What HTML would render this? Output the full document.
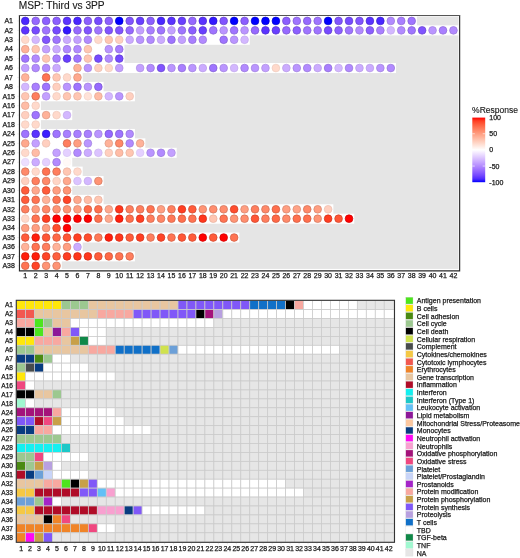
<!DOCTYPE html>
<html><head><meta charset="utf-8"><style>
html,body{margin:0;padding:0;background:#fff;width:520px;height:558px;overflow:hidden;}
svg{display:block;will-change:transform;}
text{stroke:#1a1a1a;stroke-width:0.25px;}
</style></head><body>
<svg width="520" height="558" viewBox="0 0 520 558" font-family='"Liberation Sans", sans-serif'>
<rect x="0" y="0" width="520" height="558" fill="#ffffff"/>
<text x="18.8" y="8.8" font-size="10.2" fill="#1a1a1a" style="stroke-width:0.12px">MSP: Third vs 3PP</text>
<rect x="20.1" y="16.45" width="438.40" height="252.45" fill="#e5e5e5"/>
<rect x="20.02" y="15.94" width="396.87" height="10.02" fill="#ffffff"/>
<rect x="20.02" y="25.36" width="438.65" height="10.02" fill="#ffffff"/>
<rect x="20.02" y="34.78" width="229.77" height="10.02" fill="#ffffff"/>
<rect x="20.02" y="44.19" width="104.44" height="10.02" fill="#ffffff"/>
<rect x="20.02" y="53.61" width="104.44" height="10.02" fill="#ffffff"/>
<rect x="20.02" y="63.03" width="375.98" height="10.02" fill="#ffffff"/>
<rect x="20.02" y="72.44" width="62.66" height="10.02" fill="#ffffff"/>
<rect x="20.02" y="81.86" width="83.55" height="10.02" fill="#ffffff"/>
<rect x="20.02" y="91.28" width="114.88" height="10.02" fill="#ffffff"/>
<rect x="20.02" y="100.69" width="20.89" height="10.02" fill="#ffffff"/>
<rect x="20.02" y="110.11" width="52.22" height="10.02" fill="#ffffff"/>
<rect x="20.02" y="119.53" width="20.89" height="10.02" fill="#ffffff"/>
<rect x="20.02" y="128.95" width="114.88" height="10.02" fill="#ffffff"/>
<rect x="20.02" y="138.36" width="125.33" height="10.02" fill="#ffffff"/>
<rect x="20.02" y="147.78" width="156.66" height="10.02" fill="#ffffff"/>
<rect x="20.02" y="157.20" width="52.22" height="10.02" fill="#ffffff"/>
<rect x="20.02" y="166.61" width="62.66" height="10.02" fill="#ffffff"/>
<rect x="20.02" y="176.03" width="83.55" height="10.02" fill="#ffffff"/>
<rect x="20.02" y="185.45" width="52.22" height="10.02" fill="#ffffff"/>
<rect x="20.02" y="194.86" width="83.55" height="10.02" fill="#ffffff"/>
<rect x="20.02" y="204.28" width="313.32" height="10.02" fill="#ffffff"/>
<rect x="20.02" y="213.70" width="334.21" height="10.02" fill="#ffffff"/>
<rect x="20.02" y="223.12" width="52.22" height="10.02" fill="#ffffff"/>
<rect x="20.02" y="232.53" width="219.32" height="10.02" fill="#ffffff"/>
<rect x="20.02" y="241.95" width="62.66" height="10.02" fill="#ffffff"/>
<rect x="20.02" y="251.37" width="114.88" height="10.02" fill="#ffffff"/>
<rect x="20.02" y="260.78" width="41.78" height="10.02" fill="#ffffff"/>
<circle cx="25.25" cy="20.95" r="3.85" fill="#4a27ff" stroke="#3b1fcc" stroke-width="0.7"/>
<circle cx="35.69" cy="20.95" r="3.85" fill="#9669ff" stroke="#7854cc" stroke-width="0.7"/>
<circle cx="46.13" cy="20.95" r="3.85" fill="#8c5fff" stroke="#704ccc" stroke-width="0.7"/>
<circle cx="56.58" cy="20.95" r="3.85" fill="#8c5fff" stroke="#704ccc" stroke-width="0.7"/>
<circle cx="67.02" cy="20.95" r="3.85" fill="#5b33ff" stroke="#4828cc" stroke-width="0.7"/>
<circle cx="77.47" cy="20.95" r="3.85" fill="#4a27ff" stroke="#3b1fcc" stroke-width="0.7"/>
<circle cx="87.91" cy="20.95" r="3.85" fill="#8c5fff" stroke="#704ccc" stroke-width="0.7"/>
<circle cx="98.35" cy="20.95" r="3.85" fill="#764aff" stroke="#5e3bcc" stroke-width="0.7"/>
<circle cx="108.80" cy="20.95" r="3.85" fill="#8c5fff" stroke="#704ccc" stroke-width="0.7"/>
<circle cx="119.24" cy="20.95" r="3.85" fill="#0000ff" stroke="#0000cc" stroke-width="0.7"/>
<circle cx="129.69" cy="20.95" r="3.85" fill="#8154ff" stroke="#6743cc" stroke-width="0.7"/>
<circle cx="140.13" cy="20.95" r="3.85" fill="#693fff" stroke="#5432cc" stroke-width="0.7"/>
<circle cx="150.57" cy="20.95" r="3.85" fill="#8c5fff" stroke="#704ccc" stroke-width="0.7"/>
<circle cx="161.02" cy="20.95" r="3.85" fill="#4a27ff" stroke="#3b1fcc" stroke-width="0.7"/>
<circle cx="171.46" cy="20.95" r="3.85" fill="#5b33ff" stroke="#4828cc" stroke-width="0.7"/>
<circle cx="181.91" cy="20.95" r="3.85" fill="#693fff" stroke="#5432cc" stroke-width="0.7"/>
<circle cx="192.35" cy="20.95" r="3.85" fill="#9669ff" stroke="#7854cc" stroke-width="0.7"/>
<circle cx="202.79" cy="20.95" r="3.85" fill="#5b33ff" stroke="#4828cc" stroke-width="0.7"/>
<circle cx="213.24" cy="20.95" r="3.85" fill="#3318ff" stroke="#2813cc" stroke-width="0.7"/>
<circle cx="223.68" cy="20.95" r="3.85" fill="#8154ff" stroke="#6743cc" stroke-width="0.7"/>
<circle cx="234.13" cy="20.95" r="3.85" fill="#0000ff" stroke="#0000cc" stroke-width="0.7"/>
<circle cx="244.57" cy="20.95" r="3.85" fill="#8c5fff" stroke="#704ccc" stroke-width="0.7"/>
<circle cx="255.01" cy="20.95" r="3.85" fill="#0000ff" stroke="#0000cc" stroke-width="0.7"/>
<circle cx="265.46" cy="20.95" r="3.85" fill="#0000ff" stroke="#0000cc" stroke-width="0.7"/>
<circle cx="275.90" cy="20.95" r="3.85" fill="#0000ff" stroke="#0000cc" stroke-width="0.7"/>
<circle cx="286.35" cy="20.95" r="3.85" fill="#8c5fff" stroke="#704ccc" stroke-width="0.7"/>
<circle cx="296.79" cy="20.95" r="3.85" fill="#9f74ff" stroke="#815ed0" stroke-width="0.7"/>
<circle cx="307.23" cy="20.95" r="3.85" fill="#9669ff" stroke="#7854cc" stroke-width="0.7"/>
<circle cx="317.68" cy="20.95" r="3.85" fill="#9f74ff" stroke="#815ed0" stroke-width="0.7"/>
<circle cx="328.12" cy="20.95" r="3.85" fill="#0000ff" stroke="#0000cc" stroke-width="0.7"/>
<circle cx="338.57" cy="20.95" r="3.85" fill="#8154ff" stroke="#6743cc" stroke-width="0.7"/>
<circle cx="349.01" cy="20.95" r="3.85" fill="#764aff" stroke="#5e3bcc" stroke-width="0.7"/>
<circle cx="359.45" cy="20.95" r="3.85" fill="#8154ff" stroke="#6743cc" stroke-width="0.7"/>
<circle cx="369.90" cy="20.95" r="3.85" fill="#5b33ff" stroke="#4828cc" stroke-width="0.7"/>
<circle cx="380.34" cy="20.95" r="3.85" fill="#4a27ff" stroke="#3b1fcc" stroke-width="0.7"/>
<circle cx="390.79" cy="20.95" r="3.85" fill="#b28aff" stroke="#9775d8" stroke-width="0.7"/>
<circle cx="401.23" cy="20.95" r="3.85" fill="#a97fff" stroke="#8c69d4" stroke-width="0.7"/>
<circle cx="411.67" cy="20.95" r="3.85" fill="#9f74ff" stroke="#815ed0" stroke-width="0.7"/>
<circle cx="25.25" cy="30.37" r="3.85" fill="#5b33ff" stroke="#4828cc" stroke-width="0.7"/>
<circle cx="35.69" cy="30.37" r="3.85" fill="#764aff" stroke="#5e3bcc" stroke-width="0.7"/>
<circle cx="46.13" cy="30.37" r="3.85" fill="#9f74ff" stroke="#815ed0" stroke-width="0.7"/>
<circle cx="56.58" cy="30.37" r="3.85" fill="#764aff" stroke="#5e3bcc" stroke-width="0.7"/>
<circle cx="67.02" cy="30.37" r="3.85" fill="#3318ff" stroke="#2813cc" stroke-width="0.7"/>
<circle cx="77.47" cy="30.37" r="3.85" fill="#9669ff" stroke="#7854cc" stroke-width="0.7"/>
<circle cx="87.91" cy="30.37" r="3.85" fill="#8154ff" stroke="#6743cc" stroke-width="0.7"/>
<circle cx="98.35" cy="30.37" r="3.85" fill="#9f74ff" stroke="#815ed0" stroke-width="0.7"/>
<circle cx="108.80" cy="30.37" r="3.85" fill="#8154ff" stroke="#6743cc" stroke-width="0.7"/>
<circle cx="119.24" cy="30.37" r="3.85" fill="#8154ff" stroke="#6743cc" stroke-width="0.7"/>
<circle cx="129.69" cy="30.37" r="3.85" fill="#9669ff" stroke="#7854cc" stroke-width="0.7"/>
<circle cx="140.13" cy="30.37" r="3.85" fill="#c3a0ff" stroke="#ac8de1" stroke-width="0.7"/>
<circle cx="150.57" cy="30.37" r="3.85" fill="#a97fff" stroke="#8c69d4" stroke-width="0.7"/>
<circle cx="161.02" cy="30.37" r="3.85" fill="#9f74ff" stroke="#815ed0" stroke-width="0.7"/>
<circle cx="171.46" cy="30.37" r="3.85" fill="#c3a0ff" stroke="#ac8de1" stroke-width="0.7"/>
<circle cx="181.91" cy="30.37" r="3.85" fill="#9f74ff" stroke="#815ed0" stroke-width="0.7"/>
<circle cx="192.35" cy="30.37" r="3.85" fill="#8c5fff" stroke="#704ccc" stroke-width="0.7"/>
<circle cx="202.79" cy="30.37" r="3.85" fill="#693fff" stroke="#5432cc" stroke-width="0.7"/>
<circle cx="213.24" cy="30.37" r="3.85" fill="#9f74ff" stroke="#815ed0" stroke-width="0.7"/>
<circle cx="223.68" cy="30.37" r="3.85" fill="#ba95ff" stroke="#a181dd" stroke-width="0.7"/>
<circle cx="234.13" cy="30.37" r="3.85" fill="#9f74ff" stroke="#815ed0" stroke-width="0.7"/>
<circle cx="244.57" cy="30.37" r="3.85" fill="#ba95ff" stroke="#a181dd" stroke-width="0.7"/>
<circle cx="255.01" cy="30.37" r="3.85" fill="#9669ff" stroke="#7854cc" stroke-width="0.7"/>
<circle cx="265.46" cy="30.37" r="3.85" fill="#5b33ff" stroke="#4828cc" stroke-width="0.7"/>
<circle cx="275.90" cy="30.37" r="3.85" fill="#693fff" stroke="#5432cc" stroke-width="0.7"/>
<circle cx="286.35" cy="30.37" r="3.85" fill="#9669ff" stroke="#7854cc" stroke-width="0.7"/>
<circle cx="296.79" cy="30.37" r="3.85" fill="#8c5fff" stroke="#704ccc" stroke-width="0.7"/>
<circle cx="307.23" cy="30.37" r="3.85" fill="#9f74ff" stroke="#815ed0" stroke-width="0.7"/>
<circle cx="317.68" cy="30.37" r="3.85" fill="#9f74ff" stroke="#815ed0" stroke-width="0.7"/>
<circle cx="328.12" cy="30.37" r="3.85" fill="#764aff" stroke="#5e3bcc" stroke-width="0.7"/>
<circle cx="338.57" cy="30.37" r="3.85" fill="#8c5fff" stroke="#704ccc" stroke-width="0.7"/>
<circle cx="349.01" cy="30.37" r="3.85" fill="#9f74ff" stroke="#815ed0" stroke-width="0.7"/>
<circle cx="359.45" cy="30.37" r="3.85" fill="#b28aff" stroke="#9775d8" stroke-width="0.7"/>
<circle cx="369.90" cy="30.37" r="3.85" fill="#8c5fff" stroke="#704ccc" stroke-width="0.7"/>
<circle cx="380.34" cy="30.37" r="3.85" fill="#a97fff" stroke="#8c69d4" stroke-width="0.7"/>
<circle cx="390.79" cy="30.37" r="3.85" fill="#d3b7ff" stroke="#c1a7e9" stroke-width="0.7"/>
<circle cx="401.23" cy="30.37" r="3.85" fill="#b28aff" stroke="#9775d8" stroke-width="0.7"/>
<circle cx="411.67" cy="30.37" r="3.85" fill="#9f74ff" stroke="#815ed0" stroke-width="0.7"/>
<circle cx="422.12" cy="30.37" r="3.85" fill="#8154ff" stroke="#6743cc" stroke-width="0.7"/>
<circle cx="432.56" cy="30.37" r="3.85" fill="#ba95ff" stroke="#a181dd" stroke-width="0.7"/>
<circle cx="443.01" cy="30.37" r="3.85" fill="#a97fff" stroke="#8c69d4" stroke-width="0.7"/>
<circle cx="453.45" cy="30.37" r="3.85" fill="#b28aff" stroke="#9775d8" stroke-width="0.7"/>
<circle cx="25.25" cy="39.78" r="3.85" fill="#ffd9cb" stroke="#eecabd" stroke-width="0.7"/>
<circle cx="35.69" cy="39.78" r="3.85" fill="#d3b7ff" stroke="#c1a7e9" stroke-width="0.7"/>
<circle cx="46.13" cy="39.78" r="3.85" fill="#8154ff" stroke="#6743cc" stroke-width="0.7"/>
<circle cx="56.58" cy="39.78" r="3.85" fill="#9f74ff" stroke="#815ed0" stroke-width="0.7"/>
<circle cx="67.02" cy="39.78" r="3.85" fill="#cbabff" stroke="#b699e5" stroke-width="0.7"/>
<circle cx="77.47" cy="39.78" r="3.85" fill="#c3a0ff" stroke="#ac8de1" stroke-width="0.7"/>
<circle cx="87.91" cy="39.78" r="3.85" fill="#b28aff" stroke="#9775d8" stroke-width="0.7"/>
<circle cx="98.35" cy="39.78" r="3.85" fill="#ffd9cb" stroke="#eecabd" stroke-width="0.7"/>
<circle cx="108.80" cy="39.78" r="3.85" fill="#ffc6b2" stroke="#e5b2a0" stroke-width="0.7"/>
<circle cx="119.24" cy="39.78" r="3.85" fill="#ffcfbf" stroke="#e9bdaf" stroke-width="0.7"/>
<circle cx="129.69" cy="39.78" r="3.85" fill="#cbabff" stroke="#b699e5" stroke-width="0.7"/>
<circle cx="140.13" cy="39.78" r="3.85" fill="#ba95ff" stroke="#a181dd" stroke-width="0.7"/>
<circle cx="150.57" cy="39.78" r="3.85" fill="#b28aff" stroke="#9775d8" stroke-width="0.7"/>
<circle cx="161.02" cy="39.78" r="3.85" fill="#cbabff" stroke="#b699e5" stroke-width="0.7"/>
<circle cx="171.46" cy="39.78" r="3.85" fill="#9f74ff" stroke="#815ed0" stroke-width="0.7"/>
<circle cx="181.91" cy="39.78" r="3.85" fill="#c3a0ff" stroke="#ac8de1" stroke-width="0.7"/>
<circle cx="192.35" cy="39.78" r="3.85" fill="#a97fff" stroke="#8c69d4" stroke-width="0.7"/>
<circle cx="202.79" cy="39.78" r="3.85" fill="#b28aff" stroke="#9775d8" stroke-width="0.7"/>
<circle cx="223.68" cy="39.78" r="3.85" fill="#9f74ff" stroke="#815ed0" stroke-width="0.7"/>
<circle cx="234.13" cy="39.78" r="3.85" fill="#ba95ff" stroke="#a181dd" stroke-width="0.7"/>
<circle cx="244.57" cy="39.78" r="3.85" fill="#d3b7ff" stroke="#c1a7e9" stroke-width="0.7"/>
<circle cx="25.25" cy="49.20" r="3.85" fill="#ffb299" stroke="#dd9a84" stroke-width="0.7"/>
<circle cx="35.69" cy="49.20" r="3.85" fill="#ffc6b2" stroke="#e5b2a0" stroke-width="0.7"/>
<circle cx="46.13" cy="49.20" r="3.85" fill="#c3a0ff" stroke="#ac8de1" stroke-width="0.7"/>
<circle cx="56.58" cy="49.20" r="3.85" fill="#cbabff" stroke="#b699e5" stroke-width="0.7"/>
<circle cx="67.02" cy="49.20" r="3.85" fill="#b28aff" stroke="#9775d8" stroke-width="0.7"/>
<circle cx="77.47" cy="49.20" r="3.85" fill="#b28aff" stroke="#9775d8" stroke-width="0.7"/>
<circle cx="87.91" cy="49.20" r="3.85" fill="#ffc6b2" stroke="#e5b2a0" stroke-width="0.7"/>
<circle cx="108.80" cy="49.20" r="3.85" fill="#ba95ff" stroke="#a181dd" stroke-width="0.7"/>
<circle cx="119.24" cy="49.20" r="3.85" fill="#a97fff" stroke="#8c69d4" stroke-width="0.7"/>
<circle cx="25.25" cy="58.62" r="3.85" fill="#9f74ff" stroke="#815ed0" stroke-width="0.7"/>
<circle cx="35.69" cy="58.62" r="3.85" fill="#b28aff" stroke="#9775d8" stroke-width="0.7"/>
<circle cx="46.13" cy="58.62" r="3.85" fill="#ffc6b2" stroke="#e5b2a0" stroke-width="0.7"/>
<circle cx="56.58" cy="58.62" r="3.85" fill="#a97fff" stroke="#8c69d4" stroke-width="0.7"/>
<circle cx="67.02" cy="58.62" r="3.85" fill="#693fff" stroke="#5432cc" stroke-width="0.7"/>
<circle cx="77.47" cy="58.62" r="3.85" fill="#9f74ff" stroke="#815ed0" stroke-width="0.7"/>
<circle cx="87.91" cy="58.62" r="3.85" fill="#ffc6b2" stroke="#e5b2a0" stroke-width="0.7"/>
<circle cx="98.35" cy="58.62" r="3.85" fill="#764aff" stroke="#5e3bcc" stroke-width="0.7"/>
<circle cx="108.80" cy="58.62" r="3.85" fill="#b28aff" stroke="#9775d8" stroke-width="0.7"/>
<circle cx="119.24" cy="58.62" r="3.85" fill="#764aff" stroke="#5e3bcc" stroke-width="0.7"/>
<circle cx="25.25" cy="68.04" r="3.85" fill="#c3a0ff" stroke="#ac8de1" stroke-width="0.7"/>
<circle cx="35.69" cy="68.04" r="3.85" fill="#b28aff" stroke="#9775d8" stroke-width="0.7"/>
<circle cx="46.13" cy="68.04" r="3.85" fill="#b28aff" stroke="#9775d8" stroke-width="0.7"/>
<circle cx="56.58" cy="68.04" r="3.85" fill="#cbabff" stroke="#b699e5" stroke-width="0.7"/>
<circle cx="77.47" cy="68.04" r="3.85" fill="#ffb299" stroke="#dd9a84" stroke-width="0.7"/>
<circle cx="87.91" cy="68.04" r="3.85" fill="#ba95ff" stroke="#a181dd" stroke-width="0.7"/>
<circle cx="98.35" cy="68.04" r="3.85" fill="#ffcfbf" stroke="#e9bdaf" stroke-width="0.7"/>
<circle cx="108.80" cy="68.04" r="3.85" fill="#ffd9cb" stroke="#eecabd" stroke-width="0.7"/>
<circle cx="119.24" cy="68.04" r="3.85" fill="#c3a0ff" stroke="#ac8de1" stroke-width="0.7"/>
<circle cx="140.13" cy="68.04" r="3.85" fill="#c3a0ff" stroke="#ac8de1" stroke-width="0.7"/>
<circle cx="150.57" cy="68.04" r="3.85" fill="#b28aff" stroke="#9775d8" stroke-width="0.7"/>
<circle cx="161.02" cy="68.04" r="3.85" fill="#8154ff" stroke="#6743cc" stroke-width="0.7"/>
<circle cx="171.46" cy="68.04" r="3.85" fill="#ba95ff" stroke="#a181dd" stroke-width="0.7"/>
<circle cx="181.91" cy="68.04" r="3.85" fill="#a97fff" stroke="#8c69d4" stroke-width="0.7"/>
<circle cx="192.35" cy="68.04" r="3.85" fill="#ba95ff" stroke="#a181dd" stroke-width="0.7"/>
<circle cx="202.79" cy="68.04" r="3.85" fill="#cbabff" stroke="#b699e5" stroke-width="0.7"/>
<circle cx="213.24" cy="68.04" r="3.85" fill="#9f74ff" stroke="#815ed0" stroke-width="0.7"/>
<circle cx="223.68" cy="68.04" r="3.85" fill="#ba95ff" stroke="#a181dd" stroke-width="0.7"/>
<circle cx="234.13" cy="68.04" r="3.85" fill="#d3b7ff" stroke="#c1a7e9" stroke-width="0.7"/>
<circle cx="244.57" cy="68.04" r="3.85" fill="#b28aff" stroke="#9775d8" stroke-width="0.7"/>
<circle cx="255.01" cy="68.04" r="3.85" fill="#ba95ff" stroke="#a181dd" stroke-width="0.7"/>
<circle cx="265.46" cy="68.04" r="3.85" fill="#c3a0ff" stroke="#ac8de1" stroke-width="0.7"/>
<circle cx="275.90" cy="68.04" r="3.85" fill="#ffd9cb" stroke="#eecabd" stroke-width="0.7"/>
<circle cx="286.35" cy="68.04" r="3.85" fill="#cbabff" stroke="#b699e5" stroke-width="0.7"/>
<circle cx="296.79" cy="68.04" r="3.85" fill="#ba95ff" stroke="#a181dd" stroke-width="0.7"/>
<circle cx="307.23" cy="68.04" r="3.85" fill="#b28aff" stroke="#9775d8" stroke-width="0.7"/>
<circle cx="317.68" cy="68.04" r="3.85" fill="#cbabff" stroke="#b699e5" stroke-width="0.7"/>
<circle cx="328.12" cy="68.04" r="3.85" fill="#a97fff" stroke="#8c69d4" stroke-width="0.7"/>
<circle cx="338.57" cy="68.04" r="3.85" fill="#d3b7ff" stroke="#c1a7e9" stroke-width="0.7"/>
<circle cx="349.01" cy="68.04" r="3.85" fill="#b28aff" stroke="#9775d8" stroke-width="0.7"/>
<circle cx="359.45" cy="68.04" r="3.85" fill="#cbabff" stroke="#b699e5" stroke-width="0.7"/>
<circle cx="369.90" cy="68.04" r="3.85" fill="#cbabff" stroke="#b699e5" stroke-width="0.7"/>
<circle cx="380.34" cy="68.04" r="3.85" fill="#ba95ff" stroke="#a181dd" stroke-width="0.7"/>
<circle cx="390.79" cy="68.04" r="3.85" fill="#b28aff" stroke="#9775d8" stroke-width="0.7"/>
<circle cx="25.25" cy="77.45" r="3.85" fill="#ffb299" stroke="#dd9a84" stroke-width="0.7"/>
<circle cx="46.13" cy="77.45" r="3.85" fill="#ff7352" stroke="#cc5c41" stroke-width="0.7"/>
<circle cx="56.58" cy="77.45" r="3.85" fill="#ffc6b2" stroke="#e5b2a0" stroke-width="0.7"/>
<circle cx="67.02" cy="77.45" r="3.85" fill="#ffd9cb" stroke="#eecabd" stroke-width="0.7"/>
<circle cx="77.47" cy="77.45" r="3.85" fill="#ffa88d" stroke="#d88e77" stroke-width="0.7"/>
<circle cx="25.25" cy="86.87" r="3.85" fill="#d3b7ff" stroke="#c1a7e9" stroke-width="0.7"/>
<circle cx="35.69" cy="86.87" r="3.85" fill="#a97fff" stroke="#8c69d4" stroke-width="0.7"/>
<circle cx="46.13" cy="86.87" r="3.85" fill="#9f74ff" stroke="#815ed0" stroke-width="0.7"/>
<circle cx="56.58" cy="86.87" r="3.85" fill="#ffcfbf" stroke="#e9bdaf" stroke-width="0.7"/>
<circle cx="67.02" cy="86.87" r="3.85" fill="#ba95ff" stroke="#a181dd" stroke-width="0.7"/>
<circle cx="77.47" cy="86.87" r="3.85" fill="#9f74ff" stroke="#815ed0" stroke-width="0.7"/>
<circle cx="87.91" cy="86.87" r="3.85" fill="#ba95ff" stroke="#a181dd" stroke-width="0.7"/>
<circle cx="98.35" cy="86.87" r="3.85" fill="#9669ff" stroke="#7854cc" stroke-width="0.7"/>
<circle cx="25.25" cy="96.29" r="3.85" fill="#ffc6b2" stroke="#e5b2a0" stroke-width="0.7"/>
<circle cx="35.69" cy="96.29" r="3.85" fill="#ff7e5e" stroke="#cc644b" stroke-width="0.7"/>
<circle cx="46.13" cy="96.29" r="3.85" fill="#c3a0ff" stroke="#ac8de1" stroke-width="0.7"/>
<circle cx="56.58" cy="96.29" r="3.85" fill="#ffd9cb" stroke="#eecabd" stroke-width="0.7"/>
<circle cx="67.02" cy="96.29" r="3.85" fill="#ffc6b2" stroke="#e5b2a0" stroke-width="0.7"/>
<circle cx="77.47" cy="96.29" r="3.85" fill="#ffc6b2" stroke="#e5b2a0" stroke-width="0.7"/>
<circle cx="87.91" cy="96.29" r="3.85" fill="#ffe2d8" stroke="#f2d6cd" stroke-width="0.7"/>
<circle cx="98.35" cy="96.29" r="3.85" fill="#ffbca6" stroke="#e1a692" stroke-width="0.7"/>
<circle cx="108.80" cy="96.29" r="3.85" fill="#d3b7ff" stroke="#c1a7e9" stroke-width="0.7"/>
<circle cx="119.24" cy="96.29" r="3.85" fill="#ba95ff" stroke="#a181dd" stroke-width="0.7"/>
<circle cx="129.69" cy="96.29" r="3.85" fill="#ffcfbf" stroke="#e9bdaf" stroke-width="0.7"/>
<circle cx="25.25" cy="105.70" r="3.85" fill="#ffbca6" stroke="#e1a692" stroke-width="0.7"/>
<circle cx="35.69" cy="105.70" r="3.85" fill="#ffd9cb" stroke="#eecabd" stroke-width="0.7"/>
<circle cx="25.25" cy="115.12" r="3.85" fill="#ffcfbf" stroke="#e9bdaf" stroke-width="0.7"/>
<circle cx="35.69" cy="115.12" r="3.85" fill="#9f74ff" stroke="#815ed0" stroke-width="0.7"/>
<circle cx="46.13" cy="115.12" r="3.85" fill="#ffb299" stroke="#dd9a84" stroke-width="0.7"/>
<circle cx="56.58" cy="115.12" r="3.85" fill="#ffd9cb" stroke="#eecabd" stroke-width="0.7"/>
<circle cx="67.02" cy="115.12" r="3.85" fill="#d3b7ff" stroke="#c1a7e9" stroke-width="0.7"/>
<circle cx="25.25" cy="124.54" r="3.85" fill="#ffd9cb" stroke="#eecabd" stroke-width="0.7"/>
<circle cx="35.69" cy="124.54" r="3.85" fill="#ffd9cb" stroke="#eecabd" stroke-width="0.7"/>
<circle cx="25.25" cy="133.95" r="3.85" fill="#9f74ff" stroke="#815ed0" stroke-width="0.7"/>
<circle cx="35.69" cy="133.95" r="3.85" fill="#5b33ff" stroke="#4828cc" stroke-width="0.7"/>
<circle cx="46.13" cy="133.95" r="3.85" fill="#3d1eff" stroke="#3018cc" stroke-width="0.7"/>
<circle cx="56.58" cy="133.95" r="3.85" fill="#9f74ff" stroke="#815ed0" stroke-width="0.7"/>
<circle cx="67.02" cy="133.95" r="3.85" fill="#a97fff" stroke="#8c69d4" stroke-width="0.7"/>
<circle cx="77.47" cy="133.95" r="3.85" fill="#a97fff" stroke="#8c69d4" stroke-width="0.7"/>
<circle cx="87.91" cy="133.95" r="3.85" fill="#a97fff" stroke="#8c69d4" stroke-width="0.7"/>
<circle cx="98.35" cy="133.95" r="3.85" fill="#ba95ff" stroke="#a181dd" stroke-width="0.7"/>
<circle cx="108.80" cy="133.95" r="3.85" fill="#9669ff" stroke="#7854cc" stroke-width="0.7"/>
<circle cx="119.24" cy="133.95" r="3.85" fill="#9f74ff" stroke="#815ed0" stroke-width="0.7"/>
<circle cx="129.69" cy="133.95" r="3.85" fill="#b28aff" stroke="#9775d8" stroke-width="0.7"/>
<circle cx="25.25" cy="143.37" r="3.85" fill="#ffa88d" stroke="#d88e77" stroke-width="0.7"/>
<circle cx="35.69" cy="143.37" r="3.85" fill="#c3a0ff" stroke="#ac8de1" stroke-width="0.7"/>
<circle cx="46.13" cy="143.37" r="3.85" fill="#ffcfbf" stroke="#e9bdaf" stroke-width="0.7"/>
<circle cx="67.02" cy="143.37" r="3.85" fill="#ff7e5e" stroke="#cc644b" stroke-width="0.7"/>
<circle cx="77.47" cy="143.37" r="3.85" fill="#ff9e81" stroke="#d4836b" stroke-width="0.7"/>
<circle cx="87.91" cy="143.37" r="3.85" fill="#ba95ff" stroke="#a181dd" stroke-width="0.7"/>
<circle cx="108.80" cy="143.37" r="3.85" fill="#ffb299" stroke="#dd9a84" stroke-width="0.7"/>
<circle cx="119.24" cy="143.37" r="3.85" fill="#ff8969" stroke="#cc6d54" stroke-width="0.7"/>
<circle cx="129.69" cy="143.37" r="3.85" fill="#b28aff" stroke="#9775d8" stroke-width="0.7"/>
<circle cx="140.13" cy="143.37" r="3.85" fill="#ffb299" stroke="#dd9a84" stroke-width="0.7"/>
<circle cx="25.25" cy="152.79" r="3.85" fill="#ffd9cb" stroke="#eecabd" stroke-width="0.7"/>
<circle cx="35.69" cy="152.79" r="3.85" fill="#ffbca6" stroke="#e1a692" stroke-width="0.7"/>
<circle cx="56.58" cy="152.79" r="3.85" fill="#c3a0ff" stroke="#ac8de1" stroke-width="0.7"/>
<circle cx="67.02" cy="152.79" r="3.85" fill="#e4d0ff" stroke="#d8c5f2" stroke-width="0.7"/>
<circle cx="77.47" cy="152.79" r="3.85" fill="#b28aff" stroke="#9775d8" stroke-width="0.7"/>
<circle cx="87.91" cy="152.79" r="3.85" fill="#cbabff" stroke="#b699e5" stroke-width="0.7"/>
<circle cx="98.35" cy="152.79" r="3.85" fill="#dbc3ff" stroke="#ccb6ee" stroke-width="0.7"/>
<circle cx="108.80" cy="152.79" r="3.85" fill="#ffcfbf" stroke="#e9bdaf" stroke-width="0.7"/>
<circle cx="119.24" cy="152.79" r="3.85" fill="#ffbca6" stroke="#e1a692" stroke-width="0.7"/>
<circle cx="129.69" cy="152.79" r="3.85" fill="#ffc6b2" stroke="#e5b2a0" stroke-width="0.7"/>
<circle cx="140.13" cy="152.79" r="3.85" fill="#e4d0ff" stroke="#d8c5f2" stroke-width="0.7"/>
<circle cx="150.57" cy="152.79" r="3.85" fill="#ba95ff" stroke="#a181dd" stroke-width="0.7"/>
<circle cx="161.02" cy="152.79" r="3.85" fill="#b28aff" stroke="#9775d8" stroke-width="0.7"/>
<circle cx="171.46" cy="152.79" r="3.85" fill="#c3a0ff" stroke="#ac8de1" stroke-width="0.7"/>
<circle cx="25.25" cy="162.21" r="3.85" fill="#ecdeff" stroke="#e4d6f6" stroke-width="0.7"/>
<circle cx="35.69" cy="162.21" r="3.85" fill="#cbabff" stroke="#b699e5" stroke-width="0.7"/>
<circle cx="46.13" cy="162.21" r="3.85" fill="#e4d0ff" stroke="#d8c5f2" stroke-width="0.7"/>
<circle cx="56.58" cy="162.21" r="3.85" fill="#b28aff" stroke="#9775d8" stroke-width="0.7"/>
<circle cx="67.02" cy="162.21" r="3.85" fill="#fff9f7" stroke="#fcf6f4" stroke-width="0.7"/>
<circle cx="25.25" cy="171.62" r="3.85" fill="#ff8969" stroke="#cc6d54" stroke-width="0.7"/>
<circle cx="35.69" cy="171.62" r="3.85" fill="#ffd9cb" stroke="#eecabd" stroke-width="0.7"/>
<circle cx="46.13" cy="171.62" r="3.85" fill="#ff7352" stroke="#cc5c41" stroke-width="0.7"/>
<circle cx="56.58" cy="171.62" r="3.85" fill="#ff7e5e" stroke="#cc644b" stroke-width="0.7"/>
<circle cx="67.02" cy="171.62" r="3.85" fill="#ffc6b2" stroke="#e5b2a0" stroke-width="0.7"/>
<circle cx="77.47" cy="171.62" r="3.85" fill="#ffd9cb" stroke="#eecabd" stroke-width="0.7"/>
<circle cx="25.25" cy="181.04" r="3.85" fill="#ffcfbf" stroke="#e9bdaf" stroke-width="0.7"/>
<circle cx="35.69" cy="181.04" r="3.85" fill="#ff7e5e" stroke="#cc644b" stroke-width="0.7"/>
<circle cx="46.13" cy="181.04" r="3.85" fill="#ff8969" stroke="#cc6d54" stroke-width="0.7"/>
<circle cx="56.58" cy="181.04" r="3.85" fill="#ffd5c6" stroke="#ecc5b7" stroke-width="0.7"/>
<circle cx="67.02" cy="181.04" r="3.85" fill="#ffa88d" stroke="#d88e77" stroke-width="0.7"/>
<circle cx="77.47" cy="181.04" r="3.85" fill="#dbc3ff" stroke="#ccb6ee" stroke-width="0.7"/>
<circle cx="87.91" cy="181.04" r="3.85" fill="#d3b7ff" stroke="#c1a7e9" stroke-width="0.7"/>
<circle cx="98.35" cy="181.04" r="3.85" fill="#ff9475" stroke="#d0785f" stroke-width="0.7"/>
<circle cx="25.25" cy="190.46" r="3.85" fill="#ff5b3a" stroke="#cc482e" stroke-width="0.7"/>
<circle cx="35.69" cy="190.46" r="3.85" fill="#ffa88d" stroke="#d88e77" stroke-width="0.7"/>
<circle cx="46.13" cy="190.46" r="3.85" fill="#ff5b3a" stroke="#cc482e" stroke-width="0.7"/>
<circle cx="56.58" cy="190.46" r="3.85" fill="#ff9e81" stroke="#d4836b" stroke-width="0.7"/>
<circle cx="67.02" cy="190.46" r="3.85" fill="#ff9475" stroke="#d0785f" stroke-width="0.7"/>
<circle cx="25.25" cy="199.87" r="3.85" fill="#ff5b3a" stroke="#cc482e" stroke-width="0.7"/>
<circle cx="35.69" cy="199.87" r="3.85" fill="#ff7352" stroke="#cc5c41" stroke-width="0.7"/>
<circle cx="46.13" cy="199.87" r="3.85" fill="#ffb299" stroke="#dd9a84" stroke-width="0.7"/>
<circle cx="56.58" cy="199.87" r="3.85" fill="#ff7352" stroke="#cc5c41" stroke-width="0.7"/>
<circle cx="67.02" cy="199.87" r="3.85" fill="#ff4427" stroke="#cc361f" stroke-width="0.7"/>
<circle cx="77.47" cy="199.87" r="3.85" fill="#ffa88d" stroke="#d88e77" stroke-width="0.7"/>
<circle cx="87.91" cy="199.87" r="3.85" fill="#ffbca6" stroke="#e1a692" stroke-width="0.7"/>
<circle cx="98.35" cy="199.87" r="3.85" fill="#ffc6b2" stroke="#e5b2a0" stroke-width="0.7"/>
<circle cx="25.25" cy="209.29" r="3.85" fill="#ff7e5e" stroke="#cc644b" stroke-width="0.7"/>
<circle cx="35.69" cy="209.29" r="3.85" fill="#ff9e81" stroke="#d4836b" stroke-width="0.7"/>
<circle cx="46.13" cy="209.29" r="3.85" fill="#ff8969" stroke="#cc6d54" stroke-width="0.7"/>
<circle cx="56.58" cy="209.29" r="3.85" fill="#ff9475" stroke="#d0785f" stroke-width="0.7"/>
<circle cx="67.02" cy="209.29" r="3.85" fill="#ff9475" stroke="#d0785f" stroke-width="0.7"/>
<circle cx="77.47" cy="209.29" r="3.85" fill="#ff9e81" stroke="#d4836b" stroke-width="0.7"/>
<circle cx="87.91" cy="209.29" r="3.85" fill="#ff6846" stroke="#cc5338" stroke-width="0.7"/>
<circle cx="98.35" cy="209.29" r="3.85" fill="#ff6f4d" stroke="#cc583d" stroke-width="0.7"/>
<circle cx="108.80" cy="209.29" r="3.85" fill="#ffa88d" stroke="#d88e77" stroke-width="0.7"/>
<circle cx="119.24" cy="209.29" r="3.85" fill="#ff361c" stroke="#cc2b16" stroke-width="0.7"/>
<circle cx="129.69" cy="209.29" r="3.85" fill="#ff7e5e" stroke="#cc644b" stroke-width="0.7"/>
<circle cx="140.13" cy="209.29" r="3.85" fill="#ff7e5e" stroke="#cc644b" stroke-width="0.7"/>
<circle cx="150.57" cy="209.29" r="3.85" fill="#ff7352" stroke="#cc5c41" stroke-width="0.7"/>
<circle cx="161.02" cy="209.29" r="3.85" fill="#ff9e81" stroke="#d4836b" stroke-width="0.7"/>
<circle cx="171.46" cy="209.29" r="3.85" fill="#ff7e5e" stroke="#cc644b" stroke-width="0.7"/>
<circle cx="181.91" cy="209.29" r="3.85" fill="#ff3e22" stroke="#cc311b" stroke-width="0.7"/>
<circle cx="192.35" cy="209.29" r="3.85" fill="#ff5b3a" stroke="#cc482e" stroke-width="0.7"/>
<circle cx="202.79" cy="209.29" r="3.85" fill="#ff9475" stroke="#d0785f" stroke-width="0.7"/>
<circle cx="213.24" cy="209.29" r="3.85" fill="#ff8d6e" stroke="#cd7158" stroke-width="0.7"/>
<circle cx="223.68" cy="209.29" r="3.85" fill="#ff8d6e" stroke="#cd7158" stroke-width="0.7"/>
<circle cx="234.13" cy="209.29" r="3.85" fill="#ff4d2e" stroke="#cc3d24" stroke-width="0.7"/>
<circle cx="244.57" cy="209.29" r="3.85" fill="#ff9e81" stroke="#d4836b" stroke-width="0.7"/>
<circle cx="255.01" cy="209.29" r="3.85" fill="#ff7e5e" stroke="#cc644b" stroke-width="0.7"/>
<circle cx="265.46" cy="209.29" r="3.85" fill="#ff8969" stroke="#cc6d54" stroke-width="0.7"/>
<circle cx="275.90" cy="209.29" r="3.85" fill="#ff6f4d" stroke="#cc583d" stroke-width="0.7"/>
<circle cx="286.35" cy="209.29" r="3.85" fill="#ff9e81" stroke="#d4836b" stroke-width="0.7"/>
<circle cx="296.79" cy="209.29" r="3.85" fill="#ffa286" stroke="#d68870" stroke-width="0.7"/>
<circle cx="307.23" cy="209.29" r="3.85" fill="#ff8969" stroke="#cc6d54" stroke-width="0.7"/>
<circle cx="317.68" cy="209.29" r="3.85" fill="#ff9e81" stroke="#d4836b" stroke-width="0.7"/>
<circle cx="328.12" cy="209.29" r="3.85" fill="#ffcfbf" stroke="#e9bdaf" stroke-width="0.7"/>
<circle cx="25.25" cy="218.71" r="3.85" fill="#ffd9cb" stroke="#eecabd" stroke-width="0.7"/>
<circle cx="35.69" cy="218.71" r="3.85" fill="#ff7352" stroke="#cc5c41" stroke-width="0.7"/>
<circle cx="46.13" cy="218.71" r="3.85" fill="#ff3e22" stroke="#cc311b" stroke-width="0.7"/>
<circle cx="56.58" cy="218.71" r="3.85" fill="#ff0000" stroke="#cc0000" stroke-width="0.7"/>
<circle cx="67.02" cy="218.71" r="3.85" fill="#ff0000" stroke="#cc0000" stroke-width="0.7"/>
<circle cx="77.47" cy="218.71" r="3.85" fill="#ff0000" stroke="#cc0000" stroke-width="0.7"/>
<circle cx="87.91" cy="218.71" r="3.85" fill="#ff0000" stroke="#cc0000" stroke-width="0.7"/>
<circle cx="98.35" cy="218.71" r="3.85" fill="#ff6f4d" stroke="#cc583d" stroke-width="0.7"/>
<circle cx="108.80" cy="218.71" r="3.85" fill="#ffa88d" stroke="#d88e77" stroke-width="0.7"/>
<circle cx="119.24" cy="218.71" r="3.85" fill="#ff1e0c" stroke="#cc1809" stroke-width="0.7"/>
<circle cx="129.69" cy="218.71" r="3.85" fill="#ff6f4d" stroke="#cc583d" stroke-width="0.7"/>
<circle cx="140.13" cy="218.71" r="3.85" fill="#ff3e22" stroke="#cc311b" stroke-width="0.7"/>
<circle cx="150.57" cy="218.71" r="3.85" fill="#ff7e5e" stroke="#cc644b" stroke-width="0.7"/>
<circle cx="161.02" cy="218.71" r="3.85" fill="#ff8565" stroke="#cc6a50" stroke-width="0.7"/>
<circle cx="171.46" cy="218.71" r="3.85" fill="#ff7857" stroke="#cc6045" stroke-width="0.7"/>
<circle cx="181.91" cy="218.71" r="3.85" fill="#ff6f4d" stroke="#cc583d" stroke-width="0.7"/>
<circle cx="192.35" cy="218.71" r="3.85" fill="#ff7352" stroke="#cc5c41" stroke-width="0.7"/>
<circle cx="202.79" cy="218.71" r="3.85" fill="#ff361c" stroke="#cc2b16" stroke-width="0.7"/>
<circle cx="213.24" cy="218.71" r="3.85" fill="#ffc6b2" stroke="#e5b2a0" stroke-width="0.7"/>
<circle cx="223.68" cy="218.71" r="3.85" fill="#ff7352" stroke="#cc5c41" stroke-width="0.7"/>
<circle cx="234.13" cy="218.71" r="3.85" fill="#ff9475" stroke="#d0785f" stroke-width="0.7"/>
<circle cx="244.57" cy="218.71" r="3.85" fill="#ff8d6e" stroke="#cd7158" stroke-width="0.7"/>
<circle cx="255.01" cy="218.71" r="3.85" fill="#ff5636" stroke="#cc442b" stroke-width="0.7"/>
<circle cx="265.46" cy="218.71" r="3.85" fill="#ff7e5e" stroke="#cc644b" stroke-width="0.7"/>
<circle cx="275.90" cy="218.71" r="3.85" fill="#ff6846" stroke="#cc5338" stroke-width="0.7"/>
<circle cx="286.35" cy="218.71" r="3.85" fill="#ff8969" stroke="#cc6d54" stroke-width="0.7"/>
<circle cx="296.79" cy="218.71" r="3.85" fill="#ff6f4d" stroke="#cc583d" stroke-width="0.7"/>
<circle cx="307.23" cy="218.71" r="3.85" fill="#ff6f4d" stroke="#cc583d" stroke-width="0.7"/>
<circle cx="317.68" cy="218.71" r="3.85" fill="#ff9475" stroke="#d0785f" stroke-width="0.7"/>
<circle cx="328.12" cy="218.71" r="3.85" fill="#ff3e22" stroke="#cc311b" stroke-width="0.7"/>
<circle cx="338.57" cy="218.71" r="3.85" fill="#ff5636" stroke="#cc442b" stroke-width="0.7"/>
<circle cx="349.01" cy="218.71" r="3.85" fill="#ff0000" stroke="#cc0000" stroke-width="0.7"/>
<circle cx="25.25" cy="228.12" r="3.85" fill="#ff9e81" stroke="#d4836b" stroke-width="0.7"/>
<circle cx="35.69" cy="228.12" r="3.85" fill="#ff9e81" stroke="#d4836b" stroke-width="0.7"/>
<circle cx="46.13" cy="228.12" r="3.85" fill="#ff9e81" stroke="#d4836b" stroke-width="0.7"/>
<circle cx="56.58" cy="228.12" r="3.85" fill="#ff4d2e" stroke="#cc3d24" stroke-width="0.7"/>
<circle cx="67.02" cy="228.12" r="3.85" fill="#ff0000" stroke="#cc0000" stroke-width="0.7"/>
<circle cx="25.25" cy="237.54" r="3.85" fill="#ff5b3a" stroke="#cc482e" stroke-width="0.7"/>
<circle cx="35.69" cy="237.54" r="3.85" fill="#ff1e0c" stroke="#cc1809" stroke-width="0.7"/>
<circle cx="46.13" cy="237.54" r="3.85" fill="#ff5636" stroke="#cc442b" stroke-width="0.7"/>
<circle cx="56.58" cy="237.54" r="3.85" fill="#ff6846" stroke="#cc5338" stroke-width="0.7"/>
<circle cx="67.02" cy="237.54" r="3.85" fill="#ff5636" stroke="#cc442b" stroke-width="0.7"/>
<circle cx="77.47" cy="237.54" r="3.85" fill="#ff3e22" stroke="#cc311b" stroke-width="0.7"/>
<circle cx="87.91" cy="237.54" r="3.85" fill="#ff4d2e" stroke="#cc3d24" stroke-width="0.7"/>
<circle cx="98.35" cy="237.54" r="3.85" fill="#ff7857" stroke="#cc6045" stroke-width="0.7"/>
<circle cx="108.80" cy="237.54" r="3.85" fill="#ff1e0c" stroke="#cc1809" stroke-width="0.7"/>
<circle cx="119.24" cy="237.54" r="3.85" fill="#ff361c" stroke="#cc2b16" stroke-width="0.7"/>
<circle cx="129.69" cy="237.54" r="3.85" fill="#ff5b3a" stroke="#cc482e" stroke-width="0.7"/>
<circle cx="140.13" cy="237.54" r="3.85" fill="#ff3e22" stroke="#cc311b" stroke-width="0.7"/>
<circle cx="150.57" cy="237.54" r="3.85" fill="#ff7e5e" stroke="#cc644b" stroke-width="0.7"/>
<circle cx="161.02" cy="237.54" r="3.85" fill="#ff4427" stroke="#cc361f" stroke-width="0.7"/>
<circle cx="171.46" cy="237.54" r="3.85" fill="#ff7352" stroke="#cc5c41" stroke-width="0.7"/>
<circle cx="181.91" cy="237.54" r="3.85" fill="#ff5636" stroke="#cc442b" stroke-width="0.7"/>
<circle cx="192.35" cy="237.54" r="3.85" fill="#ff5b3a" stroke="#cc482e" stroke-width="0.7"/>
<circle cx="202.79" cy="237.54" r="3.85" fill="#ff0000" stroke="#cc0000" stroke-width="0.7"/>
<circle cx="213.24" cy="237.54" r="3.85" fill="#ff5b3a" stroke="#cc482e" stroke-width="0.7"/>
<circle cx="223.68" cy="237.54" r="3.85" fill="#ff0000" stroke="#cc0000" stroke-width="0.7"/>
<circle cx="234.13" cy="237.54" r="3.85" fill="#ff7352" stroke="#cc5c41" stroke-width="0.7"/>
<circle cx="25.25" cy="246.96" r="3.85" fill="#ffb299" stroke="#dd9a84" stroke-width="0.7"/>
<circle cx="35.69" cy="246.96" r="3.85" fill="#ff7352" stroke="#cc5c41" stroke-width="0.7"/>
<circle cx="46.13" cy="246.96" r="3.85" fill="#ff7e5e" stroke="#cc644b" stroke-width="0.7"/>
<circle cx="56.58" cy="246.96" r="3.85" fill="#ffb299" stroke="#dd9a84" stroke-width="0.7"/>
<circle cx="67.02" cy="246.96" r="3.85" fill="#ff9e81" stroke="#d4836b" stroke-width="0.7"/>
<circle cx="77.47" cy="246.96" r="3.85" fill="#cbabff" stroke="#b699e5" stroke-width="0.7"/>
<circle cx="25.25" cy="256.38" r="3.85" fill="#ff1e0c" stroke="#cc1809" stroke-width="0.7"/>
<circle cx="35.69" cy="256.38" r="3.85" fill="#ff1e0c" stroke="#cc1809" stroke-width="0.7"/>
<circle cx="46.13" cy="256.38" r="3.85" fill="#ff4427" stroke="#cc361f" stroke-width="0.7"/>
<circle cx="56.58" cy="256.38" r="3.85" fill="#ff603f" stroke="#cc4c32" stroke-width="0.7"/>
<circle cx="67.02" cy="256.38" r="3.85" fill="#ff3e22" stroke="#cc311b" stroke-width="0.7"/>
<circle cx="77.47" cy="256.38" r="3.85" fill="#ff361c" stroke="#cc2b16" stroke-width="0.7"/>
<circle cx="87.91" cy="256.38" r="3.85" fill="#ff361c" stroke="#cc2b16" stroke-width="0.7"/>
<circle cx="98.35" cy="256.38" r="3.85" fill="#ff5b3a" stroke="#cc482e" stroke-width="0.7"/>
<circle cx="108.80" cy="256.38" r="3.85" fill="#ff6846" stroke="#cc5338" stroke-width="0.7"/>
<circle cx="119.24" cy="256.38" r="3.85" fill="#ff7352" stroke="#cc5c41" stroke-width="0.7"/>
<circle cx="129.69" cy="256.38" r="3.85" fill="#ff7e5e" stroke="#cc644b" stroke-width="0.7"/>
<circle cx="25.25" cy="265.79" r="3.85" fill="#ff7352" stroke="#cc5c41" stroke-width="0.7"/>
<circle cx="35.69" cy="265.79" r="3.85" fill="#ff4427" stroke="#cc361f" stroke-width="0.7"/>
<circle cx="46.13" cy="265.79" r="3.85" fill="#ff9475" stroke="#d0785f" stroke-width="0.7"/>
<circle cx="56.58" cy="265.79" r="3.85" fill="#ff9475" stroke="#d0785f" stroke-width="0.7"/>
<path d="M19.45 15.6 V270.85 H459.65 V15.6" fill="none" stroke="#2a2a2a" stroke-width="1.15"/>
<line x1="18.9" y1="15.45" x2="460.2" y2="15.45" stroke="#555" stroke-width="1.1"/>
<line x1="17.45" y1="20.95" x2="18.9" y2="20.95" stroke="#bbb" stroke-width="0.4"/>
<text x="8.7" y="23.20" font-size="7" text-anchor="middle" fill="#1a1a1a">A1</text>
<line x1="17.45" y1="30.37" x2="18.9" y2="30.37" stroke="#bbb" stroke-width="0.4"/>
<text x="8.7" y="32.62" font-size="7" text-anchor="middle" fill="#1a1a1a">A2</text>
<line x1="17.45" y1="39.78" x2="18.9" y2="39.78" stroke="#bbb" stroke-width="0.4"/>
<text x="8.7" y="42.03" font-size="7" text-anchor="middle" fill="#1a1a1a">A3</text>
<line x1="17.45" y1="49.20" x2="18.9" y2="49.20" stroke="#bbb" stroke-width="0.4"/>
<text x="8.7" y="51.45" font-size="7" text-anchor="middle" fill="#1a1a1a">A4</text>
<line x1="17.45" y1="58.62" x2="18.9" y2="58.62" stroke="#bbb" stroke-width="0.4"/>
<text x="8.7" y="60.87" font-size="7" text-anchor="middle" fill="#1a1a1a">A5</text>
<line x1="17.45" y1="68.04" x2="18.9" y2="68.04" stroke="#bbb" stroke-width="0.4"/>
<text x="8.7" y="70.29" font-size="7" text-anchor="middle" fill="#1a1a1a">A6</text>
<line x1="17.45" y1="77.45" x2="18.9" y2="77.45" stroke="#bbb" stroke-width="0.4"/>
<text x="8.7" y="79.70" font-size="7" text-anchor="middle" fill="#1a1a1a">A7</text>
<line x1="17.45" y1="86.87" x2="18.9" y2="86.87" stroke="#bbb" stroke-width="0.4"/>
<text x="8.7" y="89.12" font-size="7" text-anchor="middle" fill="#1a1a1a">A8</text>
<line x1="17.45" y1="96.29" x2="18.9" y2="96.29" stroke="#bbb" stroke-width="0.4"/>
<text x="8.7" y="98.54" font-size="7" text-anchor="middle" fill="#1a1a1a">A15</text>
<line x1="17.45" y1="105.70" x2="18.9" y2="105.70" stroke="#bbb" stroke-width="0.4"/>
<text x="8.7" y="107.95" font-size="7" text-anchor="middle" fill="#1a1a1a">A16</text>
<line x1="17.45" y1="115.12" x2="18.9" y2="115.12" stroke="#bbb" stroke-width="0.4"/>
<text x="8.7" y="117.37" font-size="7" text-anchor="middle" fill="#1a1a1a">A17</text>
<line x1="17.45" y1="124.54" x2="18.9" y2="124.54" stroke="#bbb" stroke-width="0.4"/>
<text x="8.7" y="126.79" font-size="7" text-anchor="middle" fill="#1a1a1a">A18</text>
<line x1="17.45" y1="133.95" x2="18.9" y2="133.95" stroke="#bbb" stroke-width="0.4"/>
<text x="8.7" y="136.20" font-size="7" text-anchor="middle" fill="#1a1a1a">A24</text>
<line x1="17.45" y1="143.37" x2="18.9" y2="143.37" stroke="#bbb" stroke-width="0.4"/>
<text x="8.7" y="145.62" font-size="7" text-anchor="middle" fill="#1a1a1a">A25</text>
<line x1="17.45" y1="152.79" x2="18.9" y2="152.79" stroke="#bbb" stroke-width="0.4"/>
<text x="8.7" y="155.04" font-size="7" text-anchor="middle" fill="#1a1a1a">A26</text>
<line x1="17.45" y1="162.21" x2="18.9" y2="162.21" stroke="#bbb" stroke-width="0.4"/>
<text x="8.7" y="164.46" font-size="7" text-anchor="middle" fill="#1a1a1a">A27</text>
<line x1="17.45" y1="171.62" x2="18.9" y2="171.62" stroke="#bbb" stroke-width="0.4"/>
<text x="8.7" y="173.87" font-size="7" text-anchor="middle" fill="#1a1a1a">A28</text>
<line x1="17.45" y1="181.04" x2="18.9" y2="181.04" stroke="#bbb" stroke-width="0.4"/>
<text x="8.7" y="183.29" font-size="7" text-anchor="middle" fill="#1a1a1a">A29</text>
<line x1="17.45" y1="190.46" x2="18.9" y2="190.46" stroke="#bbb" stroke-width="0.4"/>
<text x="8.7" y="192.71" font-size="7" text-anchor="middle" fill="#1a1a1a">A30</text>
<line x1="17.45" y1="199.87" x2="18.9" y2="199.87" stroke="#bbb" stroke-width="0.4"/>
<text x="8.7" y="202.12" font-size="7" text-anchor="middle" fill="#1a1a1a">A31</text>
<line x1="17.45" y1="209.29" x2="18.9" y2="209.29" stroke="#bbb" stroke-width="0.4"/>
<text x="8.7" y="211.54" font-size="7" text-anchor="middle" fill="#1a1a1a">A32</text>
<line x1="17.45" y1="218.71" x2="18.9" y2="218.71" stroke="#bbb" stroke-width="0.4"/>
<text x="8.7" y="220.96" font-size="7" text-anchor="middle" fill="#1a1a1a">A33</text>
<line x1="17.45" y1="228.12" x2="18.9" y2="228.12" stroke="#bbb" stroke-width="0.4"/>
<text x="8.7" y="230.37" font-size="7" text-anchor="middle" fill="#1a1a1a">A34</text>
<line x1="17.45" y1="237.54" x2="18.9" y2="237.54" stroke="#bbb" stroke-width="0.4"/>
<text x="8.7" y="239.79" font-size="7" text-anchor="middle" fill="#1a1a1a">A35</text>
<line x1="17.45" y1="246.96" x2="18.9" y2="246.96" stroke="#bbb" stroke-width="0.4"/>
<text x="8.7" y="249.21" font-size="7" text-anchor="middle" fill="#1a1a1a">A36</text>
<line x1="17.45" y1="256.38" x2="18.9" y2="256.38" stroke="#bbb" stroke-width="0.4"/>
<text x="8.7" y="258.63" font-size="7" text-anchor="middle" fill="#1a1a1a">A37</text>
<line x1="17.45" y1="265.79" x2="18.9" y2="265.79" stroke="#bbb" stroke-width="0.4"/>
<text x="8.7" y="268.04" font-size="7" text-anchor="middle" fill="#1a1a1a">A38</text>
<line x1="25.25" y1="271.3" x2="25.25" y2="272.6" stroke="#bbb" stroke-width="0.4"/>
<text x="25.25" y="277.8" font-size="7" text-anchor="middle" fill="#1a1a1a">1</text>
<line x1="35.69" y1="271.3" x2="35.69" y2="272.6" stroke="#bbb" stroke-width="0.4"/>
<text x="35.69" y="277.8" font-size="7" text-anchor="middle" fill="#1a1a1a">2</text>
<line x1="46.13" y1="271.3" x2="46.13" y2="272.6" stroke="#bbb" stroke-width="0.4"/>
<text x="46.13" y="277.8" font-size="7" text-anchor="middle" fill="#1a1a1a">3</text>
<line x1="56.58" y1="271.3" x2="56.58" y2="272.6" stroke="#bbb" stroke-width="0.4"/>
<text x="56.58" y="277.8" font-size="7" text-anchor="middle" fill="#1a1a1a">4</text>
<line x1="67.02" y1="271.3" x2="67.02" y2="272.6" stroke="#bbb" stroke-width="0.4"/>
<text x="67.02" y="277.8" font-size="7" text-anchor="middle" fill="#1a1a1a">5</text>
<line x1="77.47" y1="271.3" x2="77.47" y2="272.6" stroke="#bbb" stroke-width="0.4"/>
<text x="77.47" y="277.8" font-size="7" text-anchor="middle" fill="#1a1a1a">6</text>
<line x1="87.91" y1="271.3" x2="87.91" y2="272.6" stroke="#bbb" stroke-width="0.4"/>
<text x="87.91" y="277.8" font-size="7" text-anchor="middle" fill="#1a1a1a">7</text>
<line x1="98.35" y1="271.3" x2="98.35" y2="272.6" stroke="#bbb" stroke-width="0.4"/>
<text x="98.35" y="277.8" font-size="7" text-anchor="middle" fill="#1a1a1a">8</text>
<line x1="108.80" y1="271.3" x2="108.80" y2="272.6" stroke="#bbb" stroke-width="0.4"/>
<text x="108.80" y="277.8" font-size="7" text-anchor="middle" fill="#1a1a1a">9</text>
<line x1="119.24" y1="271.3" x2="119.24" y2="272.6" stroke="#bbb" stroke-width="0.4"/>
<text x="119.24" y="277.8" font-size="7" text-anchor="middle" fill="#1a1a1a">10</text>
<line x1="129.69" y1="271.3" x2="129.69" y2="272.6" stroke="#bbb" stroke-width="0.4"/>
<text x="129.69" y="277.8" font-size="7" text-anchor="middle" fill="#1a1a1a">11</text>
<line x1="140.13" y1="271.3" x2="140.13" y2="272.6" stroke="#bbb" stroke-width="0.4"/>
<text x="140.13" y="277.8" font-size="7" text-anchor="middle" fill="#1a1a1a">12</text>
<line x1="150.57" y1="271.3" x2="150.57" y2="272.6" stroke="#bbb" stroke-width="0.4"/>
<text x="150.57" y="277.8" font-size="7" text-anchor="middle" fill="#1a1a1a">13</text>
<line x1="161.02" y1="271.3" x2="161.02" y2="272.6" stroke="#bbb" stroke-width="0.4"/>
<text x="161.02" y="277.8" font-size="7" text-anchor="middle" fill="#1a1a1a">14</text>
<line x1="171.46" y1="271.3" x2="171.46" y2="272.6" stroke="#bbb" stroke-width="0.4"/>
<text x="171.46" y="277.8" font-size="7" text-anchor="middle" fill="#1a1a1a">15</text>
<line x1="181.91" y1="271.3" x2="181.91" y2="272.6" stroke="#bbb" stroke-width="0.4"/>
<text x="181.91" y="277.8" font-size="7" text-anchor="middle" fill="#1a1a1a">16</text>
<line x1="192.35" y1="271.3" x2="192.35" y2="272.6" stroke="#bbb" stroke-width="0.4"/>
<text x="192.35" y="277.8" font-size="7" text-anchor="middle" fill="#1a1a1a">17</text>
<line x1="202.79" y1="271.3" x2="202.79" y2="272.6" stroke="#bbb" stroke-width="0.4"/>
<text x="202.79" y="277.8" font-size="7" text-anchor="middle" fill="#1a1a1a">18</text>
<line x1="213.24" y1="271.3" x2="213.24" y2="272.6" stroke="#bbb" stroke-width="0.4"/>
<text x="213.24" y="277.8" font-size="7" text-anchor="middle" fill="#1a1a1a">19</text>
<line x1="223.68" y1="271.3" x2="223.68" y2="272.6" stroke="#bbb" stroke-width="0.4"/>
<text x="223.68" y="277.8" font-size="7" text-anchor="middle" fill="#1a1a1a">20</text>
<line x1="234.13" y1="271.3" x2="234.13" y2="272.6" stroke="#bbb" stroke-width="0.4"/>
<text x="234.13" y="277.8" font-size="7" text-anchor="middle" fill="#1a1a1a">21</text>
<line x1="244.57" y1="271.3" x2="244.57" y2="272.6" stroke="#bbb" stroke-width="0.4"/>
<text x="244.57" y="277.8" font-size="7" text-anchor="middle" fill="#1a1a1a">22</text>
<line x1="255.01" y1="271.3" x2="255.01" y2="272.6" stroke="#bbb" stroke-width="0.4"/>
<text x="255.01" y="277.8" font-size="7" text-anchor="middle" fill="#1a1a1a">23</text>
<line x1="265.46" y1="271.3" x2="265.46" y2="272.6" stroke="#bbb" stroke-width="0.4"/>
<text x="265.46" y="277.8" font-size="7" text-anchor="middle" fill="#1a1a1a">24</text>
<line x1="275.90" y1="271.3" x2="275.90" y2="272.6" stroke="#bbb" stroke-width="0.4"/>
<text x="275.90" y="277.8" font-size="7" text-anchor="middle" fill="#1a1a1a">25</text>
<line x1="286.35" y1="271.3" x2="286.35" y2="272.6" stroke="#bbb" stroke-width="0.4"/>
<text x="286.35" y="277.8" font-size="7" text-anchor="middle" fill="#1a1a1a">26</text>
<line x1="296.79" y1="271.3" x2="296.79" y2="272.6" stroke="#bbb" stroke-width="0.4"/>
<text x="296.79" y="277.8" font-size="7" text-anchor="middle" fill="#1a1a1a">27</text>
<line x1="307.23" y1="271.3" x2="307.23" y2="272.6" stroke="#bbb" stroke-width="0.4"/>
<text x="307.23" y="277.8" font-size="7" text-anchor="middle" fill="#1a1a1a">28</text>
<line x1="317.68" y1="271.3" x2="317.68" y2="272.6" stroke="#bbb" stroke-width="0.4"/>
<text x="317.68" y="277.8" font-size="7" text-anchor="middle" fill="#1a1a1a">29</text>
<line x1="328.12" y1="271.3" x2="328.12" y2="272.6" stroke="#bbb" stroke-width="0.4"/>
<text x="328.12" y="277.8" font-size="7" text-anchor="middle" fill="#1a1a1a">30</text>
<line x1="338.57" y1="271.3" x2="338.57" y2="272.6" stroke="#bbb" stroke-width="0.4"/>
<text x="338.57" y="277.8" font-size="7" text-anchor="middle" fill="#1a1a1a">31</text>
<line x1="349.01" y1="271.3" x2="349.01" y2="272.6" stroke="#bbb" stroke-width="0.4"/>
<text x="349.01" y="277.8" font-size="7" text-anchor="middle" fill="#1a1a1a">32</text>
<line x1="359.45" y1="271.3" x2="359.45" y2="272.6" stroke="#bbb" stroke-width="0.4"/>
<text x="359.45" y="277.8" font-size="7" text-anchor="middle" fill="#1a1a1a">33</text>
<line x1="369.90" y1="271.3" x2="369.90" y2="272.6" stroke="#bbb" stroke-width="0.4"/>
<text x="369.90" y="277.8" font-size="7" text-anchor="middle" fill="#1a1a1a">34</text>
<line x1="380.34" y1="271.3" x2="380.34" y2="272.6" stroke="#bbb" stroke-width="0.4"/>
<text x="380.34" y="277.8" font-size="7" text-anchor="middle" fill="#1a1a1a">35</text>
<line x1="390.79" y1="271.3" x2="390.79" y2="272.6" stroke="#bbb" stroke-width="0.4"/>
<text x="390.79" y="277.8" font-size="7" text-anchor="middle" fill="#1a1a1a">36</text>
<line x1="401.23" y1="271.3" x2="401.23" y2="272.6" stroke="#bbb" stroke-width="0.4"/>
<text x="401.23" y="277.8" font-size="7" text-anchor="middle" fill="#1a1a1a">37</text>
<line x1="411.67" y1="271.3" x2="411.67" y2="272.6" stroke="#bbb" stroke-width="0.4"/>
<text x="411.67" y="277.8" font-size="7" text-anchor="middle" fill="#1a1a1a">38</text>
<line x1="422.12" y1="271.3" x2="422.12" y2="272.6" stroke="#bbb" stroke-width="0.4"/>
<text x="422.12" y="277.8" font-size="7" text-anchor="middle" fill="#1a1a1a">39</text>
<line x1="432.56" y1="271.3" x2="432.56" y2="272.6" stroke="#bbb" stroke-width="0.4"/>
<text x="432.56" y="277.8" font-size="7" text-anchor="middle" fill="#1a1a1a">40</text>
<line x1="443.01" y1="271.3" x2="443.01" y2="272.6" stroke="#bbb" stroke-width="0.4"/>
<text x="443.01" y="277.8" font-size="7" text-anchor="middle" fill="#1a1a1a">41</text>
<line x1="453.45" y1="271.3" x2="453.45" y2="272.6" stroke="#bbb" stroke-width="0.4"/>
<text x="453.45" y="277.8" font-size="7" text-anchor="middle" fill="#1a1a1a">42</text>
<defs><linearGradient id="cb" x1="0" y1="1" x2="0" y2="0">
<stop offset="0.000" stop-color="#0000ff"/>
<stop offset="0.050" stop-color="#502bff"/>
<stop offset="0.100" stop-color="#7145ff"/>
<stop offset="0.150" stop-color="#8a5dff"/>
<stop offset="0.200" stop-color="#a074ff"/>
<stop offset="0.250" stop-color="#b38bff"/>
<stop offset="0.300" stop-color="#c4a2ff"/>
<stop offset="0.350" stop-color="#d4b9ff"/>
<stop offset="0.400" stop-color="#e3d0ff"/>
<stop offset="0.450" stop-color="#f2e7ff"/>
<stop offset="0.500" stop-color="#ffffff"/>
<stop offset="0.550" stop-color="#ffece5"/>
<stop offset="0.600" stop-color="#ffd9cb"/>
<stop offset="0.650" stop-color="#ffc6b2"/>
<stop offset="0.700" stop-color="#ffb299"/>
<stop offset="0.750" stop-color="#ff9e81"/>
<stop offset="0.800" stop-color="#ff8969"/>
<stop offset="0.850" stop-color="#ff7352"/>
<stop offset="0.900" stop-color="#ff5b3a"/>
<stop offset="0.950" stop-color="#ff3e22"/>
<stop offset="1.000" stop-color="#ff0000"/>
</linearGradient></defs>
<text x="472.1" y="112.6" font-size="8.5" fill="#1a1a1a" style="stroke-width:0.15px">%Response</text>
<rect x="472.3" y="117.6" width="12.9" height="64.60" fill="url(#cb)"/>
<text x="489.3" y="120.10" font-size="7" fill="#1a1a1a">100</text>
<line x1="472.3" y1="133.75" x2="474.8" y2="133.75" stroke="#fff" stroke-width="0.6"/>
<line x1="482.7" y1="133.75" x2="485.2" y2="133.75" stroke="#fff" stroke-width="0.6"/>
<text x="489.3" y="136.25" font-size="7" fill="#1a1a1a">50</text>
<line x1="472.3" y1="149.90" x2="474.8" y2="149.90" stroke="#fff" stroke-width="0.6"/>
<line x1="482.7" y1="149.90" x2="485.2" y2="149.90" stroke="#fff" stroke-width="0.6"/>
<text x="489.3" y="152.40" font-size="7" fill="#1a1a1a">0</text>
<line x1="472.3" y1="166.05" x2="474.8" y2="166.05" stroke="#fff" stroke-width="0.6"/>
<line x1="482.7" y1="166.05" x2="485.2" y2="166.05" stroke="#fff" stroke-width="0.6"/>
<text x="489.3" y="168.55" font-size="7" fill="#1a1a1a">-50</text>
<text x="489.3" y="184.70" font-size="7" fill="#1a1a1a">-100</text>
<rect x="16.21" y="300.37" width="9.367" height="9.228" fill="#ffe70a" stroke="#cacaca" stroke-width="0.75"/>
<rect x="25.58" y="300.37" width="8.966" height="9.228" fill="#ffe70a" stroke="#cacaca" stroke-width="0.75"/>
<rect x="34.54" y="300.37" width="8.966" height="9.228" fill="#ffe70a" stroke="#cacaca" stroke-width="0.75"/>
<rect x="43.51" y="300.37" width="8.966" height="9.228" fill="#ffe70a" stroke="#cacaca" stroke-width="0.75"/>
<rect x="52.48" y="300.37" width="8.966" height="9.228" fill="#ffe70a" stroke="#cacaca" stroke-width="0.75"/>
<rect x="61.44" y="300.37" width="8.966" height="9.228" fill="#9cc890" stroke="#cacaca" stroke-width="0.75"/>
<rect x="70.41" y="300.37" width="8.966" height="9.228" fill="#9cc890" stroke="#cacaca" stroke-width="0.75"/>
<rect x="79.38" y="300.37" width="8.966" height="9.228" fill="#9cc890" stroke="#cacaca" stroke-width="0.75"/>
<rect x="88.34" y="300.37" width="8.966" height="9.228" fill="#e8c6a0" stroke="#cacaca" stroke-width="0.75"/>
<rect x="97.31" y="300.37" width="8.966" height="9.228" fill="#e8c6a0" stroke="#cacaca" stroke-width="0.75"/>
<rect x="106.27" y="300.37" width="8.966" height="9.228" fill="#e8c6a0" stroke="#cacaca" stroke-width="0.75"/>
<rect x="115.24" y="300.37" width="8.966" height="9.228" fill="#e8c6a0" stroke="#cacaca" stroke-width="0.75"/>
<rect x="124.21" y="300.37" width="8.966" height="9.228" fill="#e8c6a0" stroke="#cacaca" stroke-width="0.75"/>
<rect x="133.17" y="300.37" width="8.966" height="9.228" fill="#e8c6a0" stroke="#cacaca" stroke-width="0.75"/>
<rect x="142.14" y="300.37" width="8.966" height="9.228" fill="#e8c6a0" stroke="#cacaca" stroke-width="0.75"/>
<rect x="151.11" y="300.37" width="8.966" height="9.228" fill="#e8c6a0" stroke="#cacaca" stroke-width="0.75"/>
<rect x="160.07" y="300.37" width="8.966" height="9.228" fill="#e8c6a0" stroke="#cacaca" stroke-width="0.75"/>
<rect x="169.04" y="300.37" width="8.966" height="9.228" fill="#e8c6a0" stroke="#cacaca" stroke-width="0.75"/>
<rect x="178.01" y="300.37" width="8.966" height="9.228" fill="#8058f8" stroke="#cacaca" stroke-width="0.75"/>
<rect x="186.97" y="300.37" width="8.966" height="9.228" fill="#8058f8" stroke="#cacaca" stroke-width="0.75"/>
<rect x="195.94" y="300.37" width="8.966" height="9.228" fill="#8058f8" stroke="#cacaca" stroke-width="0.75"/>
<rect x="204.91" y="300.37" width="8.966" height="9.228" fill="#8058f8" stroke="#cacaca" stroke-width="0.75"/>
<rect x="213.87" y="300.37" width="8.966" height="9.228" fill="#8058f8" stroke="#cacaca" stroke-width="0.75"/>
<rect x="222.84" y="300.37" width="8.966" height="9.228" fill="#8058f8" stroke="#cacaca" stroke-width="0.75"/>
<rect x="231.81" y="300.37" width="8.966" height="9.228" fill="#8058f8" stroke="#cacaca" stroke-width="0.75"/>
<rect x="240.77" y="300.37" width="8.966" height="9.228" fill="#8058f8" stroke="#cacaca" stroke-width="0.75"/>
<rect x="249.74" y="300.37" width="8.966" height="9.228" fill="#1070c8" stroke="#cacaca" stroke-width="0.75"/>
<rect x="258.71" y="300.37" width="8.966" height="9.228" fill="#1070c8" stroke="#cacaca" stroke-width="0.75"/>
<rect x="267.67" y="300.37" width="8.966" height="9.228" fill="#1070c8" stroke="#cacaca" stroke-width="0.75"/>
<rect x="276.64" y="300.37" width="8.966" height="9.228" fill="#1070c8" stroke="#cacaca" stroke-width="0.75"/>
<rect x="285.61" y="300.37" width="8.966" height="9.228" fill="#000000" stroke="#cacaca" stroke-width="0.75"/>
<rect x="294.57" y="300.37" width="8.966" height="9.228" fill="#f8a8a0" stroke="#cacaca" stroke-width="0.75"/>
<rect x="303.54" y="300.37" width="8.966" height="9.228" fill="#ffffff" stroke="#cacaca" stroke-width="0.75"/>
<rect x="312.50" y="300.37" width="8.966" height="9.228" fill="#ffffff" stroke="#cacaca" stroke-width="0.75"/>
<rect x="321.47" y="300.37" width="8.966" height="9.228" fill="#ffffff" stroke="#cacaca" stroke-width="0.75"/>
<rect x="330.44" y="300.37" width="8.966" height="9.228" fill="#ffffff" stroke="#cacaca" stroke-width="0.75"/>
<rect x="339.40" y="300.37" width="8.966" height="9.228" fill="#ffffff" stroke="#cacaca" stroke-width="0.75"/>
<rect x="348.37" y="300.37" width="8.966" height="9.228" fill="#ffffff" stroke="#cacaca" stroke-width="0.75"/>
<rect x="357.34" y="300.37" width="8.966" height="9.228" fill="#e6e6e6" stroke="#cacaca" stroke-width="0.75"/>
<rect x="366.30" y="300.37" width="8.966" height="9.228" fill="#e6e6e6" stroke="#cacaca" stroke-width="0.75"/>
<rect x="375.27" y="300.37" width="8.966" height="9.228" fill="#e6e6e6" stroke="#cacaca" stroke-width="0.75"/>
<rect x="384.24" y="300.37" width="9.966" height="9.228" fill="#e6e6e6" stroke="#cacaca" stroke-width="0.75"/>
<rect x="16.21" y="309.59" width="9.367" height="8.928" fill="#f25850" stroke="#cacaca" stroke-width="0.75"/>
<rect x="25.58" y="309.59" width="8.966" height="8.928" fill="#f25850" stroke="#cacaca" stroke-width="0.75"/>
<rect x="34.54" y="309.59" width="8.966" height="8.928" fill="#e8c6a0" stroke="#cacaca" stroke-width="0.75"/>
<rect x="43.51" y="309.59" width="8.966" height="8.928" fill="#e8c6a0" stroke="#cacaca" stroke-width="0.75"/>
<rect x="52.48" y="309.59" width="8.966" height="8.928" fill="#e8c6a0" stroke="#cacaca" stroke-width="0.75"/>
<rect x="61.44" y="309.59" width="8.966" height="8.928" fill="#e8c6a0" stroke="#cacaca" stroke-width="0.75"/>
<rect x="70.41" y="309.59" width="8.966" height="8.928" fill="#e8c6a0" stroke="#cacaca" stroke-width="0.75"/>
<rect x="79.38" y="309.59" width="8.966" height="8.928" fill="#e8c6a0" stroke="#cacaca" stroke-width="0.75"/>
<rect x="88.34" y="309.59" width="8.966" height="8.928" fill="#e8c6a0" stroke="#cacaca" stroke-width="0.75"/>
<rect x="97.31" y="309.59" width="8.966" height="8.928" fill="#f8a8a0" stroke="#cacaca" stroke-width="0.75"/>
<rect x="106.27" y="309.59" width="8.966" height="8.928" fill="#f8a8a0" stroke="#cacaca" stroke-width="0.75"/>
<rect x="115.24" y="309.59" width="8.966" height="8.928" fill="#f8a8a0" stroke="#cacaca" stroke-width="0.75"/>
<rect x="124.21" y="309.59" width="8.966" height="8.928" fill="#f8a8a0" stroke="#cacaca" stroke-width="0.75"/>
<rect x="133.17" y="309.59" width="8.966" height="8.928" fill="#8058f8" stroke="#cacaca" stroke-width="0.75"/>
<rect x="142.14" y="309.59" width="8.966" height="8.928" fill="#8058f8" stroke="#cacaca" stroke-width="0.75"/>
<rect x="151.11" y="309.59" width="8.966" height="8.928" fill="#8058f8" stroke="#cacaca" stroke-width="0.75"/>
<rect x="160.07" y="309.59" width="8.966" height="8.928" fill="#8058f8" stroke="#cacaca" stroke-width="0.75"/>
<rect x="169.04" y="309.59" width="8.966" height="8.928" fill="#8058f8" stroke="#cacaca" stroke-width="0.75"/>
<rect x="178.01" y="309.59" width="8.966" height="8.928" fill="#8058f8" stroke="#cacaca" stroke-width="0.75"/>
<rect x="186.97" y="309.59" width="8.966" height="8.928" fill="#8058f8" stroke="#cacaca" stroke-width="0.75"/>
<rect x="195.94" y="309.59" width="8.966" height="8.928" fill="#000000" stroke="#cacaca" stroke-width="0.75"/>
<rect x="204.91" y="309.59" width="8.966" height="8.928" fill="#a4127a" stroke="#cacaca" stroke-width="0.75"/>
<rect x="213.87" y="309.59" width="8.966" height="8.928" fill="#b8a0e0" stroke="#cacaca" stroke-width="0.75"/>
<rect x="222.84" y="309.59" width="8.966" height="8.928" fill="#ffffff" stroke="#cacaca" stroke-width="0.75"/>
<rect x="231.81" y="309.59" width="8.966" height="8.928" fill="#ffffff" stroke="#cacaca" stroke-width="0.75"/>
<rect x="240.77" y="309.59" width="8.966" height="8.928" fill="#ffffff" stroke="#cacaca" stroke-width="0.75"/>
<rect x="249.74" y="309.59" width="8.966" height="8.928" fill="#ffffff" stroke="#cacaca" stroke-width="0.75"/>
<rect x="258.71" y="309.59" width="8.966" height="8.928" fill="#ffffff" stroke="#cacaca" stroke-width="0.75"/>
<rect x="267.67" y="309.59" width="8.966" height="8.928" fill="#ffffff" stroke="#cacaca" stroke-width="0.75"/>
<rect x="276.64" y="309.59" width="8.966" height="8.928" fill="#ffffff" stroke="#cacaca" stroke-width="0.75"/>
<rect x="285.61" y="309.59" width="8.966" height="8.928" fill="#ffffff" stroke="#cacaca" stroke-width="0.75"/>
<rect x="294.57" y="309.59" width="8.966" height="8.928" fill="#ffffff" stroke="#cacaca" stroke-width="0.75"/>
<rect x="303.54" y="309.59" width="8.966" height="8.928" fill="#ffffff" stroke="#cacaca" stroke-width="0.75"/>
<rect x="312.50" y="309.59" width="8.966" height="8.928" fill="#ffffff" stroke="#cacaca" stroke-width="0.75"/>
<rect x="321.47" y="309.59" width="8.966" height="8.928" fill="#ffffff" stroke="#cacaca" stroke-width="0.75"/>
<rect x="330.44" y="309.59" width="8.966" height="8.928" fill="#ffffff" stroke="#cacaca" stroke-width="0.75"/>
<rect x="339.40" y="309.59" width="8.966" height="8.928" fill="#ffffff" stroke="#cacaca" stroke-width="0.75"/>
<rect x="348.37" y="309.59" width="8.966" height="8.928" fill="#ffffff" stroke="#cacaca" stroke-width="0.75"/>
<rect x="357.34" y="309.59" width="8.966" height="8.928" fill="#ffffff" stroke="#cacaca" stroke-width="0.75"/>
<rect x="366.30" y="309.59" width="8.966" height="8.928" fill="#ffffff" stroke="#cacaca" stroke-width="0.75"/>
<rect x="375.27" y="309.59" width="8.966" height="8.928" fill="#ffffff" stroke="#cacaca" stroke-width="0.75"/>
<rect x="384.24" y="309.59" width="9.966" height="8.928" fill="#ffffff" stroke="#cacaca" stroke-width="0.75"/>
<rect x="16.21" y="318.52" width="9.367" height="8.928" fill="#f8a8a0" stroke="#cacaca" stroke-width="0.75"/>
<rect x="25.58" y="318.52" width="8.966" height="8.928" fill="#f8a8a0" stroke="#cacaca" stroke-width="0.75"/>
<rect x="34.54" y="318.52" width="8.966" height="8.928" fill="#4de51e" stroke="#cacaca" stroke-width="0.75"/>
<rect x="43.51" y="318.52" width="8.966" height="8.928" fill="#9cc890" stroke="#cacaca" stroke-width="0.75"/>
<rect x="52.48" y="318.52" width="8.966" height="8.928" fill="#e8c6a0" stroke="#cacaca" stroke-width="0.75"/>
<rect x="61.44" y="318.52" width="8.966" height="8.928" fill="#e8c6a0" stroke="#cacaca" stroke-width="0.75"/>
<rect x="70.41" y="318.52" width="8.966" height="8.928" fill="#ffffff" stroke="#cacaca" stroke-width="0.75"/>
<rect x="79.38" y="318.52" width="8.966" height="8.928" fill="#ffffff" stroke="#cacaca" stroke-width="0.75"/>
<rect x="88.34" y="318.52" width="8.966" height="8.928" fill="#ffffff" stroke="#cacaca" stroke-width="0.75"/>
<rect x="97.31" y="318.52" width="8.966" height="8.928" fill="#ffffff" stroke="#cacaca" stroke-width="0.75"/>
<rect x="106.27" y="318.52" width="8.966" height="8.928" fill="#ffffff" stroke="#cacaca" stroke-width="0.75"/>
<rect x="115.24" y="318.52" width="8.966" height="8.928" fill="#ffffff" stroke="#cacaca" stroke-width="0.75"/>
<rect x="124.21" y="318.52" width="8.966" height="8.928" fill="#ffffff" stroke="#cacaca" stroke-width="0.75"/>
<rect x="133.17" y="318.52" width="8.966" height="8.928" fill="#ffffff" stroke="#cacaca" stroke-width="0.75"/>
<rect x="142.14" y="318.52" width="8.966" height="8.928" fill="#ffffff" stroke="#cacaca" stroke-width="0.75"/>
<rect x="151.11" y="318.52" width="8.966" height="8.928" fill="#ffffff" stroke="#cacaca" stroke-width="0.75"/>
<rect x="160.07" y="318.52" width="8.966" height="8.928" fill="#ffffff" stroke="#cacaca" stroke-width="0.75"/>
<rect x="169.04" y="318.52" width="8.966" height="8.928" fill="#ffffff" stroke="#cacaca" stroke-width="0.75"/>
<rect x="178.01" y="318.52" width="8.966" height="8.928" fill="#ffffff" stroke="#cacaca" stroke-width="0.75"/>
<rect x="186.97" y="318.52" width="8.966" height="8.928" fill="#ffffff" stroke="#cacaca" stroke-width="0.75"/>
<rect x="195.94" y="318.52" width="8.966" height="8.928" fill="#ffffff" stroke="#cacaca" stroke-width="0.75"/>
<rect x="204.91" y="318.52" width="8.966" height="8.928" fill="#ffffff" stroke="#cacaca" stroke-width="0.75"/>
<rect x="213.87" y="318.52" width="8.966" height="8.928" fill="#e6e6e6" stroke="#cacaca" stroke-width="0.75"/>
<rect x="222.84" y="318.52" width="8.966" height="8.928" fill="#e6e6e6" stroke="#cacaca" stroke-width="0.75"/>
<rect x="231.81" y="318.52" width="8.966" height="8.928" fill="#e6e6e6" stroke="#cacaca" stroke-width="0.75"/>
<rect x="240.77" y="318.52" width="8.966" height="8.928" fill="#e6e6e6" stroke="#cacaca" stroke-width="0.75"/>
<rect x="249.74" y="318.52" width="8.966" height="8.928" fill="#e6e6e6" stroke="#cacaca" stroke-width="0.75"/>
<rect x="258.71" y="318.52" width="8.966" height="8.928" fill="#e6e6e6" stroke="#cacaca" stroke-width="0.75"/>
<rect x="267.67" y="318.52" width="8.966" height="8.928" fill="#e6e6e6" stroke="#cacaca" stroke-width="0.75"/>
<rect x="276.64" y="318.52" width="8.966" height="8.928" fill="#e6e6e6" stroke="#cacaca" stroke-width="0.75"/>
<rect x="285.61" y="318.52" width="8.966" height="8.928" fill="#e6e6e6" stroke="#cacaca" stroke-width="0.75"/>
<rect x="294.57" y="318.52" width="8.966" height="8.928" fill="#e6e6e6" stroke="#cacaca" stroke-width="0.75"/>
<rect x="303.54" y="318.52" width="8.966" height="8.928" fill="#e6e6e6" stroke="#cacaca" stroke-width="0.75"/>
<rect x="312.50" y="318.52" width="8.966" height="8.928" fill="#e6e6e6" stroke="#cacaca" stroke-width="0.75"/>
<rect x="321.47" y="318.52" width="8.966" height="8.928" fill="#e6e6e6" stroke="#cacaca" stroke-width="0.75"/>
<rect x="330.44" y="318.52" width="8.966" height="8.928" fill="#e6e6e6" stroke="#cacaca" stroke-width="0.75"/>
<rect x="339.40" y="318.52" width="8.966" height="8.928" fill="#e6e6e6" stroke="#cacaca" stroke-width="0.75"/>
<rect x="348.37" y="318.52" width="8.966" height="8.928" fill="#e6e6e6" stroke="#cacaca" stroke-width="0.75"/>
<rect x="357.34" y="318.52" width="8.966" height="8.928" fill="#e6e6e6" stroke="#cacaca" stroke-width="0.75"/>
<rect x="366.30" y="318.52" width="8.966" height="8.928" fill="#e6e6e6" stroke="#cacaca" stroke-width="0.75"/>
<rect x="375.27" y="318.52" width="8.966" height="8.928" fill="#e6e6e6" stroke="#cacaca" stroke-width="0.75"/>
<rect x="384.24" y="318.52" width="9.966" height="8.928" fill="#e6e6e6" stroke="#cacaca" stroke-width="0.75"/>
<rect x="16.21" y="327.45" width="9.367" height="8.928" fill="#000000" stroke="#cacaca" stroke-width="0.75"/>
<rect x="25.58" y="327.45" width="8.966" height="8.928" fill="#000000" stroke="#cacaca" stroke-width="0.75"/>
<rect x="34.54" y="327.45" width="8.966" height="8.928" fill="#4de51e" stroke="#cacaca" stroke-width="0.75"/>
<rect x="43.51" y="327.45" width="8.966" height="8.928" fill="#e8c6a0" stroke="#cacaca" stroke-width="0.75"/>
<rect x="52.48" y="327.45" width="8.966" height="8.928" fill="#8c1898" stroke="#cacaca" stroke-width="0.75"/>
<rect x="61.44" y="327.45" width="8.966" height="8.928" fill="#f8a8a0" stroke="#cacaca" stroke-width="0.75"/>
<rect x="70.41" y="327.45" width="8.966" height="8.928" fill="#8058f8" stroke="#cacaca" stroke-width="0.75"/>
<rect x="79.38" y="327.45" width="8.966" height="8.928" fill="#ffffff" stroke="#cacaca" stroke-width="0.75"/>
<rect x="88.34" y="327.45" width="8.966" height="8.928" fill="#ffffff" stroke="#cacaca" stroke-width="0.75"/>
<rect x="97.31" y="327.45" width="8.966" height="8.928" fill="#ffffff" stroke="#cacaca" stroke-width="0.75"/>
<rect x="106.27" y="327.45" width="8.966" height="8.928" fill="#e6e6e6" stroke="#cacaca" stroke-width="0.75"/>
<rect x="115.24" y="327.45" width="8.966" height="8.928" fill="#e6e6e6" stroke="#cacaca" stroke-width="0.75"/>
<rect x="124.21" y="327.45" width="8.966" height="8.928" fill="#e6e6e6" stroke="#cacaca" stroke-width="0.75"/>
<rect x="133.17" y="327.45" width="8.966" height="8.928" fill="#e6e6e6" stroke="#cacaca" stroke-width="0.75"/>
<rect x="142.14" y="327.45" width="8.966" height="8.928" fill="#e6e6e6" stroke="#cacaca" stroke-width="0.75"/>
<rect x="151.11" y="327.45" width="8.966" height="8.928" fill="#e6e6e6" stroke="#cacaca" stroke-width="0.75"/>
<rect x="160.07" y="327.45" width="8.966" height="8.928" fill="#e6e6e6" stroke="#cacaca" stroke-width="0.75"/>
<rect x="169.04" y="327.45" width="8.966" height="8.928" fill="#e6e6e6" stroke="#cacaca" stroke-width="0.75"/>
<rect x="178.01" y="327.45" width="8.966" height="8.928" fill="#e6e6e6" stroke="#cacaca" stroke-width="0.75"/>
<rect x="186.97" y="327.45" width="8.966" height="8.928" fill="#e6e6e6" stroke="#cacaca" stroke-width="0.75"/>
<rect x="195.94" y="327.45" width="8.966" height="8.928" fill="#e6e6e6" stroke="#cacaca" stroke-width="0.75"/>
<rect x="204.91" y="327.45" width="8.966" height="8.928" fill="#e6e6e6" stroke="#cacaca" stroke-width="0.75"/>
<rect x="213.87" y="327.45" width="8.966" height="8.928" fill="#e6e6e6" stroke="#cacaca" stroke-width="0.75"/>
<rect x="222.84" y="327.45" width="8.966" height="8.928" fill="#e6e6e6" stroke="#cacaca" stroke-width="0.75"/>
<rect x="231.81" y="327.45" width="8.966" height="8.928" fill="#e6e6e6" stroke="#cacaca" stroke-width="0.75"/>
<rect x="240.77" y="327.45" width="8.966" height="8.928" fill="#e6e6e6" stroke="#cacaca" stroke-width="0.75"/>
<rect x="249.74" y="327.45" width="8.966" height="8.928" fill="#e6e6e6" stroke="#cacaca" stroke-width="0.75"/>
<rect x="258.71" y="327.45" width="8.966" height="8.928" fill="#e6e6e6" stroke="#cacaca" stroke-width="0.75"/>
<rect x="267.67" y="327.45" width="8.966" height="8.928" fill="#e6e6e6" stroke="#cacaca" stroke-width="0.75"/>
<rect x="276.64" y="327.45" width="8.966" height="8.928" fill="#e6e6e6" stroke="#cacaca" stroke-width="0.75"/>
<rect x="285.61" y="327.45" width="8.966" height="8.928" fill="#e6e6e6" stroke="#cacaca" stroke-width="0.75"/>
<rect x="294.57" y="327.45" width="8.966" height="8.928" fill="#e6e6e6" stroke="#cacaca" stroke-width="0.75"/>
<rect x="303.54" y="327.45" width="8.966" height="8.928" fill="#e6e6e6" stroke="#cacaca" stroke-width="0.75"/>
<rect x="312.50" y="327.45" width="8.966" height="8.928" fill="#e6e6e6" stroke="#cacaca" stroke-width="0.75"/>
<rect x="321.47" y="327.45" width="8.966" height="8.928" fill="#e6e6e6" stroke="#cacaca" stroke-width="0.75"/>
<rect x="330.44" y="327.45" width="8.966" height="8.928" fill="#e6e6e6" stroke="#cacaca" stroke-width="0.75"/>
<rect x="339.40" y="327.45" width="8.966" height="8.928" fill="#e6e6e6" stroke="#cacaca" stroke-width="0.75"/>
<rect x="348.37" y="327.45" width="8.966" height="8.928" fill="#e6e6e6" stroke="#cacaca" stroke-width="0.75"/>
<rect x="357.34" y="327.45" width="8.966" height="8.928" fill="#e6e6e6" stroke="#cacaca" stroke-width="0.75"/>
<rect x="366.30" y="327.45" width="8.966" height="8.928" fill="#e6e6e6" stroke="#cacaca" stroke-width="0.75"/>
<rect x="375.27" y="327.45" width="8.966" height="8.928" fill="#e6e6e6" stroke="#cacaca" stroke-width="0.75"/>
<rect x="384.24" y="327.45" width="9.966" height="8.928" fill="#e6e6e6" stroke="#cacaca" stroke-width="0.75"/>
<rect x="16.21" y="336.38" width="9.367" height="8.928" fill="#ffe70a" stroke="#cacaca" stroke-width="0.75"/>
<rect x="25.58" y="336.38" width="8.966" height="8.928" fill="#ffe70a" stroke="#cacaca" stroke-width="0.75"/>
<rect x="34.54" y="336.38" width="8.966" height="8.928" fill="#f8a8a0" stroke="#cacaca" stroke-width="0.75"/>
<rect x="43.51" y="336.38" width="8.966" height="8.928" fill="#f8a8a0" stroke="#cacaca" stroke-width="0.75"/>
<rect x="52.48" y="336.38" width="8.966" height="8.928" fill="#f8a8a0" stroke="#cacaca" stroke-width="0.75"/>
<rect x="61.44" y="336.38" width="8.966" height="8.928" fill="#e8c6a0" stroke="#cacaca" stroke-width="0.75"/>
<rect x="70.41" y="336.38" width="8.966" height="8.928" fill="#c8a048" stroke="#cacaca" stroke-width="0.75"/>
<rect x="79.38" y="336.38" width="8.966" height="8.928" fill="#108848" stroke="#cacaca" stroke-width="0.75"/>
<rect x="88.34" y="336.38" width="8.966" height="8.928" fill="#ffffff" stroke="#cacaca" stroke-width="0.75"/>
<rect x="97.31" y="336.38" width="8.966" height="8.928" fill="#ffffff" stroke="#cacaca" stroke-width="0.75"/>
<rect x="106.27" y="336.38" width="8.966" height="8.928" fill="#e6e6e6" stroke="#cacaca" stroke-width="0.75"/>
<rect x="115.24" y="336.38" width="8.966" height="8.928" fill="#e6e6e6" stroke="#cacaca" stroke-width="0.75"/>
<rect x="124.21" y="336.38" width="8.966" height="8.928" fill="#e6e6e6" stroke="#cacaca" stroke-width="0.75"/>
<rect x="133.17" y="336.38" width="8.966" height="8.928" fill="#e6e6e6" stroke="#cacaca" stroke-width="0.75"/>
<rect x="142.14" y="336.38" width="8.966" height="8.928" fill="#e6e6e6" stroke="#cacaca" stroke-width="0.75"/>
<rect x="151.11" y="336.38" width="8.966" height="8.928" fill="#e6e6e6" stroke="#cacaca" stroke-width="0.75"/>
<rect x="160.07" y="336.38" width="8.966" height="8.928" fill="#e6e6e6" stroke="#cacaca" stroke-width="0.75"/>
<rect x="169.04" y="336.38" width="8.966" height="8.928" fill="#e6e6e6" stroke="#cacaca" stroke-width="0.75"/>
<rect x="178.01" y="336.38" width="8.966" height="8.928" fill="#e6e6e6" stroke="#cacaca" stroke-width="0.75"/>
<rect x="186.97" y="336.38" width="8.966" height="8.928" fill="#e6e6e6" stroke="#cacaca" stroke-width="0.75"/>
<rect x="195.94" y="336.38" width="8.966" height="8.928" fill="#e6e6e6" stroke="#cacaca" stroke-width="0.75"/>
<rect x="204.91" y="336.38" width="8.966" height="8.928" fill="#e6e6e6" stroke="#cacaca" stroke-width="0.75"/>
<rect x="213.87" y="336.38" width="8.966" height="8.928" fill="#e6e6e6" stroke="#cacaca" stroke-width="0.75"/>
<rect x="222.84" y="336.38" width="8.966" height="8.928" fill="#e6e6e6" stroke="#cacaca" stroke-width="0.75"/>
<rect x="231.81" y="336.38" width="8.966" height="8.928" fill="#e6e6e6" stroke="#cacaca" stroke-width="0.75"/>
<rect x="240.77" y="336.38" width="8.966" height="8.928" fill="#e6e6e6" stroke="#cacaca" stroke-width="0.75"/>
<rect x="249.74" y="336.38" width="8.966" height="8.928" fill="#e6e6e6" stroke="#cacaca" stroke-width="0.75"/>
<rect x="258.71" y="336.38" width="8.966" height="8.928" fill="#e6e6e6" stroke="#cacaca" stroke-width="0.75"/>
<rect x="267.67" y="336.38" width="8.966" height="8.928" fill="#e6e6e6" stroke="#cacaca" stroke-width="0.75"/>
<rect x="276.64" y="336.38" width="8.966" height="8.928" fill="#e6e6e6" stroke="#cacaca" stroke-width="0.75"/>
<rect x="285.61" y="336.38" width="8.966" height="8.928" fill="#e6e6e6" stroke="#cacaca" stroke-width="0.75"/>
<rect x="294.57" y="336.38" width="8.966" height="8.928" fill="#e6e6e6" stroke="#cacaca" stroke-width="0.75"/>
<rect x="303.54" y="336.38" width="8.966" height="8.928" fill="#e6e6e6" stroke="#cacaca" stroke-width="0.75"/>
<rect x="312.50" y="336.38" width="8.966" height="8.928" fill="#e6e6e6" stroke="#cacaca" stroke-width="0.75"/>
<rect x="321.47" y="336.38" width="8.966" height="8.928" fill="#e6e6e6" stroke="#cacaca" stroke-width="0.75"/>
<rect x="330.44" y="336.38" width="8.966" height="8.928" fill="#e6e6e6" stroke="#cacaca" stroke-width="0.75"/>
<rect x="339.40" y="336.38" width="8.966" height="8.928" fill="#e6e6e6" stroke="#cacaca" stroke-width="0.75"/>
<rect x="348.37" y="336.38" width="8.966" height="8.928" fill="#e6e6e6" stroke="#cacaca" stroke-width="0.75"/>
<rect x="357.34" y="336.38" width="8.966" height="8.928" fill="#e6e6e6" stroke="#cacaca" stroke-width="0.75"/>
<rect x="366.30" y="336.38" width="8.966" height="8.928" fill="#e6e6e6" stroke="#cacaca" stroke-width="0.75"/>
<rect x="375.27" y="336.38" width="8.966" height="8.928" fill="#e6e6e6" stroke="#cacaca" stroke-width="0.75"/>
<rect x="384.24" y="336.38" width="9.966" height="8.928" fill="#e6e6e6" stroke="#cacaca" stroke-width="0.75"/>
<rect x="16.21" y="345.30" width="9.367" height="8.928" fill="#9cc890" stroke="#cacaca" stroke-width="0.75"/>
<rect x="25.58" y="345.30" width="8.966" height="8.928" fill="#9cc890" stroke="#cacaca" stroke-width="0.75"/>
<rect x="34.54" y="345.30" width="8.966" height="8.928" fill="#e8c6a0" stroke="#cacaca" stroke-width="0.75"/>
<rect x="43.51" y="345.30" width="8.966" height="8.928" fill="#e8c6a0" stroke="#cacaca" stroke-width="0.75"/>
<rect x="52.48" y="345.30" width="8.966" height="8.928" fill="#e8c6a0" stroke="#cacaca" stroke-width="0.75"/>
<rect x="61.44" y="345.30" width="8.966" height="8.928" fill="#e8c6a0" stroke="#cacaca" stroke-width="0.75"/>
<rect x="70.41" y="345.30" width="8.966" height="8.928" fill="#e8c6a0" stroke="#cacaca" stroke-width="0.75"/>
<rect x="79.38" y="345.30" width="8.966" height="8.928" fill="#e8c6a0" stroke="#cacaca" stroke-width="0.75"/>
<rect x="88.34" y="345.30" width="8.966" height="8.928" fill="#f8a8a0" stroke="#cacaca" stroke-width="0.75"/>
<rect x="97.31" y="345.30" width="8.966" height="8.928" fill="#f8a8a0" stroke="#cacaca" stroke-width="0.75"/>
<rect x="106.27" y="345.30" width="8.966" height="8.928" fill="#f8a8a0" stroke="#cacaca" stroke-width="0.75"/>
<rect x="115.24" y="345.30" width="8.966" height="8.928" fill="#1070c8" stroke="#cacaca" stroke-width="0.75"/>
<rect x="124.21" y="345.30" width="8.966" height="8.928" fill="#1070c8" stroke="#cacaca" stroke-width="0.75"/>
<rect x="133.17" y="345.30" width="8.966" height="8.928" fill="#1070c8" stroke="#cacaca" stroke-width="0.75"/>
<rect x="142.14" y="345.30" width="8.966" height="8.928" fill="#1070c8" stroke="#cacaca" stroke-width="0.75"/>
<rect x="151.11" y="345.30" width="8.966" height="8.928" fill="#1070c8" stroke="#cacaca" stroke-width="0.75"/>
<rect x="160.07" y="345.30" width="8.966" height="8.928" fill="#d0e24e" stroke="#cacaca" stroke-width="0.75"/>
<rect x="169.04" y="345.30" width="8.966" height="8.928" fill="#6ca0d8" stroke="#cacaca" stroke-width="0.75"/>
<rect x="178.01" y="345.30" width="8.966" height="8.928" fill="#ffffff" stroke="#cacaca" stroke-width="0.75"/>
<rect x="186.97" y="345.30" width="8.966" height="8.928" fill="#ffffff" stroke="#cacaca" stroke-width="0.75"/>
<rect x="195.94" y="345.30" width="8.966" height="8.928" fill="#ffffff" stroke="#cacaca" stroke-width="0.75"/>
<rect x="204.91" y="345.30" width="8.966" height="8.928" fill="#ffffff" stroke="#cacaca" stroke-width="0.75"/>
<rect x="213.87" y="345.30" width="8.966" height="8.928" fill="#ffffff" stroke="#cacaca" stroke-width="0.75"/>
<rect x="222.84" y="345.30" width="8.966" height="8.928" fill="#ffffff" stroke="#cacaca" stroke-width="0.75"/>
<rect x="231.81" y="345.30" width="8.966" height="8.928" fill="#ffffff" stroke="#cacaca" stroke-width="0.75"/>
<rect x="240.77" y="345.30" width="8.966" height="8.928" fill="#ffffff" stroke="#cacaca" stroke-width="0.75"/>
<rect x="249.74" y="345.30" width="8.966" height="8.928" fill="#ffffff" stroke="#cacaca" stroke-width="0.75"/>
<rect x="258.71" y="345.30" width="8.966" height="8.928" fill="#ffffff" stroke="#cacaca" stroke-width="0.75"/>
<rect x="267.67" y="345.30" width="8.966" height="8.928" fill="#ffffff" stroke="#cacaca" stroke-width="0.75"/>
<rect x="276.64" y="345.30" width="8.966" height="8.928" fill="#ffffff" stroke="#cacaca" stroke-width="0.75"/>
<rect x="285.61" y="345.30" width="8.966" height="8.928" fill="#ffffff" stroke="#cacaca" stroke-width="0.75"/>
<rect x="294.57" y="345.30" width="8.966" height="8.928" fill="#ffffff" stroke="#cacaca" stroke-width="0.75"/>
<rect x="303.54" y="345.30" width="8.966" height="8.928" fill="#ffffff" stroke="#cacaca" stroke-width="0.75"/>
<rect x="312.50" y="345.30" width="8.966" height="8.928" fill="#ffffff" stroke="#cacaca" stroke-width="0.75"/>
<rect x="321.47" y="345.30" width="8.966" height="8.928" fill="#ffffff" stroke="#cacaca" stroke-width="0.75"/>
<rect x="330.44" y="345.30" width="8.966" height="8.928" fill="#ffffff" stroke="#cacaca" stroke-width="0.75"/>
<rect x="339.40" y="345.30" width="8.966" height="8.928" fill="#e6e6e6" stroke="#cacaca" stroke-width="0.75"/>
<rect x="348.37" y="345.30" width="8.966" height="8.928" fill="#e6e6e6" stroke="#cacaca" stroke-width="0.75"/>
<rect x="357.34" y="345.30" width="8.966" height="8.928" fill="#e6e6e6" stroke="#cacaca" stroke-width="0.75"/>
<rect x="366.30" y="345.30" width="8.966" height="8.928" fill="#e6e6e6" stroke="#cacaca" stroke-width="0.75"/>
<rect x="375.27" y="345.30" width="8.966" height="8.928" fill="#e6e6e6" stroke="#cacaca" stroke-width="0.75"/>
<rect x="384.24" y="345.30" width="9.966" height="8.928" fill="#e6e6e6" stroke="#cacaca" stroke-width="0.75"/>
<rect x="16.21" y="354.23" width="9.367" height="8.928" fill="#083c80" stroke="#cacaca" stroke-width="0.75"/>
<rect x="25.58" y="354.23" width="8.966" height="8.928" fill="#083c80" stroke="#cacaca" stroke-width="0.75"/>
<rect x="34.54" y="354.23" width="8.966" height="8.928" fill="#4a8a12" stroke="#cacaca" stroke-width="0.75"/>
<rect x="43.51" y="354.23" width="8.966" height="8.928" fill="#9cc890" stroke="#cacaca" stroke-width="0.75"/>
<rect x="52.48" y="354.23" width="8.966" height="8.928" fill="#ffffff" stroke="#cacaca" stroke-width="0.75"/>
<rect x="61.44" y="354.23" width="8.966" height="8.928" fill="#ffffff" stroke="#cacaca" stroke-width="0.75"/>
<rect x="70.41" y="354.23" width="8.966" height="8.928" fill="#e6e6e6" stroke="#cacaca" stroke-width="0.75"/>
<rect x="79.38" y="354.23" width="8.966" height="8.928" fill="#e6e6e6" stroke="#cacaca" stroke-width="0.75"/>
<rect x="88.34" y="354.23" width="8.966" height="8.928" fill="#e6e6e6" stroke="#cacaca" stroke-width="0.75"/>
<rect x="97.31" y="354.23" width="8.966" height="8.928" fill="#e6e6e6" stroke="#cacaca" stroke-width="0.75"/>
<rect x="106.27" y="354.23" width="8.966" height="8.928" fill="#e6e6e6" stroke="#cacaca" stroke-width="0.75"/>
<rect x="115.24" y="354.23" width="8.966" height="8.928" fill="#e6e6e6" stroke="#cacaca" stroke-width="0.75"/>
<rect x="124.21" y="354.23" width="8.966" height="8.928" fill="#e6e6e6" stroke="#cacaca" stroke-width="0.75"/>
<rect x="133.17" y="354.23" width="8.966" height="8.928" fill="#e6e6e6" stroke="#cacaca" stroke-width="0.75"/>
<rect x="142.14" y="354.23" width="8.966" height="8.928" fill="#e6e6e6" stroke="#cacaca" stroke-width="0.75"/>
<rect x="151.11" y="354.23" width="8.966" height="8.928" fill="#e6e6e6" stroke="#cacaca" stroke-width="0.75"/>
<rect x="160.07" y="354.23" width="8.966" height="8.928" fill="#e6e6e6" stroke="#cacaca" stroke-width="0.75"/>
<rect x="169.04" y="354.23" width="8.966" height="8.928" fill="#e6e6e6" stroke="#cacaca" stroke-width="0.75"/>
<rect x="178.01" y="354.23" width="8.966" height="8.928" fill="#e6e6e6" stroke="#cacaca" stroke-width="0.75"/>
<rect x="186.97" y="354.23" width="8.966" height="8.928" fill="#e6e6e6" stroke="#cacaca" stroke-width="0.75"/>
<rect x="195.94" y="354.23" width="8.966" height="8.928" fill="#e6e6e6" stroke="#cacaca" stroke-width="0.75"/>
<rect x="204.91" y="354.23" width="8.966" height="8.928" fill="#e6e6e6" stroke="#cacaca" stroke-width="0.75"/>
<rect x="213.87" y="354.23" width="8.966" height="8.928" fill="#e6e6e6" stroke="#cacaca" stroke-width="0.75"/>
<rect x="222.84" y="354.23" width="8.966" height="8.928" fill="#e6e6e6" stroke="#cacaca" stroke-width="0.75"/>
<rect x="231.81" y="354.23" width="8.966" height="8.928" fill="#e6e6e6" stroke="#cacaca" stroke-width="0.75"/>
<rect x="240.77" y="354.23" width="8.966" height="8.928" fill="#e6e6e6" stroke="#cacaca" stroke-width="0.75"/>
<rect x="249.74" y="354.23" width="8.966" height="8.928" fill="#e6e6e6" stroke="#cacaca" stroke-width="0.75"/>
<rect x="258.71" y="354.23" width="8.966" height="8.928" fill="#e6e6e6" stroke="#cacaca" stroke-width="0.75"/>
<rect x="267.67" y="354.23" width="8.966" height="8.928" fill="#e6e6e6" stroke="#cacaca" stroke-width="0.75"/>
<rect x="276.64" y="354.23" width="8.966" height="8.928" fill="#e6e6e6" stroke="#cacaca" stroke-width="0.75"/>
<rect x="285.61" y="354.23" width="8.966" height="8.928" fill="#e6e6e6" stroke="#cacaca" stroke-width="0.75"/>
<rect x="294.57" y="354.23" width="8.966" height="8.928" fill="#e6e6e6" stroke="#cacaca" stroke-width="0.75"/>
<rect x="303.54" y="354.23" width="8.966" height="8.928" fill="#e6e6e6" stroke="#cacaca" stroke-width="0.75"/>
<rect x="312.50" y="354.23" width="8.966" height="8.928" fill="#e6e6e6" stroke="#cacaca" stroke-width="0.75"/>
<rect x="321.47" y="354.23" width="8.966" height="8.928" fill="#e6e6e6" stroke="#cacaca" stroke-width="0.75"/>
<rect x="330.44" y="354.23" width="8.966" height="8.928" fill="#e6e6e6" stroke="#cacaca" stroke-width="0.75"/>
<rect x="339.40" y="354.23" width="8.966" height="8.928" fill="#e6e6e6" stroke="#cacaca" stroke-width="0.75"/>
<rect x="348.37" y="354.23" width="8.966" height="8.928" fill="#e6e6e6" stroke="#cacaca" stroke-width="0.75"/>
<rect x="357.34" y="354.23" width="8.966" height="8.928" fill="#e6e6e6" stroke="#cacaca" stroke-width="0.75"/>
<rect x="366.30" y="354.23" width="8.966" height="8.928" fill="#e6e6e6" stroke="#cacaca" stroke-width="0.75"/>
<rect x="375.27" y="354.23" width="8.966" height="8.928" fill="#e6e6e6" stroke="#cacaca" stroke-width="0.75"/>
<rect x="384.24" y="354.23" width="9.966" height="8.928" fill="#e6e6e6" stroke="#cacaca" stroke-width="0.75"/>
<rect x="16.21" y="363.16" width="9.367" height="8.928" fill="#9cc890" stroke="#cacaca" stroke-width="0.75"/>
<rect x="25.58" y="363.16" width="8.966" height="8.928" fill="#484c4c" stroke="#cacaca" stroke-width="0.75"/>
<rect x="34.54" y="363.16" width="8.966" height="8.928" fill="#083c80" stroke="#cacaca" stroke-width="0.75"/>
<rect x="43.51" y="363.16" width="8.966" height="8.928" fill="#ffffff" stroke="#cacaca" stroke-width="0.75"/>
<rect x="52.48" y="363.16" width="8.966" height="8.928" fill="#ffffff" stroke="#cacaca" stroke-width="0.75"/>
<rect x="61.44" y="363.16" width="8.966" height="8.928" fill="#ffffff" stroke="#cacaca" stroke-width="0.75"/>
<rect x="70.41" y="363.16" width="8.966" height="8.928" fill="#ffffff" stroke="#cacaca" stroke-width="0.75"/>
<rect x="79.38" y="363.16" width="8.966" height="8.928" fill="#ffffff" stroke="#cacaca" stroke-width="0.75"/>
<rect x="88.34" y="363.16" width="8.966" height="8.928" fill="#e6e6e6" stroke="#cacaca" stroke-width="0.75"/>
<rect x="97.31" y="363.16" width="8.966" height="8.928" fill="#e6e6e6" stroke="#cacaca" stroke-width="0.75"/>
<rect x="106.27" y="363.16" width="8.966" height="8.928" fill="#e6e6e6" stroke="#cacaca" stroke-width="0.75"/>
<rect x="115.24" y="363.16" width="8.966" height="8.928" fill="#e6e6e6" stroke="#cacaca" stroke-width="0.75"/>
<rect x="124.21" y="363.16" width="8.966" height="8.928" fill="#e6e6e6" stroke="#cacaca" stroke-width="0.75"/>
<rect x="133.17" y="363.16" width="8.966" height="8.928" fill="#e6e6e6" stroke="#cacaca" stroke-width="0.75"/>
<rect x="142.14" y="363.16" width="8.966" height="8.928" fill="#e6e6e6" stroke="#cacaca" stroke-width="0.75"/>
<rect x="151.11" y="363.16" width="8.966" height="8.928" fill="#e6e6e6" stroke="#cacaca" stroke-width="0.75"/>
<rect x="160.07" y="363.16" width="8.966" height="8.928" fill="#e6e6e6" stroke="#cacaca" stroke-width="0.75"/>
<rect x="169.04" y="363.16" width="8.966" height="8.928" fill="#e6e6e6" stroke="#cacaca" stroke-width="0.75"/>
<rect x="178.01" y="363.16" width="8.966" height="8.928" fill="#e6e6e6" stroke="#cacaca" stroke-width="0.75"/>
<rect x="186.97" y="363.16" width="8.966" height="8.928" fill="#e6e6e6" stroke="#cacaca" stroke-width="0.75"/>
<rect x="195.94" y="363.16" width="8.966" height="8.928" fill="#e6e6e6" stroke="#cacaca" stroke-width="0.75"/>
<rect x="204.91" y="363.16" width="8.966" height="8.928" fill="#e6e6e6" stroke="#cacaca" stroke-width="0.75"/>
<rect x="213.87" y="363.16" width="8.966" height="8.928" fill="#e6e6e6" stroke="#cacaca" stroke-width="0.75"/>
<rect x="222.84" y="363.16" width="8.966" height="8.928" fill="#e6e6e6" stroke="#cacaca" stroke-width="0.75"/>
<rect x="231.81" y="363.16" width="8.966" height="8.928" fill="#e6e6e6" stroke="#cacaca" stroke-width="0.75"/>
<rect x="240.77" y="363.16" width="8.966" height="8.928" fill="#e6e6e6" stroke="#cacaca" stroke-width="0.75"/>
<rect x="249.74" y="363.16" width="8.966" height="8.928" fill="#e6e6e6" stroke="#cacaca" stroke-width="0.75"/>
<rect x="258.71" y="363.16" width="8.966" height="8.928" fill="#e6e6e6" stroke="#cacaca" stroke-width="0.75"/>
<rect x="267.67" y="363.16" width="8.966" height="8.928" fill="#e6e6e6" stroke="#cacaca" stroke-width="0.75"/>
<rect x="276.64" y="363.16" width="8.966" height="8.928" fill="#e6e6e6" stroke="#cacaca" stroke-width="0.75"/>
<rect x="285.61" y="363.16" width="8.966" height="8.928" fill="#e6e6e6" stroke="#cacaca" stroke-width="0.75"/>
<rect x="294.57" y="363.16" width="8.966" height="8.928" fill="#e6e6e6" stroke="#cacaca" stroke-width="0.75"/>
<rect x="303.54" y="363.16" width="8.966" height="8.928" fill="#e6e6e6" stroke="#cacaca" stroke-width="0.75"/>
<rect x="312.50" y="363.16" width="8.966" height="8.928" fill="#e6e6e6" stroke="#cacaca" stroke-width="0.75"/>
<rect x="321.47" y="363.16" width="8.966" height="8.928" fill="#e6e6e6" stroke="#cacaca" stroke-width="0.75"/>
<rect x="330.44" y="363.16" width="8.966" height="8.928" fill="#e6e6e6" stroke="#cacaca" stroke-width="0.75"/>
<rect x="339.40" y="363.16" width="8.966" height="8.928" fill="#e6e6e6" stroke="#cacaca" stroke-width="0.75"/>
<rect x="348.37" y="363.16" width="8.966" height="8.928" fill="#e6e6e6" stroke="#cacaca" stroke-width="0.75"/>
<rect x="357.34" y="363.16" width="8.966" height="8.928" fill="#e6e6e6" stroke="#cacaca" stroke-width="0.75"/>
<rect x="366.30" y="363.16" width="8.966" height="8.928" fill="#e6e6e6" stroke="#cacaca" stroke-width="0.75"/>
<rect x="375.27" y="363.16" width="8.966" height="8.928" fill="#e6e6e6" stroke="#cacaca" stroke-width="0.75"/>
<rect x="384.24" y="363.16" width="9.966" height="8.928" fill="#e6e6e6" stroke="#cacaca" stroke-width="0.75"/>
<rect x="16.21" y="372.09" width="9.367" height="8.928" fill="#ffe70a" stroke="#cacaca" stroke-width="0.75"/>
<rect x="25.58" y="372.09" width="8.966" height="8.928" fill="#ffffff" stroke="#cacaca" stroke-width="0.75"/>
<rect x="34.54" y="372.09" width="8.966" height="8.928" fill="#ffffff" stroke="#cacaca" stroke-width="0.75"/>
<rect x="43.51" y="372.09" width="8.966" height="8.928" fill="#ffffff" stroke="#cacaca" stroke-width="0.75"/>
<rect x="52.48" y="372.09" width="8.966" height="8.928" fill="#ffffff" stroke="#cacaca" stroke-width="0.75"/>
<rect x="61.44" y="372.09" width="8.966" height="8.928" fill="#ffffff" stroke="#cacaca" stroke-width="0.75"/>
<rect x="70.41" y="372.09" width="8.966" height="8.928" fill="#ffffff" stroke="#cacaca" stroke-width="0.75"/>
<rect x="79.38" y="372.09" width="8.966" height="8.928" fill="#ffffff" stroke="#cacaca" stroke-width="0.75"/>
<rect x="88.34" y="372.09" width="8.966" height="8.928" fill="#ffffff" stroke="#cacaca" stroke-width="0.75"/>
<rect x="97.31" y="372.09" width="8.966" height="8.928" fill="#ffffff" stroke="#cacaca" stroke-width="0.75"/>
<rect x="106.27" y="372.09" width="8.966" height="8.928" fill="#ffffff" stroke="#cacaca" stroke-width="0.75"/>
<rect x="115.24" y="372.09" width="8.966" height="8.928" fill="#e6e6e6" stroke="#cacaca" stroke-width="0.75"/>
<rect x="124.21" y="372.09" width="8.966" height="8.928" fill="#e6e6e6" stroke="#cacaca" stroke-width="0.75"/>
<rect x="133.17" y="372.09" width="8.966" height="8.928" fill="#e6e6e6" stroke="#cacaca" stroke-width="0.75"/>
<rect x="142.14" y="372.09" width="8.966" height="8.928" fill="#e6e6e6" stroke="#cacaca" stroke-width="0.75"/>
<rect x="151.11" y="372.09" width="8.966" height="8.928" fill="#e6e6e6" stroke="#cacaca" stroke-width="0.75"/>
<rect x="160.07" y="372.09" width="8.966" height="8.928" fill="#e6e6e6" stroke="#cacaca" stroke-width="0.75"/>
<rect x="169.04" y="372.09" width="8.966" height="8.928" fill="#e6e6e6" stroke="#cacaca" stroke-width="0.75"/>
<rect x="178.01" y="372.09" width="8.966" height="8.928" fill="#e6e6e6" stroke="#cacaca" stroke-width="0.75"/>
<rect x="186.97" y="372.09" width="8.966" height="8.928" fill="#e6e6e6" stroke="#cacaca" stroke-width="0.75"/>
<rect x="195.94" y="372.09" width="8.966" height="8.928" fill="#e6e6e6" stroke="#cacaca" stroke-width="0.75"/>
<rect x="204.91" y="372.09" width="8.966" height="8.928" fill="#e6e6e6" stroke="#cacaca" stroke-width="0.75"/>
<rect x="213.87" y="372.09" width="8.966" height="8.928" fill="#e6e6e6" stroke="#cacaca" stroke-width="0.75"/>
<rect x="222.84" y="372.09" width="8.966" height="8.928" fill="#e6e6e6" stroke="#cacaca" stroke-width="0.75"/>
<rect x="231.81" y="372.09" width="8.966" height="8.928" fill="#e6e6e6" stroke="#cacaca" stroke-width="0.75"/>
<rect x="240.77" y="372.09" width="8.966" height="8.928" fill="#e6e6e6" stroke="#cacaca" stroke-width="0.75"/>
<rect x="249.74" y="372.09" width="8.966" height="8.928" fill="#e6e6e6" stroke="#cacaca" stroke-width="0.75"/>
<rect x="258.71" y="372.09" width="8.966" height="8.928" fill="#e6e6e6" stroke="#cacaca" stroke-width="0.75"/>
<rect x="267.67" y="372.09" width="8.966" height="8.928" fill="#e6e6e6" stroke="#cacaca" stroke-width="0.75"/>
<rect x="276.64" y="372.09" width="8.966" height="8.928" fill="#e6e6e6" stroke="#cacaca" stroke-width="0.75"/>
<rect x="285.61" y="372.09" width="8.966" height="8.928" fill="#e6e6e6" stroke="#cacaca" stroke-width="0.75"/>
<rect x="294.57" y="372.09" width="8.966" height="8.928" fill="#e6e6e6" stroke="#cacaca" stroke-width="0.75"/>
<rect x="303.54" y="372.09" width="8.966" height="8.928" fill="#e6e6e6" stroke="#cacaca" stroke-width="0.75"/>
<rect x="312.50" y="372.09" width="8.966" height="8.928" fill="#e6e6e6" stroke="#cacaca" stroke-width="0.75"/>
<rect x="321.47" y="372.09" width="8.966" height="8.928" fill="#e6e6e6" stroke="#cacaca" stroke-width="0.75"/>
<rect x="330.44" y="372.09" width="8.966" height="8.928" fill="#e6e6e6" stroke="#cacaca" stroke-width="0.75"/>
<rect x="339.40" y="372.09" width="8.966" height="8.928" fill="#e6e6e6" stroke="#cacaca" stroke-width="0.75"/>
<rect x="348.37" y="372.09" width="8.966" height="8.928" fill="#e6e6e6" stroke="#cacaca" stroke-width="0.75"/>
<rect x="357.34" y="372.09" width="8.966" height="8.928" fill="#e6e6e6" stroke="#cacaca" stroke-width="0.75"/>
<rect x="366.30" y="372.09" width="8.966" height="8.928" fill="#e6e6e6" stroke="#cacaca" stroke-width="0.75"/>
<rect x="375.27" y="372.09" width="8.966" height="8.928" fill="#e6e6e6" stroke="#cacaca" stroke-width="0.75"/>
<rect x="384.24" y="372.09" width="9.966" height="8.928" fill="#e6e6e6" stroke="#cacaca" stroke-width="0.75"/>
<rect x="16.21" y="381.01" width="9.367" height="8.928" fill="#f04880" stroke="#cacaca" stroke-width="0.75"/>
<rect x="25.58" y="381.01" width="8.966" height="8.928" fill="#ffffff" stroke="#cacaca" stroke-width="0.75"/>
<rect x="34.54" y="381.01" width="8.966" height="8.928" fill="#e6e6e6" stroke="#cacaca" stroke-width="0.75"/>
<rect x="43.51" y="381.01" width="8.966" height="8.928" fill="#e6e6e6" stroke="#cacaca" stroke-width="0.75"/>
<rect x="52.48" y="381.01" width="8.966" height="8.928" fill="#e6e6e6" stroke="#cacaca" stroke-width="0.75"/>
<rect x="61.44" y="381.01" width="8.966" height="8.928" fill="#e6e6e6" stroke="#cacaca" stroke-width="0.75"/>
<rect x="70.41" y="381.01" width="8.966" height="8.928" fill="#e6e6e6" stroke="#cacaca" stroke-width="0.75"/>
<rect x="79.38" y="381.01" width="8.966" height="8.928" fill="#e6e6e6" stroke="#cacaca" stroke-width="0.75"/>
<rect x="88.34" y="381.01" width="8.966" height="8.928" fill="#e6e6e6" stroke="#cacaca" stroke-width="0.75"/>
<rect x="97.31" y="381.01" width="8.966" height="8.928" fill="#e6e6e6" stroke="#cacaca" stroke-width="0.75"/>
<rect x="106.27" y="381.01" width="8.966" height="8.928" fill="#e6e6e6" stroke="#cacaca" stroke-width="0.75"/>
<rect x="115.24" y="381.01" width="8.966" height="8.928" fill="#e6e6e6" stroke="#cacaca" stroke-width="0.75"/>
<rect x="124.21" y="381.01" width="8.966" height="8.928" fill="#e6e6e6" stroke="#cacaca" stroke-width="0.75"/>
<rect x="133.17" y="381.01" width="8.966" height="8.928" fill="#e6e6e6" stroke="#cacaca" stroke-width="0.75"/>
<rect x="142.14" y="381.01" width="8.966" height="8.928" fill="#e6e6e6" stroke="#cacaca" stroke-width="0.75"/>
<rect x="151.11" y="381.01" width="8.966" height="8.928" fill="#e6e6e6" stroke="#cacaca" stroke-width="0.75"/>
<rect x="160.07" y="381.01" width="8.966" height="8.928" fill="#e6e6e6" stroke="#cacaca" stroke-width="0.75"/>
<rect x="169.04" y="381.01" width="8.966" height="8.928" fill="#e6e6e6" stroke="#cacaca" stroke-width="0.75"/>
<rect x="178.01" y="381.01" width="8.966" height="8.928" fill="#e6e6e6" stroke="#cacaca" stroke-width="0.75"/>
<rect x="186.97" y="381.01" width="8.966" height="8.928" fill="#e6e6e6" stroke="#cacaca" stroke-width="0.75"/>
<rect x="195.94" y="381.01" width="8.966" height="8.928" fill="#e6e6e6" stroke="#cacaca" stroke-width="0.75"/>
<rect x="204.91" y="381.01" width="8.966" height="8.928" fill="#e6e6e6" stroke="#cacaca" stroke-width="0.75"/>
<rect x="213.87" y="381.01" width="8.966" height="8.928" fill="#e6e6e6" stroke="#cacaca" stroke-width="0.75"/>
<rect x="222.84" y="381.01" width="8.966" height="8.928" fill="#e6e6e6" stroke="#cacaca" stroke-width="0.75"/>
<rect x="231.81" y="381.01" width="8.966" height="8.928" fill="#e6e6e6" stroke="#cacaca" stroke-width="0.75"/>
<rect x="240.77" y="381.01" width="8.966" height="8.928" fill="#e6e6e6" stroke="#cacaca" stroke-width="0.75"/>
<rect x="249.74" y="381.01" width="8.966" height="8.928" fill="#e6e6e6" stroke="#cacaca" stroke-width="0.75"/>
<rect x="258.71" y="381.01" width="8.966" height="8.928" fill="#e6e6e6" stroke="#cacaca" stroke-width="0.75"/>
<rect x="267.67" y="381.01" width="8.966" height="8.928" fill="#e6e6e6" stroke="#cacaca" stroke-width="0.75"/>
<rect x="276.64" y="381.01" width="8.966" height="8.928" fill="#e6e6e6" stroke="#cacaca" stroke-width="0.75"/>
<rect x="285.61" y="381.01" width="8.966" height="8.928" fill="#e6e6e6" stroke="#cacaca" stroke-width="0.75"/>
<rect x="294.57" y="381.01" width="8.966" height="8.928" fill="#e6e6e6" stroke="#cacaca" stroke-width="0.75"/>
<rect x="303.54" y="381.01" width="8.966" height="8.928" fill="#e6e6e6" stroke="#cacaca" stroke-width="0.75"/>
<rect x="312.50" y="381.01" width="8.966" height="8.928" fill="#e6e6e6" stroke="#cacaca" stroke-width="0.75"/>
<rect x="321.47" y="381.01" width="8.966" height="8.928" fill="#e6e6e6" stroke="#cacaca" stroke-width="0.75"/>
<rect x="330.44" y="381.01" width="8.966" height="8.928" fill="#e6e6e6" stroke="#cacaca" stroke-width="0.75"/>
<rect x="339.40" y="381.01" width="8.966" height="8.928" fill="#e6e6e6" stroke="#cacaca" stroke-width="0.75"/>
<rect x="348.37" y="381.01" width="8.966" height="8.928" fill="#e6e6e6" stroke="#cacaca" stroke-width="0.75"/>
<rect x="357.34" y="381.01" width="8.966" height="8.928" fill="#e6e6e6" stroke="#cacaca" stroke-width="0.75"/>
<rect x="366.30" y="381.01" width="8.966" height="8.928" fill="#e6e6e6" stroke="#cacaca" stroke-width="0.75"/>
<rect x="375.27" y="381.01" width="8.966" height="8.928" fill="#e6e6e6" stroke="#cacaca" stroke-width="0.75"/>
<rect x="384.24" y="381.01" width="9.966" height="8.928" fill="#e6e6e6" stroke="#cacaca" stroke-width="0.75"/>
<rect x="16.21" y="389.94" width="9.367" height="8.928" fill="#000000" stroke="#cacaca" stroke-width="0.75"/>
<rect x="25.58" y="389.94" width="8.966" height="8.928" fill="#000000" stroke="#cacaca" stroke-width="0.75"/>
<rect x="34.54" y="389.94" width="8.966" height="8.928" fill="#e8c6a0" stroke="#cacaca" stroke-width="0.75"/>
<rect x="43.51" y="389.94" width="8.966" height="8.928" fill="#e8c6a0" stroke="#cacaca" stroke-width="0.75"/>
<rect x="52.48" y="389.94" width="8.966" height="8.928" fill="#9cc890" stroke="#cacaca" stroke-width="0.75"/>
<rect x="61.44" y="389.94" width="8.966" height="8.928" fill="#e6e6e6" stroke="#cacaca" stroke-width="0.75"/>
<rect x="70.41" y="389.94" width="8.966" height="8.928" fill="#e6e6e6" stroke="#cacaca" stroke-width="0.75"/>
<rect x="79.38" y="389.94" width="8.966" height="8.928" fill="#e6e6e6" stroke="#cacaca" stroke-width="0.75"/>
<rect x="88.34" y="389.94" width="8.966" height="8.928" fill="#e6e6e6" stroke="#cacaca" stroke-width="0.75"/>
<rect x="97.31" y="389.94" width="8.966" height="8.928" fill="#e6e6e6" stroke="#cacaca" stroke-width="0.75"/>
<rect x="106.27" y="389.94" width="8.966" height="8.928" fill="#e6e6e6" stroke="#cacaca" stroke-width="0.75"/>
<rect x="115.24" y="389.94" width="8.966" height="8.928" fill="#e6e6e6" stroke="#cacaca" stroke-width="0.75"/>
<rect x="124.21" y="389.94" width="8.966" height="8.928" fill="#e6e6e6" stroke="#cacaca" stroke-width="0.75"/>
<rect x="133.17" y="389.94" width="8.966" height="8.928" fill="#e6e6e6" stroke="#cacaca" stroke-width="0.75"/>
<rect x="142.14" y="389.94" width="8.966" height="8.928" fill="#e6e6e6" stroke="#cacaca" stroke-width="0.75"/>
<rect x="151.11" y="389.94" width="8.966" height="8.928" fill="#e6e6e6" stroke="#cacaca" stroke-width="0.75"/>
<rect x="160.07" y="389.94" width="8.966" height="8.928" fill="#e6e6e6" stroke="#cacaca" stroke-width="0.75"/>
<rect x="169.04" y="389.94" width="8.966" height="8.928" fill="#e6e6e6" stroke="#cacaca" stroke-width="0.75"/>
<rect x="178.01" y="389.94" width="8.966" height="8.928" fill="#e6e6e6" stroke="#cacaca" stroke-width="0.75"/>
<rect x="186.97" y="389.94" width="8.966" height="8.928" fill="#e6e6e6" stroke="#cacaca" stroke-width="0.75"/>
<rect x="195.94" y="389.94" width="8.966" height="8.928" fill="#e6e6e6" stroke="#cacaca" stroke-width="0.75"/>
<rect x="204.91" y="389.94" width="8.966" height="8.928" fill="#e6e6e6" stroke="#cacaca" stroke-width="0.75"/>
<rect x="213.87" y="389.94" width="8.966" height="8.928" fill="#e6e6e6" stroke="#cacaca" stroke-width="0.75"/>
<rect x="222.84" y="389.94" width="8.966" height="8.928" fill="#e6e6e6" stroke="#cacaca" stroke-width="0.75"/>
<rect x="231.81" y="389.94" width="8.966" height="8.928" fill="#e6e6e6" stroke="#cacaca" stroke-width="0.75"/>
<rect x="240.77" y="389.94" width="8.966" height="8.928" fill="#e6e6e6" stroke="#cacaca" stroke-width="0.75"/>
<rect x="249.74" y="389.94" width="8.966" height="8.928" fill="#e6e6e6" stroke="#cacaca" stroke-width="0.75"/>
<rect x="258.71" y="389.94" width="8.966" height="8.928" fill="#e6e6e6" stroke="#cacaca" stroke-width="0.75"/>
<rect x="267.67" y="389.94" width="8.966" height="8.928" fill="#e6e6e6" stroke="#cacaca" stroke-width="0.75"/>
<rect x="276.64" y="389.94" width="8.966" height="8.928" fill="#e6e6e6" stroke="#cacaca" stroke-width="0.75"/>
<rect x="285.61" y="389.94" width="8.966" height="8.928" fill="#e6e6e6" stroke="#cacaca" stroke-width="0.75"/>
<rect x="294.57" y="389.94" width="8.966" height="8.928" fill="#e6e6e6" stroke="#cacaca" stroke-width="0.75"/>
<rect x="303.54" y="389.94" width="8.966" height="8.928" fill="#e6e6e6" stroke="#cacaca" stroke-width="0.75"/>
<rect x="312.50" y="389.94" width="8.966" height="8.928" fill="#e6e6e6" stroke="#cacaca" stroke-width="0.75"/>
<rect x="321.47" y="389.94" width="8.966" height="8.928" fill="#e6e6e6" stroke="#cacaca" stroke-width="0.75"/>
<rect x="330.44" y="389.94" width="8.966" height="8.928" fill="#e6e6e6" stroke="#cacaca" stroke-width="0.75"/>
<rect x="339.40" y="389.94" width="8.966" height="8.928" fill="#e6e6e6" stroke="#cacaca" stroke-width="0.75"/>
<rect x="348.37" y="389.94" width="8.966" height="8.928" fill="#e6e6e6" stroke="#cacaca" stroke-width="0.75"/>
<rect x="357.34" y="389.94" width="8.966" height="8.928" fill="#e6e6e6" stroke="#cacaca" stroke-width="0.75"/>
<rect x="366.30" y="389.94" width="8.966" height="8.928" fill="#e6e6e6" stroke="#cacaca" stroke-width="0.75"/>
<rect x="375.27" y="389.94" width="8.966" height="8.928" fill="#e6e6e6" stroke="#cacaca" stroke-width="0.75"/>
<rect x="384.24" y="389.94" width="9.966" height="8.928" fill="#e6e6e6" stroke="#cacaca" stroke-width="0.75"/>
<rect x="16.21" y="398.87" width="9.367" height="8.928" fill="#a0f8d0" stroke="#cacaca" stroke-width="0.75"/>
<rect x="25.58" y="398.87" width="8.966" height="8.928" fill="#ffffff" stroke="#cacaca" stroke-width="0.75"/>
<rect x="34.54" y="398.87" width="8.966" height="8.928" fill="#e6e6e6" stroke="#cacaca" stroke-width="0.75"/>
<rect x="43.51" y="398.87" width="8.966" height="8.928" fill="#e6e6e6" stroke="#cacaca" stroke-width="0.75"/>
<rect x="52.48" y="398.87" width="8.966" height="8.928" fill="#e6e6e6" stroke="#cacaca" stroke-width="0.75"/>
<rect x="61.44" y="398.87" width="8.966" height="8.928" fill="#e6e6e6" stroke="#cacaca" stroke-width="0.75"/>
<rect x="70.41" y="398.87" width="8.966" height="8.928" fill="#e6e6e6" stroke="#cacaca" stroke-width="0.75"/>
<rect x="79.38" y="398.87" width="8.966" height="8.928" fill="#e6e6e6" stroke="#cacaca" stroke-width="0.75"/>
<rect x="88.34" y="398.87" width="8.966" height="8.928" fill="#e6e6e6" stroke="#cacaca" stroke-width="0.75"/>
<rect x="97.31" y="398.87" width="8.966" height="8.928" fill="#e6e6e6" stroke="#cacaca" stroke-width="0.75"/>
<rect x="106.27" y="398.87" width="8.966" height="8.928" fill="#e6e6e6" stroke="#cacaca" stroke-width="0.75"/>
<rect x="115.24" y="398.87" width="8.966" height="8.928" fill="#e6e6e6" stroke="#cacaca" stroke-width="0.75"/>
<rect x="124.21" y="398.87" width="8.966" height="8.928" fill="#e6e6e6" stroke="#cacaca" stroke-width="0.75"/>
<rect x="133.17" y="398.87" width="8.966" height="8.928" fill="#e6e6e6" stroke="#cacaca" stroke-width="0.75"/>
<rect x="142.14" y="398.87" width="8.966" height="8.928" fill="#e6e6e6" stroke="#cacaca" stroke-width="0.75"/>
<rect x="151.11" y="398.87" width="8.966" height="8.928" fill="#e6e6e6" stroke="#cacaca" stroke-width="0.75"/>
<rect x="160.07" y="398.87" width="8.966" height="8.928" fill="#e6e6e6" stroke="#cacaca" stroke-width="0.75"/>
<rect x="169.04" y="398.87" width="8.966" height="8.928" fill="#e6e6e6" stroke="#cacaca" stroke-width="0.75"/>
<rect x="178.01" y="398.87" width="8.966" height="8.928" fill="#e6e6e6" stroke="#cacaca" stroke-width="0.75"/>
<rect x="186.97" y="398.87" width="8.966" height="8.928" fill="#e6e6e6" stroke="#cacaca" stroke-width="0.75"/>
<rect x="195.94" y="398.87" width="8.966" height="8.928" fill="#e6e6e6" stroke="#cacaca" stroke-width="0.75"/>
<rect x="204.91" y="398.87" width="8.966" height="8.928" fill="#e6e6e6" stroke="#cacaca" stroke-width="0.75"/>
<rect x="213.87" y="398.87" width="8.966" height="8.928" fill="#e6e6e6" stroke="#cacaca" stroke-width="0.75"/>
<rect x="222.84" y="398.87" width="8.966" height="8.928" fill="#e6e6e6" stroke="#cacaca" stroke-width="0.75"/>
<rect x="231.81" y="398.87" width="8.966" height="8.928" fill="#e6e6e6" stroke="#cacaca" stroke-width="0.75"/>
<rect x="240.77" y="398.87" width="8.966" height="8.928" fill="#e6e6e6" stroke="#cacaca" stroke-width="0.75"/>
<rect x="249.74" y="398.87" width="8.966" height="8.928" fill="#e6e6e6" stroke="#cacaca" stroke-width="0.75"/>
<rect x="258.71" y="398.87" width="8.966" height="8.928" fill="#e6e6e6" stroke="#cacaca" stroke-width="0.75"/>
<rect x="267.67" y="398.87" width="8.966" height="8.928" fill="#e6e6e6" stroke="#cacaca" stroke-width="0.75"/>
<rect x="276.64" y="398.87" width="8.966" height="8.928" fill="#e6e6e6" stroke="#cacaca" stroke-width="0.75"/>
<rect x="285.61" y="398.87" width="8.966" height="8.928" fill="#e6e6e6" stroke="#cacaca" stroke-width="0.75"/>
<rect x="294.57" y="398.87" width="8.966" height="8.928" fill="#e6e6e6" stroke="#cacaca" stroke-width="0.75"/>
<rect x="303.54" y="398.87" width="8.966" height="8.928" fill="#e6e6e6" stroke="#cacaca" stroke-width="0.75"/>
<rect x="312.50" y="398.87" width="8.966" height="8.928" fill="#e6e6e6" stroke="#cacaca" stroke-width="0.75"/>
<rect x="321.47" y="398.87" width="8.966" height="8.928" fill="#e6e6e6" stroke="#cacaca" stroke-width="0.75"/>
<rect x="330.44" y="398.87" width="8.966" height="8.928" fill="#e6e6e6" stroke="#cacaca" stroke-width="0.75"/>
<rect x="339.40" y="398.87" width="8.966" height="8.928" fill="#e6e6e6" stroke="#cacaca" stroke-width="0.75"/>
<rect x="348.37" y="398.87" width="8.966" height="8.928" fill="#e6e6e6" stroke="#cacaca" stroke-width="0.75"/>
<rect x="357.34" y="398.87" width="8.966" height="8.928" fill="#e6e6e6" stroke="#cacaca" stroke-width="0.75"/>
<rect x="366.30" y="398.87" width="8.966" height="8.928" fill="#e6e6e6" stroke="#cacaca" stroke-width="0.75"/>
<rect x="375.27" y="398.87" width="8.966" height="8.928" fill="#e6e6e6" stroke="#cacaca" stroke-width="0.75"/>
<rect x="384.24" y="398.87" width="9.966" height="8.928" fill="#e6e6e6" stroke="#cacaca" stroke-width="0.75"/>
<rect x="16.21" y="407.80" width="9.367" height="8.928" fill="#a4127a" stroke="#cacaca" stroke-width="0.75"/>
<rect x="25.58" y="407.80" width="8.966" height="8.928" fill="#a4127a" stroke="#cacaca" stroke-width="0.75"/>
<rect x="34.54" y="407.80" width="8.966" height="8.928" fill="#a4127a" stroke="#cacaca" stroke-width="0.75"/>
<rect x="43.51" y="407.80" width="8.966" height="8.928" fill="#a4127a" stroke="#cacaca" stroke-width="0.75"/>
<rect x="52.48" y="407.80" width="8.966" height="8.928" fill="#f8a8a0" stroke="#cacaca" stroke-width="0.75"/>
<rect x="61.44" y="407.80" width="8.966" height="8.928" fill="#ffffff" stroke="#cacaca" stroke-width="0.75"/>
<rect x="70.41" y="407.80" width="8.966" height="8.928" fill="#ffffff" stroke="#cacaca" stroke-width="0.75"/>
<rect x="79.38" y="407.80" width="8.966" height="8.928" fill="#ffffff" stroke="#cacaca" stroke-width="0.75"/>
<rect x="88.34" y="407.80" width="8.966" height="8.928" fill="#ffffff" stroke="#cacaca" stroke-width="0.75"/>
<rect x="97.31" y="407.80" width="8.966" height="8.928" fill="#ffffff" stroke="#cacaca" stroke-width="0.75"/>
<rect x="106.27" y="407.80" width="8.966" height="8.928" fill="#ffffff" stroke="#cacaca" stroke-width="0.75"/>
<rect x="115.24" y="407.80" width="8.966" height="8.928" fill="#e6e6e6" stroke="#cacaca" stroke-width="0.75"/>
<rect x="124.21" y="407.80" width="8.966" height="8.928" fill="#e6e6e6" stroke="#cacaca" stroke-width="0.75"/>
<rect x="133.17" y="407.80" width="8.966" height="8.928" fill="#e6e6e6" stroke="#cacaca" stroke-width="0.75"/>
<rect x="142.14" y="407.80" width="8.966" height="8.928" fill="#e6e6e6" stroke="#cacaca" stroke-width="0.75"/>
<rect x="151.11" y="407.80" width="8.966" height="8.928" fill="#e6e6e6" stroke="#cacaca" stroke-width="0.75"/>
<rect x="160.07" y="407.80" width="8.966" height="8.928" fill="#e6e6e6" stroke="#cacaca" stroke-width="0.75"/>
<rect x="169.04" y="407.80" width="8.966" height="8.928" fill="#e6e6e6" stroke="#cacaca" stroke-width="0.75"/>
<rect x="178.01" y="407.80" width="8.966" height="8.928" fill="#e6e6e6" stroke="#cacaca" stroke-width="0.75"/>
<rect x="186.97" y="407.80" width="8.966" height="8.928" fill="#e6e6e6" stroke="#cacaca" stroke-width="0.75"/>
<rect x="195.94" y="407.80" width="8.966" height="8.928" fill="#e6e6e6" stroke="#cacaca" stroke-width="0.75"/>
<rect x="204.91" y="407.80" width="8.966" height="8.928" fill="#e6e6e6" stroke="#cacaca" stroke-width="0.75"/>
<rect x="213.87" y="407.80" width="8.966" height="8.928" fill="#e6e6e6" stroke="#cacaca" stroke-width="0.75"/>
<rect x="222.84" y="407.80" width="8.966" height="8.928" fill="#e6e6e6" stroke="#cacaca" stroke-width="0.75"/>
<rect x="231.81" y="407.80" width="8.966" height="8.928" fill="#e6e6e6" stroke="#cacaca" stroke-width="0.75"/>
<rect x="240.77" y="407.80" width="8.966" height="8.928" fill="#e6e6e6" stroke="#cacaca" stroke-width="0.75"/>
<rect x="249.74" y="407.80" width="8.966" height="8.928" fill="#e6e6e6" stroke="#cacaca" stroke-width="0.75"/>
<rect x="258.71" y="407.80" width="8.966" height="8.928" fill="#e6e6e6" stroke="#cacaca" stroke-width="0.75"/>
<rect x="267.67" y="407.80" width="8.966" height="8.928" fill="#e6e6e6" stroke="#cacaca" stroke-width="0.75"/>
<rect x="276.64" y="407.80" width="8.966" height="8.928" fill="#e6e6e6" stroke="#cacaca" stroke-width="0.75"/>
<rect x="285.61" y="407.80" width="8.966" height="8.928" fill="#e6e6e6" stroke="#cacaca" stroke-width="0.75"/>
<rect x="294.57" y="407.80" width="8.966" height="8.928" fill="#e6e6e6" stroke="#cacaca" stroke-width="0.75"/>
<rect x="303.54" y="407.80" width="8.966" height="8.928" fill="#e6e6e6" stroke="#cacaca" stroke-width="0.75"/>
<rect x="312.50" y="407.80" width="8.966" height="8.928" fill="#e6e6e6" stroke="#cacaca" stroke-width="0.75"/>
<rect x="321.47" y="407.80" width="8.966" height="8.928" fill="#e6e6e6" stroke="#cacaca" stroke-width="0.75"/>
<rect x="330.44" y="407.80" width="8.966" height="8.928" fill="#e6e6e6" stroke="#cacaca" stroke-width="0.75"/>
<rect x="339.40" y="407.80" width="8.966" height="8.928" fill="#e6e6e6" stroke="#cacaca" stroke-width="0.75"/>
<rect x="348.37" y="407.80" width="8.966" height="8.928" fill="#e6e6e6" stroke="#cacaca" stroke-width="0.75"/>
<rect x="357.34" y="407.80" width="8.966" height="8.928" fill="#e6e6e6" stroke="#cacaca" stroke-width="0.75"/>
<rect x="366.30" y="407.80" width="8.966" height="8.928" fill="#e6e6e6" stroke="#cacaca" stroke-width="0.75"/>
<rect x="375.27" y="407.80" width="8.966" height="8.928" fill="#e6e6e6" stroke="#cacaca" stroke-width="0.75"/>
<rect x="384.24" y="407.80" width="9.966" height="8.928" fill="#e6e6e6" stroke="#cacaca" stroke-width="0.75"/>
<rect x="16.21" y="416.72" width="9.367" height="8.928" fill="#8058f8" stroke="#cacaca" stroke-width="0.75"/>
<rect x="25.58" y="416.72" width="8.966" height="8.928" fill="#8058f8" stroke="#cacaca" stroke-width="0.75"/>
<rect x="34.54" y="416.72" width="8.966" height="8.928" fill="#b00c28" stroke="#cacaca" stroke-width="0.75"/>
<rect x="43.51" y="416.72" width="8.966" height="8.928" fill="#f04880" stroke="#cacaca" stroke-width="0.75"/>
<rect x="52.48" y="416.72" width="8.966" height="8.928" fill="#c8a048" stroke="#cacaca" stroke-width="0.75"/>
<rect x="61.44" y="416.72" width="8.966" height="8.928" fill="#ffffff" stroke="#cacaca" stroke-width="0.75"/>
<rect x="70.41" y="416.72" width="8.966" height="8.928" fill="#ffffff" stroke="#cacaca" stroke-width="0.75"/>
<rect x="79.38" y="416.72" width="8.966" height="8.928" fill="#ffffff" stroke="#cacaca" stroke-width="0.75"/>
<rect x="88.34" y="416.72" width="8.966" height="8.928" fill="#ffffff" stroke="#cacaca" stroke-width="0.75"/>
<rect x="97.31" y="416.72" width="8.966" height="8.928" fill="#ffffff" stroke="#cacaca" stroke-width="0.75"/>
<rect x="106.27" y="416.72" width="8.966" height="8.928" fill="#ffffff" stroke="#cacaca" stroke-width="0.75"/>
<rect x="115.24" y="416.72" width="8.966" height="8.928" fill="#ffffff" stroke="#cacaca" stroke-width="0.75"/>
<rect x="124.21" y="416.72" width="8.966" height="8.928" fill="#e6e6e6" stroke="#cacaca" stroke-width="0.75"/>
<rect x="133.17" y="416.72" width="8.966" height="8.928" fill="#e6e6e6" stroke="#cacaca" stroke-width="0.75"/>
<rect x="142.14" y="416.72" width="8.966" height="8.928" fill="#e6e6e6" stroke="#cacaca" stroke-width="0.75"/>
<rect x="151.11" y="416.72" width="8.966" height="8.928" fill="#e6e6e6" stroke="#cacaca" stroke-width="0.75"/>
<rect x="160.07" y="416.72" width="8.966" height="8.928" fill="#e6e6e6" stroke="#cacaca" stroke-width="0.75"/>
<rect x="169.04" y="416.72" width="8.966" height="8.928" fill="#e6e6e6" stroke="#cacaca" stroke-width="0.75"/>
<rect x="178.01" y="416.72" width="8.966" height="8.928" fill="#e6e6e6" stroke="#cacaca" stroke-width="0.75"/>
<rect x="186.97" y="416.72" width="8.966" height="8.928" fill="#e6e6e6" stroke="#cacaca" stroke-width="0.75"/>
<rect x="195.94" y="416.72" width="8.966" height="8.928" fill="#e6e6e6" stroke="#cacaca" stroke-width="0.75"/>
<rect x="204.91" y="416.72" width="8.966" height="8.928" fill="#e6e6e6" stroke="#cacaca" stroke-width="0.75"/>
<rect x="213.87" y="416.72" width="8.966" height="8.928" fill="#e6e6e6" stroke="#cacaca" stroke-width="0.75"/>
<rect x="222.84" y="416.72" width="8.966" height="8.928" fill="#e6e6e6" stroke="#cacaca" stroke-width="0.75"/>
<rect x="231.81" y="416.72" width="8.966" height="8.928" fill="#e6e6e6" stroke="#cacaca" stroke-width="0.75"/>
<rect x="240.77" y="416.72" width="8.966" height="8.928" fill="#e6e6e6" stroke="#cacaca" stroke-width="0.75"/>
<rect x="249.74" y="416.72" width="8.966" height="8.928" fill="#e6e6e6" stroke="#cacaca" stroke-width="0.75"/>
<rect x="258.71" y="416.72" width="8.966" height="8.928" fill="#e6e6e6" stroke="#cacaca" stroke-width="0.75"/>
<rect x="267.67" y="416.72" width="8.966" height="8.928" fill="#e6e6e6" stroke="#cacaca" stroke-width="0.75"/>
<rect x="276.64" y="416.72" width="8.966" height="8.928" fill="#e6e6e6" stroke="#cacaca" stroke-width="0.75"/>
<rect x="285.61" y="416.72" width="8.966" height="8.928" fill="#e6e6e6" stroke="#cacaca" stroke-width="0.75"/>
<rect x="294.57" y="416.72" width="8.966" height="8.928" fill="#e6e6e6" stroke="#cacaca" stroke-width="0.75"/>
<rect x="303.54" y="416.72" width="8.966" height="8.928" fill="#e6e6e6" stroke="#cacaca" stroke-width="0.75"/>
<rect x="312.50" y="416.72" width="8.966" height="8.928" fill="#e6e6e6" stroke="#cacaca" stroke-width="0.75"/>
<rect x="321.47" y="416.72" width="8.966" height="8.928" fill="#e6e6e6" stroke="#cacaca" stroke-width="0.75"/>
<rect x="330.44" y="416.72" width="8.966" height="8.928" fill="#e6e6e6" stroke="#cacaca" stroke-width="0.75"/>
<rect x="339.40" y="416.72" width="8.966" height="8.928" fill="#e6e6e6" stroke="#cacaca" stroke-width="0.75"/>
<rect x="348.37" y="416.72" width="8.966" height="8.928" fill="#e6e6e6" stroke="#cacaca" stroke-width="0.75"/>
<rect x="357.34" y="416.72" width="8.966" height="8.928" fill="#e6e6e6" stroke="#cacaca" stroke-width="0.75"/>
<rect x="366.30" y="416.72" width="8.966" height="8.928" fill="#e6e6e6" stroke="#cacaca" stroke-width="0.75"/>
<rect x="375.27" y="416.72" width="8.966" height="8.928" fill="#e6e6e6" stroke="#cacaca" stroke-width="0.75"/>
<rect x="384.24" y="416.72" width="9.966" height="8.928" fill="#e6e6e6" stroke="#cacaca" stroke-width="0.75"/>
<rect x="16.21" y="425.65" width="9.367" height="8.928" fill="#083c80" stroke="#cacaca" stroke-width="0.75"/>
<rect x="25.58" y="425.65" width="8.966" height="8.928" fill="#083c80" stroke="#cacaca" stroke-width="0.75"/>
<rect x="34.54" y="425.65" width="8.966" height="8.928" fill="#f8a8a0" stroke="#cacaca" stroke-width="0.75"/>
<rect x="43.51" y="425.65" width="8.966" height="8.928" fill="#f8a8a0" stroke="#cacaca" stroke-width="0.75"/>
<rect x="52.48" y="425.65" width="8.966" height="8.928" fill="#ffffff" stroke="#cacaca" stroke-width="0.75"/>
<rect x="61.44" y="425.65" width="8.966" height="8.928" fill="#ffffff" stroke="#cacaca" stroke-width="0.75"/>
<rect x="70.41" y="425.65" width="8.966" height="8.928" fill="#ffffff" stroke="#cacaca" stroke-width="0.75"/>
<rect x="79.38" y="425.65" width="8.966" height="8.928" fill="#ffffff" stroke="#cacaca" stroke-width="0.75"/>
<rect x="88.34" y="425.65" width="8.966" height="8.928" fill="#ffffff" stroke="#cacaca" stroke-width="0.75"/>
<rect x="97.31" y="425.65" width="8.966" height="8.928" fill="#ffffff" stroke="#cacaca" stroke-width="0.75"/>
<rect x="106.27" y="425.65" width="8.966" height="8.928" fill="#ffffff" stroke="#cacaca" stroke-width="0.75"/>
<rect x="115.24" y="425.65" width="8.966" height="8.928" fill="#ffffff" stroke="#cacaca" stroke-width="0.75"/>
<rect x="124.21" y="425.65" width="8.966" height="8.928" fill="#ffffff" stroke="#cacaca" stroke-width="0.75"/>
<rect x="133.17" y="425.65" width="8.966" height="8.928" fill="#ffffff" stroke="#cacaca" stroke-width="0.75"/>
<rect x="142.14" y="425.65" width="8.966" height="8.928" fill="#ffffff" stroke="#cacaca" stroke-width="0.75"/>
<rect x="151.11" y="425.65" width="8.966" height="8.928" fill="#e6e6e6" stroke="#cacaca" stroke-width="0.75"/>
<rect x="160.07" y="425.65" width="8.966" height="8.928" fill="#e6e6e6" stroke="#cacaca" stroke-width="0.75"/>
<rect x="169.04" y="425.65" width="8.966" height="8.928" fill="#e6e6e6" stroke="#cacaca" stroke-width="0.75"/>
<rect x="178.01" y="425.65" width="8.966" height="8.928" fill="#e6e6e6" stroke="#cacaca" stroke-width="0.75"/>
<rect x="186.97" y="425.65" width="8.966" height="8.928" fill="#e6e6e6" stroke="#cacaca" stroke-width="0.75"/>
<rect x="195.94" y="425.65" width="8.966" height="8.928" fill="#e6e6e6" stroke="#cacaca" stroke-width="0.75"/>
<rect x="204.91" y="425.65" width="8.966" height="8.928" fill="#e6e6e6" stroke="#cacaca" stroke-width="0.75"/>
<rect x="213.87" y="425.65" width="8.966" height="8.928" fill="#e6e6e6" stroke="#cacaca" stroke-width="0.75"/>
<rect x="222.84" y="425.65" width="8.966" height="8.928" fill="#e6e6e6" stroke="#cacaca" stroke-width="0.75"/>
<rect x="231.81" y="425.65" width="8.966" height="8.928" fill="#e6e6e6" stroke="#cacaca" stroke-width="0.75"/>
<rect x="240.77" y="425.65" width="8.966" height="8.928" fill="#e6e6e6" stroke="#cacaca" stroke-width="0.75"/>
<rect x="249.74" y="425.65" width="8.966" height="8.928" fill="#e6e6e6" stroke="#cacaca" stroke-width="0.75"/>
<rect x="258.71" y="425.65" width="8.966" height="8.928" fill="#e6e6e6" stroke="#cacaca" stroke-width="0.75"/>
<rect x="267.67" y="425.65" width="8.966" height="8.928" fill="#e6e6e6" stroke="#cacaca" stroke-width="0.75"/>
<rect x="276.64" y="425.65" width="8.966" height="8.928" fill="#e6e6e6" stroke="#cacaca" stroke-width="0.75"/>
<rect x="285.61" y="425.65" width="8.966" height="8.928" fill="#e6e6e6" stroke="#cacaca" stroke-width="0.75"/>
<rect x="294.57" y="425.65" width="8.966" height="8.928" fill="#e6e6e6" stroke="#cacaca" stroke-width="0.75"/>
<rect x="303.54" y="425.65" width="8.966" height="8.928" fill="#e6e6e6" stroke="#cacaca" stroke-width="0.75"/>
<rect x="312.50" y="425.65" width="8.966" height="8.928" fill="#e6e6e6" stroke="#cacaca" stroke-width="0.75"/>
<rect x="321.47" y="425.65" width="8.966" height="8.928" fill="#e6e6e6" stroke="#cacaca" stroke-width="0.75"/>
<rect x="330.44" y="425.65" width="8.966" height="8.928" fill="#e6e6e6" stroke="#cacaca" stroke-width="0.75"/>
<rect x="339.40" y="425.65" width="8.966" height="8.928" fill="#e6e6e6" stroke="#cacaca" stroke-width="0.75"/>
<rect x="348.37" y="425.65" width="8.966" height="8.928" fill="#e6e6e6" stroke="#cacaca" stroke-width="0.75"/>
<rect x="357.34" y="425.65" width="8.966" height="8.928" fill="#e6e6e6" stroke="#cacaca" stroke-width="0.75"/>
<rect x="366.30" y="425.65" width="8.966" height="8.928" fill="#e6e6e6" stroke="#cacaca" stroke-width="0.75"/>
<rect x="375.27" y="425.65" width="8.966" height="8.928" fill="#e6e6e6" stroke="#cacaca" stroke-width="0.75"/>
<rect x="384.24" y="425.65" width="9.966" height="8.928" fill="#e6e6e6" stroke="#cacaca" stroke-width="0.75"/>
<rect x="16.21" y="434.58" width="9.367" height="8.928" fill="#9cc890" stroke="#cacaca" stroke-width="0.75"/>
<rect x="25.58" y="434.58" width="8.966" height="8.928" fill="#9cc890" stroke="#cacaca" stroke-width="0.75"/>
<rect x="34.54" y="434.58" width="8.966" height="8.928" fill="#9cc890" stroke="#cacaca" stroke-width="0.75"/>
<rect x="43.51" y="434.58" width="8.966" height="8.928" fill="#9cc890" stroke="#cacaca" stroke-width="0.75"/>
<rect x="52.48" y="434.58" width="8.966" height="8.928" fill="#9cc890" stroke="#cacaca" stroke-width="0.75"/>
<rect x="61.44" y="434.58" width="8.966" height="8.928" fill="#e6e6e6" stroke="#cacaca" stroke-width="0.75"/>
<rect x="70.41" y="434.58" width="8.966" height="8.928" fill="#e6e6e6" stroke="#cacaca" stroke-width="0.75"/>
<rect x="79.38" y="434.58" width="8.966" height="8.928" fill="#e6e6e6" stroke="#cacaca" stroke-width="0.75"/>
<rect x="88.34" y="434.58" width="8.966" height="8.928" fill="#e6e6e6" stroke="#cacaca" stroke-width="0.75"/>
<rect x="97.31" y="434.58" width="8.966" height="8.928" fill="#e6e6e6" stroke="#cacaca" stroke-width="0.75"/>
<rect x="106.27" y="434.58" width="8.966" height="8.928" fill="#e6e6e6" stroke="#cacaca" stroke-width="0.75"/>
<rect x="115.24" y="434.58" width="8.966" height="8.928" fill="#e6e6e6" stroke="#cacaca" stroke-width="0.75"/>
<rect x="124.21" y="434.58" width="8.966" height="8.928" fill="#e6e6e6" stroke="#cacaca" stroke-width="0.75"/>
<rect x="133.17" y="434.58" width="8.966" height="8.928" fill="#e6e6e6" stroke="#cacaca" stroke-width="0.75"/>
<rect x="142.14" y="434.58" width="8.966" height="8.928" fill="#e6e6e6" stroke="#cacaca" stroke-width="0.75"/>
<rect x="151.11" y="434.58" width="8.966" height="8.928" fill="#e6e6e6" stroke="#cacaca" stroke-width="0.75"/>
<rect x="160.07" y="434.58" width="8.966" height="8.928" fill="#e6e6e6" stroke="#cacaca" stroke-width="0.75"/>
<rect x="169.04" y="434.58" width="8.966" height="8.928" fill="#e6e6e6" stroke="#cacaca" stroke-width="0.75"/>
<rect x="178.01" y="434.58" width="8.966" height="8.928" fill="#e6e6e6" stroke="#cacaca" stroke-width="0.75"/>
<rect x="186.97" y="434.58" width="8.966" height="8.928" fill="#e6e6e6" stroke="#cacaca" stroke-width="0.75"/>
<rect x="195.94" y="434.58" width="8.966" height="8.928" fill="#e6e6e6" stroke="#cacaca" stroke-width="0.75"/>
<rect x="204.91" y="434.58" width="8.966" height="8.928" fill="#e6e6e6" stroke="#cacaca" stroke-width="0.75"/>
<rect x="213.87" y="434.58" width="8.966" height="8.928" fill="#e6e6e6" stroke="#cacaca" stroke-width="0.75"/>
<rect x="222.84" y="434.58" width="8.966" height="8.928" fill="#e6e6e6" stroke="#cacaca" stroke-width="0.75"/>
<rect x="231.81" y="434.58" width="8.966" height="8.928" fill="#e6e6e6" stroke="#cacaca" stroke-width="0.75"/>
<rect x="240.77" y="434.58" width="8.966" height="8.928" fill="#e6e6e6" stroke="#cacaca" stroke-width="0.75"/>
<rect x="249.74" y="434.58" width="8.966" height="8.928" fill="#e6e6e6" stroke="#cacaca" stroke-width="0.75"/>
<rect x="258.71" y="434.58" width="8.966" height="8.928" fill="#e6e6e6" stroke="#cacaca" stroke-width="0.75"/>
<rect x="267.67" y="434.58" width="8.966" height="8.928" fill="#e6e6e6" stroke="#cacaca" stroke-width="0.75"/>
<rect x="276.64" y="434.58" width="8.966" height="8.928" fill="#e6e6e6" stroke="#cacaca" stroke-width="0.75"/>
<rect x="285.61" y="434.58" width="8.966" height="8.928" fill="#e6e6e6" stroke="#cacaca" stroke-width="0.75"/>
<rect x="294.57" y="434.58" width="8.966" height="8.928" fill="#e6e6e6" stroke="#cacaca" stroke-width="0.75"/>
<rect x="303.54" y="434.58" width="8.966" height="8.928" fill="#e6e6e6" stroke="#cacaca" stroke-width="0.75"/>
<rect x="312.50" y="434.58" width="8.966" height="8.928" fill="#e6e6e6" stroke="#cacaca" stroke-width="0.75"/>
<rect x="321.47" y="434.58" width="8.966" height="8.928" fill="#e6e6e6" stroke="#cacaca" stroke-width="0.75"/>
<rect x="330.44" y="434.58" width="8.966" height="8.928" fill="#e6e6e6" stroke="#cacaca" stroke-width="0.75"/>
<rect x="339.40" y="434.58" width="8.966" height="8.928" fill="#e6e6e6" stroke="#cacaca" stroke-width="0.75"/>
<rect x="348.37" y="434.58" width="8.966" height="8.928" fill="#e6e6e6" stroke="#cacaca" stroke-width="0.75"/>
<rect x="357.34" y="434.58" width="8.966" height="8.928" fill="#e6e6e6" stroke="#cacaca" stroke-width="0.75"/>
<rect x="366.30" y="434.58" width="8.966" height="8.928" fill="#e6e6e6" stroke="#cacaca" stroke-width="0.75"/>
<rect x="375.27" y="434.58" width="8.966" height="8.928" fill="#e6e6e6" stroke="#cacaca" stroke-width="0.75"/>
<rect x="384.24" y="434.58" width="9.966" height="8.928" fill="#e6e6e6" stroke="#cacaca" stroke-width="0.75"/>
<rect x="16.21" y="443.50" width="9.367" height="8.928" fill="#14f0f0" stroke="#cacaca" stroke-width="0.75"/>
<rect x="25.58" y="443.50" width="8.966" height="8.928" fill="#14f0f0" stroke="#cacaca" stroke-width="0.75"/>
<rect x="34.54" y="443.50" width="8.966" height="8.928" fill="#14f0f0" stroke="#cacaca" stroke-width="0.75"/>
<rect x="43.51" y="443.50" width="8.966" height="8.928" fill="#14f0f0" stroke="#cacaca" stroke-width="0.75"/>
<rect x="52.48" y="443.50" width="8.966" height="8.928" fill="#14f0f0" stroke="#cacaca" stroke-width="0.75"/>
<rect x="61.44" y="443.50" width="8.966" height="8.928" fill="#1cc8c8" stroke="#cacaca" stroke-width="0.75"/>
<rect x="70.41" y="443.50" width="8.966" height="8.928" fill="#e6e6e6" stroke="#cacaca" stroke-width="0.75"/>
<rect x="79.38" y="443.50" width="8.966" height="8.928" fill="#e6e6e6" stroke="#cacaca" stroke-width="0.75"/>
<rect x="88.34" y="443.50" width="8.966" height="8.928" fill="#e6e6e6" stroke="#cacaca" stroke-width="0.75"/>
<rect x="97.31" y="443.50" width="8.966" height="8.928" fill="#e6e6e6" stroke="#cacaca" stroke-width="0.75"/>
<rect x="106.27" y="443.50" width="8.966" height="8.928" fill="#e6e6e6" stroke="#cacaca" stroke-width="0.75"/>
<rect x="115.24" y="443.50" width="8.966" height="8.928" fill="#e6e6e6" stroke="#cacaca" stroke-width="0.75"/>
<rect x="124.21" y="443.50" width="8.966" height="8.928" fill="#e6e6e6" stroke="#cacaca" stroke-width="0.75"/>
<rect x="133.17" y="443.50" width="8.966" height="8.928" fill="#e6e6e6" stroke="#cacaca" stroke-width="0.75"/>
<rect x="142.14" y="443.50" width="8.966" height="8.928" fill="#e6e6e6" stroke="#cacaca" stroke-width="0.75"/>
<rect x="151.11" y="443.50" width="8.966" height="8.928" fill="#e6e6e6" stroke="#cacaca" stroke-width="0.75"/>
<rect x="160.07" y="443.50" width="8.966" height="8.928" fill="#e6e6e6" stroke="#cacaca" stroke-width="0.75"/>
<rect x="169.04" y="443.50" width="8.966" height="8.928" fill="#e6e6e6" stroke="#cacaca" stroke-width="0.75"/>
<rect x="178.01" y="443.50" width="8.966" height="8.928" fill="#e6e6e6" stroke="#cacaca" stroke-width="0.75"/>
<rect x="186.97" y="443.50" width="8.966" height="8.928" fill="#e6e6e6" stroke="#cacaca" stroke-width="0.75"/>
<rect x="195.94" y="443.50" width="8.966" height="8.928" fill="#e6e6e6" stroke="#cacaca" stroke-width="0.75"/>
<rect x="204.91" y="443.50" width="8.966" height="8.928" fill="#e6e6e6" stroke="#cacaca" stroke-width="0.75"/>
<rect x="213.87" y="443.50" width="8.966" height="8.928" fill="#e6e6e6" stroke="#cacaca" stroke-width="0.75"/>
<rect x="222.84" y="443.50" width="8.966" height="8.928" fill="#e6e6e6" stroke="#cacaca" stroke-width="0.75"/>
<rect x="231.81" y="443.50" width="8.966" height="8.928" fill="#e6e6e6" stroke="#cacaca" stroke-width="0.75"/>
<rect x="240.77" y="443.50" width="8.966" height="8.928" fill="#e6e6e6" stroke="#cacaca" stroke-width="0.75"/>
<rect x="249.74" y="443.50" width="8.966" height="8.928" fill="#e6e6e6" stroke="#cacaca" stroke-width="0.75"/>
<rect x="258.71" y="443.50" width="8.966" height="8.928" fill="#e6e6e6" stroke="#cacaca" stroke-width="0.75"/>
<rect x="267.67" y="443.50" width="8.966" height="8.928" fill="#e6e6e6" stroke="#cacaca" stroke-width="0.75"/>
<rect x="276.64" y="443.50" width="8.966" height="8.928" fill="#e6e6e6" stroke="#cacaca" stroke-width="0.75"/>
<rect x="285.61" y="443.50" width="8.966" height="8.928" fill="#e6e6e6" stroke="#cacaca" stroke-width="0.75"/>
<rect x="294.57" y="443.50" width="8.966" height="8.928" fill="#e6e6e6" stroke="#cacaca" stroke-width="0.75"/>
<rect x="303.54" y="443.50" width="8.966" height="8.928" fill="#e6e6e6" stroke="#cacaca" stroke-width="0.75"/>
<rect x="312.50" y="443.50" width="8.966" height="8.928" fill="#e6e6e6" stroke="#cacaca" stroke-width="0.75"/>
<rect x="321.47" y="443.50" width="8.966" height="8.928" fill="#e6e6e6" stroke="#cacaca" stroke-width="0.75"/>
<rect x="330.44" y="443.50" width="8.966" height="8.928" fill="#e6e6e6" stroke="#cacaca" stroke-width="0.75"/>
<rect x="339.40" y="443.50" width="8.966" height="8.928" fill="#e6e6e6" stroke="#cacaca" stroke-width="0.75"/>
<rect x="348.37" y="443.50" width="8.966" height="8.928" fill="#e6e6e6" stroke="#cacaca" stroke-width="0.75"/>
<rect x="357.34" y="443.50" width="8.966" height="8.928" fill="#e6e6e6" stroke="#cacaca" stroke-width="0.75"/>
<rect x="366.30" y="443.50" width="8.966" height="8.928" fill="#e6e6e6" stroke="#cacaca" stroke-width="0.75"/>
<rect x="375.27" y="443.50" width="8.966" height="8.928" fill="#e6e6e6" stroke="#cacaca" stroke-width="0.75"/>
<rect x="384.24" y="443.50" width="9.966" height="8.928" fill="#e6e6e6" stroke="#cacaca" stroke-width="0.75"/>
<rect x="16.21" y="452.43" width="9.367" height="8.928" fill="#9cc890" stroke="#cacaca" stroke-width="0.75"/>
<rect x="25.58" y="452.43" width="8.966" height="8.928" fill="#9cc890" stroke="#cacaca" stroke-width="0.75"/>
<rect x="34.54" y="452.43" width="8.966" height="8.928" fill="#f04880" stroke="#cacaca" stroke-width="0.75"/>
<rect x="43.51" y="452.43" width="8.966" height="8.928" fill="#ffffff" stroke="#cacaca" stroke-width="0.75"/>
<rect x="52.48" y="452.43" width="8.966" height="8.928" fill="#ffffff" stroke="#cacaca" stroke-width="0.75"/>
<rect x="61.44" y="452.43" width="8.966" height="8.928" fill="#ffffff" stroke="#cacaca" stroke-width="0.75"/>
<rect x="70.41" y="452.43" width="8.966" height="8.928" fill="#ffffff" stroke="#cacaca" stroke-width="0.75"/>
<rect x="79.38" y="452.43" width="8.966" height="8.928" fill="#ffffff" stroke="#cacaca" stroke-width="0.75"/>
<rect x="88.34" y="452.43" width="8.966" height="8.928" fill="#e6e6e6" stroke="#cacaca" stroke-width="0.75"/>
<rect x="97.31" y="452.43" width="8.966" height="8.928" fill="#e6e6e6" stroke="#cacaca" stroke-width="0.75"/>
<rect x="106.27" y="452.43" width="8.966" height="8.928" fill="#e6e6e6" stroke="#cacaca" stroke-width="0.75"/>
<rect x="115.24" y="452.43" width="8.966" height="8.928" fill="#e6e6e6" stroke="#cacaca" stroke-width="0.75"/>
<rect x="124.21" y="452.43" width="8.966" height="8.928" fill="#e6e6e6" stroke="#cacaca" stroke-width="0.75"/>
<rect x="133.17" y="452.43" width="8.966" height="8.928" fill="#e6e6e6" stroke="#cacaca" stroke-width="0.75"/>
<rect x="142.14" y="452.43" width="8.966" height="8.928" fill="#e6e6e6" stroke="#cacaca" stroke-width="0.75"/>
<rect x="151.11" y="452.43" width="8.966" height="8.928" fill="#e6e6e6" stroke="#cacaca" stroke-width="0.75"/>
<rect x="160.07" y="452.43" width="8.966" height="8.928" fill="#e6e6e6" stroke="#cacaca" stroke-width="0.75"/>
<rect x="169.04" y="452.43" width="8.966" height="8.928" fill="#e6e6e6" stroke="#cacaca" stroke-width="0.75"/>
<rect x="178.01" y="452.43" width="8.966" height="8.928" fill="#e6e6e6" stroke="#cacaca" stroke-width="0.75"/>
<rect x="186.97" y="452.43" width="8.966" height="8.928" fill="#e6e6e6" stroke="#cacaca" stroke-width="0.75"/>
<rect x="195.94" y="452.43" width="8.966" height="8.928" fill="#e6e6e6" stroke="#cacaca" stroke-width="0.75"/>
<rect x="204.91" y="452.43" width="8.966" height="8.928" fill="#e6e6e6" stroke="#cacaca" stroke-width="0.75"/>
<rect x="213.87" y="452.43" width="8.966" height="8.928" fill="#e6e6e6" stroke="#cacaca" stroke-width="0.75"/>
<rect x="222.84" y="452.43" width="8.966" height="8.928" fill="#e6e6e6" stroke="#cacaca" stroke-width="0.75"/>
<rect x="231.81" y="452.43" width="8.966" height="8.928" fill="#e6e6e6" stroke="#cacaca" stroke-width="0.75"/>
<rect x="240.77" y="452.43" width="8.966" height="8.928" fill="#e6e6e6" stroke="#cacaca" stroke-width="0.75"/>
<rect x="249.74" y="452.43" width="8.966" height="8.928" fill="#e6e6e6" stroke="#cacaca" stroke-width="0.75"/>
<rect x="258.71" y="452.43" width="8.966" height="8.928" fill="#e6e6e6" stroke="#cacaca" stroke-width="0.75"/>
<rect x="267.67" y="452.43" width="8.966" height="8.928" fill="#e6e6e6" stroke="#cacaca" stroke-width="0.75"/>
<rect x="276.64" y="452.43" width="8.966" height="8.928" fill="#e6e6e6" stroke="#cacaca" stroke-width="0.75"/>
<rect x="285.61" y="452.43" width="8.966" height="8.928" fill="#e6e6e6" stroke="#cacaca" stroke-width="0.75"/>
<rect x="294.57" y="452.43" width="8.966" height="8.928" fill="#e6e6e6" stroke="#cacaca" stroke-width="0.75"/>
<rect x="303.54" y="452.43" width="8.966" height="8.928" fill="#e6e6e6" stroke="#cacaca" stroke-width="0.75"/>
<rect x="312.50" y="452.43" width="8.966" height="8.928" fill="#e6e6e6" stroke="#cacaca" stroke-width="0.75"/>
<rect x="321.47" y="452.43" width="8.966" height="8.928" fill="#e6e6e6" stroke="#cacaca" stroke-width="0.75"/>
<rect x="330.44" y="452.43" width="8.966" height="8.928" fill="#e6e6e6" stroke="#cacaca" stroke-width="0.75"/>
<rect x="339.40" y="452.43" width="8.966" height="8.928" fill="#e6e6e6" stroke="#cacaca" stroke-width="0.75"/>
<rect x="348.37" y="452.43" width="8.966" height="8.928" fill="#e6e6e6" stroke="#cacaca" stroke-width="0.75"/>
<rect x="357.34" y="452.43" width="8.966" height="8.928" fill="#e6e6e6" stroke="#cacaca" stroke-width="0.75"/>
<rect x="366.30" y="452.43" width="8.966" height="8.928" fill="#e6e6e6" stroke="#cacaca" stroke-width="0.75"/>
<rect x="375.27" y="452.43" width="8.966" height="8.928" fill="#e6e6e6" stroke="#cacaca" stroke-width="0.75"/>
<rect x="384.24" y="452.43" width="9.966" height="8.928" fill="#e6e6e6" stroke="#cacaca" stroke-width="0.75"/>
<rect x="16.21" y="461.36" width="9.367" height="8.928" fill="#4a8a12" stroke="#cacaca" stroke-width="0.75"/>
<rect x="25.58" y="461.36" width="8.966" height="8.928" fill="#9cc890" stroke="#cacaca" stroke-width="0.75"/>
<rect x="34.54" y="461.36" width="8.966" height="8.928" fill="#c8a048" stroke="#cacaca" stroke-width="0.75"/>
<rect x="43.51" y="461.36" width="8.966" height="8.928" fill="#b8a0e0" stroke="#cacaca" stroke-width="0.75"/>
<rect x="52.48" y="461.36" width="8.966" height="8.928" fill="#ffffff" stroke="#cacaca" stroke-width="0.75"/>
<rect x="61.44" y="461.36" width="8.966" height="8.928" fill="#e6e6e6" stroke="#cacaca" stroke-width="0.75"/>
<rect x="70.41" y="461.36" width="8.966" height="8.928" fill="#e6e6e6" stroke="#cacaca" stroke-width="0.75"/>
<rect x="79.38" y="461.36" width="8.966" height="8.928" fill="#e6e6e6" stroke="#cacaca" stroke-width="0.75"/>
<rect x="88.34" y="461.36" width="8.966" height="8.928" fill="#e6e6e6" stroke="#cacaca" stroke-width="0.75"/>
<rect x="97.31" y="461.36" width="8.966" height="8.928" fill="#e6e6e6" stroke="#cacaca" stroke-width="0.75"/>
<rect x="106.27" y="461.36" width="8.966" height="8.928" fill="#e6e6e6" stroke="#cacaca" stroke-width="0.75"/>
<rect x="115.24" y="461.36" width="8.966" height="8.928" fill="#e6e6e6" stroke="#cacaca" stroke-width="0.75"/>
<rect x="124.21" y="461.36" width="8.966" height="8.928" fill="#e6e6e6" stroke="#cacaca" stroke-width="0.75"/>
<rect x="133.17" y="461.36" width="8.966" height="8.928" fill="#e6e6e6" stroke="#cacaca" stroke-width="0.75"/>
<rect x="142.14" y="461.36" width="8.966" height="8.928" fill="#e6e6e6" stroke="#cacaca" stroke-width="0.75"/>
<rect x="151.11" y="461.36" width="8.966" height="8.928" fill="#e6e6e6" stroke="#cacaca" stroke-width="0.75"/>
<rect x="160.07" y="461.36" width="8.966" height="8.928" fill="#e6e6e6" stroke="#cacaca" stroke-width="0.75"/>
<rect x="169.04" y="461.36" width="8.966" height="8.928" fill="#e6e6e6" stroke="#cacaca" stroke-width="0.75"/>
<rect x="178.01" y="461.36" width="8.966" height="8.928" fill="#e6e6e6" stroke="#cacaca" stroke-width="0.75"/>
<rect x="186.97" y="461.36" width="8.966" height="8.928" fill="#e6e6e6" stroke="#cacaca" stroke-width="0.75"/>
<rect x="195.94" y="461.36" width="8.966" height="8.928" fill="#e6e6e6" stroke="#cacaca" stroke-width="0.75"/>
<rect x="204.91" y="461.36" width="8.966" height="8.928" fill="#e6e6e6" stroke="#cacaca" stroke-width="0.75"/>
<rect x="213.87" y="461.36" width="8.966" height="8.928" fill="#e6e6e6" stroke="#cacaca" stroke-width="0.75"/>
<rect x="222.84" y="461.36" width="8.966" height="8.928" fill="#e6e6e6" stroke="#cacaca" stroke-width="0.75"/>
<rect x="231.81" y="461.36" width="8.966" height="8.928" fill="#e6e6e6" stroke="#cacaca" stroke-width="0.75"/>
<rect x="240.77" y="461.36" width="8.966" height="8.928" fill="#e6e6e6" stroke="#cacaca" stroke-width="0.75"/>
<rect x="249.74" y="461.36" width="8.966" height="8.928" fill="#e6e6e6" stroke="#cacaca" stroke-width="0.75"/>
<rect x="258.71" y="461.36" width="8.966" height="8.928" fill="#e6e6e6" stroke="#cacaca" stroke-width="0.75"/>
<rect x="267.67" y="461.36" width="8.966" height="8.928" fill="#e6e6e6" stroke="#cacaca" stroke-width="0.75"/>
<rect x="276.64" y="461.36" width="8.966" height="8.928" fill="#e6e6e6" stroke="#cacaca" stroke-width="0.75"/>
<rect x="285.61" y="461.36" width="8.966" height="8.928" fill="#e6e6e6" stroke="#cacaca" stroke-width="0.75"/>
<rect x="294.57" y="461.36" width="8.966" height="8.928" fill="#e6e6e6" stroke="#cacaca" stroke-width="0.75"/>
<rect x="303.54" y="461.36" width="8.966" height="8.928" fill="#e6e6e6" stroke="#cacaca" stroke-width="0.75"/>
<rect x="312.50" y="461.36" width="8.966" height="8.928" fill="#e6e6e6" stroke="#cacaca" stroke-width="0.75"/>
<rect x="321.47" y="461.36" width="8.966" height="8.928" fill="#e6e6e6" stroke="#cacaca" stroke-width="0.75"/>
<rect x="330.44" y="461.36" width="8.966" height="8.928" fill="#e6e6e6" stroke="#cacaca" stroke-width="0.75"/>
<rect x="339.40" y="461.36" width="8.966" height="8.928" fill="#e6e6e6" stroke="#cacaca" stroke-width="0.75"/>
<rect x="348.37" y="461.36" width="8.966" height="8.928" fill="#e6e6e6" stroke="#cacaca" stroke-width="0.75"/>
<rect x="357.34" y="461.36" width="8.966" height="8.928" fill="#e6e6e6" stroke="#cacaca" stroke-width="0.75"/>
<rect x="366.30" y="461.36" width="8.966" height="8.928" fill="#e6e6e6" stroke="#cacaca" stroke-width="0.75"/>
<rect x="375.27" y="461.36" width="8.966" height="8.928" fill="#e6e6e6" stroke="#cacaca" stroke-width="0.75"/>
<rect x="384.24" y="461.36" width="9.966" height="8.928" fill="#e6e6e6" stroke="#cacaca" stroke-width="0.75"/>
<rect x="16.21" y="470.29" width="9.367" height="8.928" fill="#b00c28" stroke="#cacaca" stroke-width="0.75"/>
<rect x="25.58" y="470.29" width="8.966" height="8.928" fill="#083c80" stroke="#cacaca" stroke-width="0.75"/>
<rect x="34.54" y="470.29" width="8.966" height="8.928" fill="#6ca0d8" stroke="#cacaca" stroke-width="0.75"/>
<rect x="43.51" y="470.29" width="8.966" height="8.928" fill="#c8d4f8" stroke="#cacaca" stroke-width="0.75"/>
<rect x="52.48" y="470.29" width="8.966" height="8.928" fill="#ffffff" stroke="#cacaca" stroke-width="0.75"/>
<rect x="61.44" y="470.29" width="8.966" height="8.928" fill="#ffffff" stroke="#cacaca" stroke-width="0.75"/>
<rect x="70.41" y="470.29" width="8.966" height="8.928" fill="#ffffff" stroke="#cacaca" stroke-width="0.75"/>
<rect x="79.38" y="470.29" width="8.966" height="8.928" fill="#ffffff" stroke="#cacaca" stroke-width="0.75"/>
<rect x="88.34" y="470.29" width="8.966" height="8.928" fill="#e6e6e6" stroke="#cacaca" stroke-width="0.75"/>
<rect x="97.31" y="470.29" width="8.966" height="8.928" fill="#e6e6e6" stroke="#cacaca" stroke-width="0.75"/>
<rect x="106.27" y="470.29" width="8.966" height="8.928" fill="#e6e6e6" stroke="#cacaca" stroke-width="0.75"/>
<rect x="115.24" y="470.29" width="8.966" height="8.928" fill="#e6e6e6" stroke="#cacaca" stroke-width="0.75"/>
<rect x="124.21" y="470.29" width="8.966" height="8.928" fill="#e6e6e6" stroke="#cacaca" stroke-width="0.75"/>
<rect x="133.17" y="470.29" width="8.966" height="8.928" fill="#e6e6e6" stroke="#cacaca" stroke-width="0.75"/>
<rect x="142.14" y="470.29" width="8.966" height="8.928" fill="#e6e6e6" stroke="#cacaca" stroke-width="0.75"/>
<rect x="151.11" y="470.29" width="8.966" height="8.928" fill="#e6e6e6" stroke="#cacaca" stroke-width="0.75"/>
<rect x="160.07" y="470.29" width="8.966" height="8.928" fill="#e6e6e6" stroke="#cacaca" stroke-width="0.75"/>
<rect x="169.04" y="470.29" width="8.966" height="8.928" fill="#e6e6e6" stroke="#cacaca" stroke-width="0.75"/>
<rect x="178.01" y="470.29" width="8.966" height="8.928" fill="#e6e6e6" stroke="#cacaca" stroke-width="0.75"/>
<rect x="186.97" y="470.29" width="8.966" height="8.928" fill="#e6e6e6" stroke="#cacaca" stroke-width="0.75"/>
<rect x="195.94" y="470.29" width="8.966" height="8.928" fill="#e6e6e6" stroke="#cacaca" stroke-width="0.75"/>
<rect x="204.91" y="470.29" width="8.966" height="8.928" fill="#e6e6e6" stroke="#cacaca" stroke-width="0.75"/>
<rect x="213.87" y="470.29" width="8.966" height="8.928" fill="#e6e6e6" stroke="#cacaca" stroke-width="0.75"/>
<rect x="222.84" y="470.29" width="8.966" height="8.928" fill="#e6e6e6" stroke="#cacaca" stroke-width="0.75"/>
<rect x="231.81" y="470.29" width="8.966" height="8.928" fill="#e6e6e6" stroke="#cacaca" stroke-width="0.75"/>
<rect x="240.77" y="470.29" width="8.966" height="8.928" fill="#e6e6e6" stroke="#cacaca" stroke-width="0.75"/>
<rect x="249.74" y="470.29" width="8.966" height="8.928" fill="#e6e6e6" stroke="#cacaca" stroke-width="0.75"/>
<rect x="258.71" y="470.29" width="8.966" height="8.928" fill="#e6e6e6" stroke="#cacaca" stroke-width="0.75"/>
<rect x="267.67" y="470.29" width="8.966" height="8.928" fill="#e6e6e6" stroke="#cacaca" stroke-width="0.75"/>
<rect x="276.64" y="470.29" width="8.966" height="8.928" fill="#e6e6e6" stroke="#cacaca" stroke-width="0.75"/>
<rect x="285.61" y="470.29" width="8.966" height="8.928" fill="#e6e6e6" stroke="#cacaca" stroke-width="0.75"/>
<rect x="294.57" y="470.29" width="8.966" height="8.928" fill="#e6e6e6" stroke="#cacaca" stroke-width="0.75"/>
<rect x="303.54" y="470.29" width="8.966" height="8.928" fill="#e6e6e6" stroke="#cacaca" stroke-width="0.75"/>
<rect x="312.50" y="470.29" width="8.966" height="8.928" fill="#e6e6e6" stroke="#cacaca" stroke-width="0.75"/>
<rect x="321.47" y="470.29" width="8.966" height="8.928" fill="#e6e6e6" stroke="#cacaca" stroke-width="0.75"/>
<rect x="330.44" y="470.29" width="8.966" height="8.928" fill="#e6e6e6" stroke="#cacaca" stroke-width="0.75"/>
<rect x="339.40" y="470.29" width="8.966" height="8.928" fill="#e6e6e6" stroke="#cacaca" stroke-width="0.75"/>
<rect x="348.37" y="470.29" width="8.966" height="8.928" fill="#e6e6e6" stroke="#cacaca" stroke-width="0.75"/>
<rect x="357.34" y="470.29" width="8.966" height="8.928" fill="#e6e6e6" stroke="#cacaca" stroke-width="0.75"/>
<rect x="366.30" y="470.29" width="8.966" height="8.928" fill="#e6e6e6" stroke="#cacaca" stroke-width="0.75"/>
<rect x="375.27" y="470.29" width="8.966" height="8.928" fill="#e6e6e6" stroke="#cacaca" stroke-width="0.75"/>
<rect x="384.24" y="470.29" width="9.966" height="8.928" fill="#e6e6e6" stroke="#cacaca" stroke-width="0.75"/>
<rect x="16.21" y="479.22" width="9.367" height="8.928" fill="#e8c6a0" stroke="#cacaca" stroke-width="0.75"/>
<rect x="25.58" y="479.22" width="8.966" height="8.928" fill="#e8c6a0" stroke="#cacaca" stroke-width="0.75"/>
<rect x="34.54" y="479.22" width="8.966" height="8.928" fill="#e8c6a0" stroke="#cacaca" stroke-width="0.75"/>
<rect x="43.51" y="479.22" width="8.966" height="8.928" fill="#f8a8a0" stroke="#cacaca" stroke-width="0.75"/>
<rect x="52.48" y="479.22" width="8.966" height="8.928" fill="#f8a8a0" stroke="#cacaca" stroke-width="0.75"/>
<rect x="61.44" y="479.22" width="8.966" height="8.928" fill="#4de51e" stroke="#cacaca" stroke-width="0.75"/>
<rect x="70.41" y="479.22" width="8.966" height="8.928" fill="#000000" stroke="#cacaca" stroke-width="0.75"/>
<rect x="79.38" y="479.22" width="8.966" height="8.928" fill="#c8a048" stroke="#cacaca" stroke-width="0.75"/>
<rect x="88.34" y="479.22" width="8.966" height="8.928" fill="#8058f8" stroke="#cacaca" stroke-width="0.75"/>
<rect x="97.31" y="479.22" width="8.966" height="8.928" fill="#ffffff" stroke="#cacaca" stroke-width="0.75"/>
<rect x="106.27" y="479.22" width="8.966" height="8.928" fill="#ffffff" stroke="#cacaca" stroke-width="0.75"/>
<rect x="115.24" y="479.22" width="8.966" height="8.928" fill="#ffffff" stroke="#cacaca" stroke-width="0.75"/>
<rect x="124.21" y="479.22" width="8.966" height="8.928" fill="#ffffff" stroke="#cacaca" stroke-width="0.75"/>
<rect x="133.17" y="479.22" width="8.966" height="8.928" fill="#ffffff" stroke="#cacaca" stroke-width="0.75"/>
<rect x="142.14" y="479.22" width="8.966" height="8.928" fill="#ffffff" stroke="#cacaca" stroke-width="0.75"/>
<rect x="151.11" y="479.22" width="8.966" height="8.928" fill="#ffffff" stroke="#cacaca" stroke-width="0.75"/>
<rect x="160.07" y="479.22" width="8.966" height="8.928" fill="#ffffff" stroke="#cacaca" stroke-width="0.75"/>
<rect x="169.04" y="479.22" width="8.966" height="8.928" fill="#ffffff" stroke="#cacaca" stroke-width="0.75"/>
<rect x="178.01" y="479.22" width="8.966" height="8.928" fill="#ffffff" stroke="#cacaca" stroke-width="0.75"/>
<rect x="186.97" y="479.22" width="8.966" height="8.928" fill="#ffffff" stroke="#cacaca" stroke-width="0.75"/>
<rect x="195.94" y="479.22" width="8.966" height="8.928" fill="#ffffff" stroke="#cacaca" stroke-width="0.75"/>
<rect x="204.91" y="479.22" width="8.966" height="8.928" fill="#ffffff" stroke="#cacaca" stroke-width="0.75"/>
<rect x="213.87" y="479.22" width="8.966" height="8.928" fill="#ffffff" stroke="#cacaca" stroke-width="0.75"/>
<rect x="222.84" y="479.22" width="8.966" height="8.928" fill="#ffffff" stroke="#cacaca" stroke-width="0.75"/>
<rect x="231.81" y="479.22" width="8.966" height="8.928" fill="#ffffff" stroke="#cacaca" stroke-width="0.75"/>
<rect x="240.77" y="479.22" width="8.966" height="8.928" fill="#ffffff" stroke="#cacaca" stroke-width="0.75"/>
<rect x="249.74" y="479.22" width="8.966" height="8.928" fill="#ffffff" stroke="#cacaca" stroke-width="0.75"/>
<rect x="258.71" y="479.22" width="8.966" height="8.928" fill="#ffffff" stroke="#cacaca" stroke-width="0.75"/>
<rect x="267.67" y="479.22" width="8.966" height="8.928" fill="#ffffff" stroke="#cacaca" stroke-width="0.75"/>
<rect x="276.64" y="479.22" width="8.966" height="8.928" fill="#ffffff" stroke="#cacaca" stroke-width="0.75"/>
<rect x="285.61" y="479.22" width="8.966" height="8.928" fill="#e6e6e6" stroke="#cacaca" stroke-width="0.75"/>
<rect x="294.57" y="479.22" width="8.966" height="8.928" fill="#e6e6e6" stroke="#cacaca" stroke-width="0.75"/>
<rect x="303.54" y="479.22" width="8.966" height="8.928" fill="#e6e6e6" stroke="#cacaca" stroke-width="0.75"/>
<rect x="312.50" y="479.22" width="8.966" height="8.928" fill="#e6e6e6" stroke="#cacaca" stroke-width="0.75"/>
<rect x="321.47" y="479.22" width="8.966" height="8.928" fill="#e6e6e6" stroke="#cacaca" stroke-width="0.75"/>
<rect x="330.44" y="479.22" width="8.966" height="8.928" fill="#e6e6e6" stroke="#cacaca" stroke-width="0.75"/>
<rect x="339.40" y="479.22" width="8.966" height="8.928" fill="#e6e6e6" stroke="#cacaca" stroke-width="0.75"/>
<rect x="348.37" y="479.22" width="8.966" height="8.928" fill="#e6e6e6" stroke="#cacaca" stroke-width="0.75"/>
<rect x="357.34" y="479.22" width="8.966" height="8.928" fill="#e6e6e6" stroke="#cacaca" stroke-width="0.75"/>
<rect x="366.30" y="479.22" width="8.966" height="8.928" fill="#e6e6e6" stroke="#cacaca" stroke-width="0.75"/>
<rect x="375.27" y="479.22" width="8.966" height="8.928" fill="#e6e6e6" stroke="#cacaca" stroke-width="0.75"/>
<rect x="384.24" y="479.22" width="9.966" height="8.928" fill="#e6e6e6" stroke="#cacaca" stroke-width="0.75"/>
<rect x="16.21" y="488.14" width="9.367" height="8.928" fill="#f5c845" stroke="#cacaca" stroke-width="0.75"/>
<rect x="25.58" y="488.14" width="8.966" height="8.928" fill="#f5c845" stroke="#cacaca" stroke-width="0.75"/>
<rect x="34.54" y="488.14" width="8.966" height="8.928" fill="#b00c28" stroke="#cacaca" stroke-width="0.75"/>
<rect x="43.51" y="488.14" width="8.966" height="8.928" fill="#b00c28" stroke="#cacaca" stroke-width="0.75"/>
<rect x="52.48" y="488.14" width="8.966" height="8.928" fill="#b00c28" stroke="#cacaca" stroke-width="0.75"/>
<rect x="61.44" y="488.14" width="8.966" height="8.928" fill="#b00c28" stroke="#cacaca" stroke-width="0.75"/>
<rect x="70.41" y="488.14" width="8.966" height="8.928" fill="#b00c28" stroke="#cacaca" stroke-width="0.75"/>
<rect x="79.38" y="488.14" width="8.966" height="8.928" fill="#8058f8" stroke="#cacaca" stroke-width="0.75"/>
<rect x="88.34" y="488.14" width="8.966" height="8.928" fill="#8058f8" stroke="#cacaca" stroke-width="0.75"/>
<rect x="97.31" y="488.14" width="8.966" height="8.928" fill="#62c0f6" stroke="#cacaca" stroke-width="0.75"/>
<rect x="106.27" y="488.14" width="8.966" height="8.928" fill="#f8a0d0" stroke="#cacaca" stroke-width="0.75"/>
<rect x="115.24" y="488.14" width="8.966" height="8.928" fill="#ffffff" stroke="#cacaca" stroke-width="0.75"/>
<rect x="124.21" y="488.14" width="8.966" height="8.928" fill="#ffffff" stroke="#cacaca" stroke-width="0.75"/>
<rect x="133.17" y="488.14" width="8.966" height="8.928" fill="#ffffff" stroke="#cacaca" stroke-width="0.75"/>
<rect x="142.14" y="488.14" width="8.966" height="8.928" fill="#ffffff" stroke="#cacaca" stroke-width="0.75"/>
<rect x="151.11" y="488.14" width="8.966" height="8.928" fill="#ffffff" stroke="#cacaca" stroke-width="0.75"/>
<rect x="160.07" y="488.14" width="8.966" height="8.928" fill="#ffffff" stroke="#cacaca" stroke-width="0.75"/>
<rect x="169.04" y="488.14" width="8.966" height="8.928" fill="#ffffff" stroke="#cacaca" stroke-width="0.75"/>
<rect x="178.01" y="488.14" width="8.966" height="8.928" fill="#ffffff" stroke="#cacaca" stroke-width="0.75"/>
<rect x="186.97" y="488.14" width="8.966" height="8.928" fill="#ffffff" stroke="#cacaca" stroke-width="0.75"/>
<rect x="195.94" y="488.14" width="8.966" height="8.928" fill="#ffffff" stroke="#cacaca" stroke-width="0.75"/>
<rect x="204.91" y="488.14" width="8.966" height="8.928" fill="#ffffff" stroke="#cacaca" stroke-width="0.75"/>
<rect x="213.87" y="488.14" width="8.966" height="8.928" fill="#ffffff" stroke="#cacaca" stroke-width="0.75"/>
<rect x="222.84" y="488.14" width="8.966" height="8.928" fill="#ffffff" stroke="#cacaca" stroke-width="0.75"/>
<rect x="231.81" y="488.14" width="8.966" height="8.928" fill="#ffffff" stroke="#cacaca" stroke-width="0.75"/>
<rect x="240.77" y="488.14" width="8.966" height="8.928" fill="#ffffff" stroke="#cacaca" stroke-width="0.75"/>
<rect x="249.74" y="488.14" width="8.966" height="8.928" fill="#ffffff" stroke="#cacaca" stroke-width="0.75"/>
<rect x="258.71" y="488.14" width="8.966" height="8.928" fill="#ffffff" stroke="#cacaca" stroke-width="0.75"/>
<rect x="267.67" y="488.14" width="8.966" height="8.928" fill="#ffffff" stroke="#cacaca" stroke-width="0.75"/>
<rect x="276.64" y="488.14" width="8.966" height="8.928" fill="#ffffff" stroke="#cacaca" stroke-width="0.75"/>
<rect x="285.61" y="488.14" width="8.966" height="8.928" fill="#ffffff" stroke="#cacaca" stroke-width="0.75"/>
<rect x="294.57" y="488.14" width="8.966" height="8.928" fill="#ffffff" stroke="#cacaca" stroke-width="0.75"/>
<rect x="303.54" y="488.14" width="8.966" height="8.928" fill="#e6e6e6" stroke="#cacaca" stroke-width="0.75"/>
<rect x="312.50" y="488.14" width="8.966" height="8.928" fill="#e6e6e6" stroke="#cacaca" stroke-width="0.75"/>
<rect x="321.47" y="488.14" width="8.966" height="8.928" fill="#e6e6e6" stroke="#cacaca" stroke-width="0.75"/>
<rect x="330.44" y="488.14" width="8.966" height="8.928" fill="#e6e6e6" stroke="#cacaca" stroke-width="0.75"/>
<rect x="339.40" y="488.14" width="8.966" height="8.928" fill="#e6e6e6" stroke="#cacaca" stroke-width="0.75"/>
<rect x="348.37" y="488.14" width="8.966" height="8.928" fill="#e6e6e6" stroke="#cacaca" stroke-width="0.75"/>
<rect x="357.34" y="488.14" width="8.966" height="8.928" fill="#e6e6e6" stroke="#cacaca" stroke-width="0.75"/>
<rect x="366.30" y="488.14" width="8.966" height="8.928" fill="#e6e6e6" stroke="#cacaca" stroke-width="0.75"/>
<rect x="375.27" y="488.14" width="8.966" height="8.928" fill="#e6e6e6" stroke="#cacaca" stroke-width="0.75"/>
<rect x="384.24" y="488.14" width="9.966" height="8.928" fill="#e6e6e6" stroke="#cacaca" stroke-width="0.75"/>
<rect x="16.21" y="497.07" width="9.367" height="8.928" fill="#6ca0d8" stroke="#cacaca" stroke-width="0.75"/>
<rect x="25.58" y="497.07" width="8.966" height="8.928" fill="#6ca0d8" stroke="#cacaca" stroke-width="0.75"/>
<rect x="34.54" y="497.07" width="8.966" height="8.928" fill="#9cc890" stroke="#cacaca" stroke-width="0.75"/>
<rect x="43.51" y="497.07" width="8.966" height="8.928" fill="#a424c8" stroke="#cacaca" stroke-width="0.75"/>
<rect x="52.48" y="497.07" width="8.966" height="8.928" fill="#ffffff" stroke="#cacaca" stroke-width="0.75"/>
<rect x="61.44" y="497.07" width="8.966" height="8.928" fill="#e6e6e6" stroke="#cacaca" stroke-width="0.75"/>
<rect x="70.41" y="497.07" width="8.966" height="8.928" fill="#e6e6e6" stroke="#cacaca" stroke-width="0.75"/>
<rect x="79.38" y="497.07" width="8.966" height="8.928" fill="#e6e6e6" stroke="#cacaca" stroke-width="0.75"/>
<rect x="88.34" y="497.07" width="8.966" height="8.928" fill="#e6e6e6" stroke="#cacaca" stroke-width="0.75"/>
<rect x="97.31" y="497.07" width="8.966" height="8.928" fill="#e6e6e6" stroke="#cacaca" stroke-width="0.75"/>
<rect x="106.27" y="497.07" width="8.966" height="8.928" fill="#e6e6e6" stroke="#cacaca" stroke-width="0.75"/>
<rect x="115.24" y="497.07" width="8.966" height="8.928" fill="#e6e6e6" stroke="#cacaca" stroke-width="0.75"/>
<rect x="124.21" y="497.07" width="8.966" height="8.928" fill="#e6e6e6" stroke="#cacaca" stroke-width="0.75"/>
<rect x="133.17" y="497.07" width="8.966" height="8.928" fill="#e6e6e6" stroke="#cacaca" stroke-width="0.75"/>
<rect x="142.14" y="497.07" width="8.966" height="8.928" fill="#e6e6e6" stroke="#cacaca" stroke-width="0.75"/>
<rect x="151.11" y="497.07" width="8.966" height="8.928" fill="#e6e6e6" stroke="#cacaca" stroke-width="0.75"/>
<rect x="160.07" y="497.07" width="8.966" height="8.928" fill="#e6e6e6" stroke="#cacaca" stroke-width="0.75"/>
<rect x="169.04" y="497.07" width="8.966" height="8.928" fill="#e6e6e6" stroke="#cacaca" stroke-width="0.75"/>
<rect x="178.01" y="497.07" width="8.966" height="8.928" fill="#e6e6e6" stroke="#cacaca" stroke-width="0.75"/>
<rect x="186.97" y="497.07" width="8.966" height="8.928" fill="#e6e6e6" stroke="#cacaca" stroke-width="0.75"/>
<rect x="195.94" y="497.07" width="8.966" height="8.928" fill="#e6e6e6" stroke="#cacaca" stroke-width="0.75"/>
<rect x="204.91" y="497.07" width="8.966" height="8.928" fill="#e6e6e6" stroke="#cacaca" stroke-width="0.75"/>
<rect x="213.87" y="497.07" width="8.966" height="8.928" fill="#e6e6e6" stroke="#cacaca" stroke-width="0.75"/>
<rect x="222.84" y="497.07" width="8.966" height="8.928" fill="#e6e6e6" stroke="#cacaca" stroke-width="0.75"/>
<rect x="231.81" y="497.07" width="8.966" height="8.928" fill="#e6e6e6" stroke="#cacaca" stroke-width="0.75"/>
<rect x="240.77" y="497.07" width="8.966" height="8.928" fill="#e6e6e6" stroke="#cacaca" stroke-width="0.75"/>
<rect x="249.74" y="497.07" width="8.966" height="8.928" fill="#e6e6e6" stroke="#cacaca" stroke-width="0.75"/>
<rect x="258.71" y="497.07" width="8.966" height="8.928" fill="#e6e6e6" stroke="#cacaca" stroke-width="0.75"/>
<rect x="267.67" y="497.07" width="8.966" height="8.928" fill="#e6e6e6" stroke="#cacaca" stroke-width="0.75"/>
<rect x="276.64" y="497.07" width="8.966" height="8.928" fill="#e6e6e6" stroke="#cacaca" stroke-width="0.75"/>
<rect x="285.61" y="497.07" width="8.966" height="8.928" fill="#e6e6e6" stroke="#cacaca" stroke-width="0.75"/>
<rect x="294.57" y="497.07" width="8.966" height="8.928" fill="#e6e6e6" stroke="#cacaca" stroke-width="0.75"/>
<rect x="303.54" y="497.07" width="8.966" height="8.928" fill="#e6e6e6" stroke="#cacaca" stroke-width="0.75"/>
<rect x="312.50" y="497.07" width="8.966" height="8.928" fill="#e6e6e6" stroke="#cacaca" stroke-width="0.75"/>
<rect x="321.47" y="497.07" width="8.966" height="8.928" fill="#e6e6e6" stroke="#cacaca" stroke-width="0.75"/>
<rect x="330.44" y="497.07" width="8.966" height="8.928" fill="#e6e6e6" stroke="#cacaca" stroke-width="0.75"/>
<rect x="339.40" y="497.07" width="8.966" height="8.928" fill="#e6e6e6" stroke="#cacaca" stroke-width="0.75"/>
<rect x="348.37" y="497.07" width="8.966" height="8.928" fill="#e6e6e6" stroke="#cacaca" stroke-width="0.75"/>
<rect x="357.34" y="497.07" width="8.966" height="8.928" fill="#e6e6e6" stroke="#cacaca" stroke-width="0.75"/>
<rect x="366.30" y="497.07" width="8.966" height="8.928" fill="#e6e6e6" stroke="#cacaca" stroke-width="0.75"/>
<rect x="375.27" y="497.07" width="8.966" height="8.928" fill="#e6e6e6" stroke="#cacaca" stroke-width="0.75"/>
<rect x="384.24" y="497.07" width="9.966" height="8.928" fill="#e6e6e6" stroke="#cacaca" stroke-width="0.75"/>
<rect x="16.21" y="506.00" width="9.367" height="8.928" fill="#f5c845" stroke="#cacaca" stroke-width="0.75"/>
<rect x="25.58" y="506.00" width="8.966" height="8.928" fill="#f5c845" stroke="#cacaca" stroke-width="0.75"/>
<rect x="34.54" y="506.00" width="8.966" height="8.928" fill="#b00c28" stroke="#cacaca" stroke-width="0.75"/>
<rect x="43.51" y="506.00" width="8.966" height="8.928" fill="#b00c28" stroke="#cacaca" stroke-width="0.75"/>
<rect x="52.48" y="506.00" width="8.966" height="8.928" fill="#b00c28" stroke="#cacaca" stroke-width="0.75"/>
<rect x="61.44" y="506.00" width="8.966" height="8.928" fill="#b00c28" stroke="#cacaca" stroke-width="0.75"/>
<rect x="70.41" y="506.00" width="8.966" height="8.928" fill="#b00c28" stroke="#cacaca" stroke-width="0.75"/>
<rect x="79.38" y="506.00" width="8.966" height="8.928" fill="#b00c28" stroke="#cacaca" stroke-width="0.75"/>
<rect x="88.34" y="506.00" width="8.966" height="8.928" fill="#b00c28" stroke="#cacaca" stroke-width="0.75"/>
<rect x="97.31" y="506.00" width="8.966" height="8.928" fill="#f8a0d0" stroke="#cacaca" stroke-width="0.75"/>
<rect x="106.27" y="506.00" width="8.966" height="8.928" fill="#f8a0d0" stroke="#cacaca" stroke-width="0.75"/>
<rect x="115.24" y="506.00" width="8.966" height="8.928" fill="#f8a0d0" stroke="#cacaca" stroke-width="0.75"/>
<rect x="124.21" y="506.00" width="8.966" height="8.928" fill="#083c80" stroke="#cacaca" stroke-width="0.75"/>
<rect x="133.17" y="506.00" width="8.966" height="8.928" fill="#8058f8" stroke="#cacaca" stroke-width="0.75"/>
<rect x="142.14" y="506.00" width="8.966" height="8.928" fill="#ffffff" stroke="#cacaca" stroke-width="0.75"/>
<rect x="151.11" y="506.00" width="8.966" height="8.928" fill="#ffffff" stroke="#cacaca" stroke-width="0.75"/>
<rect x="160.07" y="506.00" width="8.966" height="8.928" fill="#ffffff" stroke="#cacaca" stroke-width="0.75"/>
<rect x="169.04" y="506.00" width="8.966" height="8.928" fill="#ffffff" stroke="#cacaca" stroke-width="0.75"/>
<rect x="178.01" y="506.00" width="8.966" height="8.928" fill="#ffffff" stroke="#cacaca" stroke-width="0.75"/>
<rect x="186.97" y="506.00" width="8.966" height="8.928" fill="#ffffff" stroke="#cacaca" stroke-width="0.75"/>
<rect x="195.94" y="506.00" width="8.966" height="8.928" fill="#ffffff" stroke="#cacaca" stroke-width="0.75"/>
<rect x="204.91" y="506.00" width="8.966" height="8.928" fill="#e6e6e6" stroke="#cacaca" stroke-width="0.75"/>
<rect x="213.87" y="506.00" width="8.966" height="8.928" fill="#e6e6e6" stroke="#cacaca" stroke-width="0.75"/>
<rect x="222.84" y="506.00" width="8.966" height="8.928" fill="#e6e6e6" stroke="#cacaca" stroke-width="0.75"/>
<rect x="231.81" y="506.00" width="8.966" height="8.928" fill="#e6e6e6" stroke="#cacaca" stroke-width="0.75"/>
<rect x="240.77" y="506.00" width="8.966" height="8.928" fill="#e6e6e6" stroke="#cacaca" stroke-width="0.75"/>
<rect x="249.74" y="506.00" width="8.966" height="8.928" fill="#e6e6e6" stroke="#cacaca" stroke-width="0.75"/>
<rect x="258.71" y="506.00" width="8.966" height="8.928" fill="#e6e6e6" stroke="#cacaca" stroke-width="0.75"/>
<rect x="267.67" y="506.00" width="8.966" height="8.928" fill="#e6e6e6" stroke="#cacaca" stroke-width="0.75"/>
<rect x="276.64" y="506.00" width="8.966" height="8.928" fill="#e6e6e6" stroke="#cacaca" stroke-width="0.75"/>
<rect x="285.61" y="506.00" width="8.966" height="8.928" fill="#e6e6e6" stroke="#cacaca" stroke-width="0.75"/>
<rect x="294.57" y="506.00" width="8.966" height="8.928" fill="#e6e6e6" stroke="#cacaca" stroke-width="0.75"/>
<rect x="303.54" y="506.00" width="8.966" height="8.928" fill="#e6e6e6" stroke="#cacaca" stroke-width="0.75"/>
<rect x="312.50" y="506.00" width="8.966" height="8.928" fill="#e6e6e6" stroke="#cacaca" stroke-width="0.75"/>
<rect x="321.47" y="506.00" width="8.966" height="8.928" fill="#e6e6e6" stroke="#cacaca" stroke-width="0.75"/>
<rect x="330.44" y="506.00" width="8.966" height="8.928" fill="#e6e6e6" stroke="#cacaca" stroke-width="0.75"/>
<rect x="339.40" y="506.00" width="8.966" height="8.928" fill="#e6e6e6" stroke="#cacaca" stroke-width="0.75"/>
<rect x="348.37" y="506.00" width="8.966" height="8.928" fill="#e6e6e6" stroke="#cacaca" stroke-width="0.75"/>
<rect x="357.34" y="506.00" width="8.966" height="8.928" fill="#e6e6e6" stroke="#cacaca" stroke-width="0.75"/>
<rect x="366.30" y="506.00" width="8.966" height="8.928" fill="#e6e6e6" stroke="#cacaca" stroke-width="0.75"/>
<rect x="375.27" y="506.00" width="8.966" height="8.928" fill="#e6e6e6" stroke="#cacaca" stroke-width="0.75"/>
<rect x="384.24" y="506.00" width="9.966" height="8.928" fill="#e6e6e6" stroke="#cacaca" stroke-width="0.75"/>
<rect x="16.21" y="514.92" width="9.367" height="8.928" fill="#e8c6a0" stroke="#cacaca" stroke-width="0.75"/>
<rect x="25.58" y="514.92" width="8.966" height="8.928" fill="#e8c6a0" stroke="#cacaca" stroke-width="0.75"/>
<rect x="34.54" y="514.92" width="8.966" height="8.928" fill="#e8c6a0" stroke="#cacaca" stroke-width="0.75"/>
<rect x="43.51" y="514.92" width="8.966" height="8.928" fill="#000000" stroke="#cacaca" stroke-width="0.75"/>
<rect x="52.48" y="514.92" width="8.966" height="8.928" fill="#f08428" stroke="#cacaca" stroke-width="0.75"/>
<rect x="61.44" y="514.92" width="8.966" height="8.928" fill="#f04880" stroke="#cacaca" stroke-width="0.75"/>
<rect x="70.41" y="514.92" width="8.966" height="8.928" fill="#e6e6e6" stroke="#cacaca" stroke-width="0.75"/>
<rect x="79.38" y="514.92" width="8.966" height="8.928" fill="#e6e6e6" stroke="#cacaca" stroke-width="0.75"/>
<rect x="88.34" y="514.92" width="8.966" height="8.928" fill="#e6e6e6" stroke="#cacaca" stroke-width="0.75"/>
<rect x="97.31" y="514.92" width="8.966" height="8.928" fill="#e6e6e6" stroke="#cacaca" stroke-width="0.75"/>
<rect x="106.27" y="514.92" width="8.966" height="8.928" fill="#e6e6e6" stroke="#cacaca" stroke-width="0.75"/>
<rect x="115.24" y="514.92" width="8.966" height="8.928" fill="#e6e6e6" stroke="#cacaca" stroke-width="0.75"/>
<rect x="124.21" y="514.92" width="8.966" height="8.928" fill="#e6e6e6" stroke="#cacaca" stroke-width="0.75"/>
<rect x="133.17" y="514.92" width="8.966" height="8.928" fill="#e6e6e6" stroke="#cacaca" stroke-width="0.75"/>
<rect x="142.14" y="514.92" width="8.966" height="8.928" fill="#e6e6e6" stroke="#cacaca" stroke-width="0.75"/>
<rect x="151.11" y="514.92" width="8.966" height="8.928" fill="#e6e6e6" stroke="#cacaca" stroke-width="0.75"/>
<rect x="160.07" y="514.92" width="8.966" height="8.928" fill="#e6e6e6" stroke="#cacaca" stroke-width="0.75"/>
<rect x="169.04" y="514.92" width="8.966" height="8.928" fill="#e6e6e6" stroke="#cacaca" stroke-width="0.75"/>
<rect x="178.01" y="514.92" width="8.966" height="8.928" fill="#e6e6e6" stroke="#cacaca" stroke-width="0.75"/>
<rect x="186.97" y="514.92" width="8.966" height="8.928" fill="#e6e6e6" stroke="#cacaca" stroke-width="0.75"/>
<rect x="195.94" y="514.92" width="8.966" height="8.928" fill="#e6e6e6" stroke="#cacaca" stroke-width="0.75"/>
<rect x="204.91" y="514.92" width="8.966" height="8.928" fill="#e6e6e6" stroke="#cacaca" stroke-width="0.75"/>
<rect x="213.87" y="514.92" width="8.966" height="8.928" fill="#e6e6e6" stroke="#cacaca" stroke-width="0.75"/>
<rect x="222.84" y="514.92" width="8.966" height="8.928" fill="#e6e6e6" stroke="#cacaca" stroke-width="0.75"/>
<rect x="231.81" y="514.92" width="8.966" height="8.928" fill="#e6e6e6" stroke="#cacaca" stroke-width="0.75"/>
<rect x="240.77" y="514.92" width="8.966" height="8.928" fill="#e6e6e6" stroke="#cacaca" stroke-width="0.75"/>
<rect x="249.74" y="514.92" width="8.966" height="8.928" fill="#e6e6e6" stroke="#cacaca" stroke-width="0.75"/>
<rect x="258.71" y="514.92" width="8.966" height="8.928" fill="#e6e6e6" stroke="#cacaca" stroke-width="0.75"/>
<rect x="267.67" y="514.92" width="8.966" height="8.928" fill="#e6e6e6" stroke="#cacaca" stroke-width="0.75"/>
<rect x="276.64" y="514.92" width="8.966" height="8.928" fill="#e6e6e6" stroke="#cacaca" stroke-width="0.75"/>
<rect x="285.61" y="514.92" width="8.966" height="8.928" fill="#e6e6e6" stroke="#cacaca" stroke-width="0.75"/>
<rect x="294.57" y="514.92" width="8.966" height="8.928" fill="#e6e6e6" stroke="#cacaca" stroke-width="0.75"/>
<rect x="303.54" y="514.92" width="8.966" height="8.928" fill="#e6e6e6" stroke="#cacaca" stroke-width="0.75"/>
<rect x="312.50" y="514.92" width="8.966" height="8.928" fill="#e6e6e6" stroke="#cacaca" stroke-width="0.75"/>
<rect x="321.47" y="514.92" width="8.966" height="8.928" fill="#e6e6e6" stroke="#cacaca" stroke-width="0.75"/>
<rect x="330.44" y="514.92" width="8.966" height="8.928" fill="#e6e6e6" stroke="#cacaca" stroke-width="0.75"/>
<rect x="339.40" y="514.92" width="8.966" height="8.928" fill="#e6e6e6" stroke="#cacaca" stroke-width="0.75"/>
<rect x="348.37" y="514.92" width="8.966" height="8.928" fill="#e6e6e6" stroke="#cacaca" stroke-width="0.75"/>
<rect x="357.34" y="514.92" width="8.966" height="8.928" fill="#e6e6e6" stroke="#cacaca" stroke-width="0.75"/>
<rect x="366.30" y="514.92" width="8.966" height="8.928" fill="#e6e6e6" stroke="#cacaca" stroke-width="0.75"/>
<rect x="375.27" y="514.92" width="8.966" height="8.928" fill="#e6e6e6" stroke="#cacaca" stroke-width="0.75"/>
<rect x="384.24" y="514.92" width="9.966" height="8.928" fill="#e6e6e6" stroke="#cacaca" stroke-width="0.75"/>
<rect x="16.21" y="523.85" width="9.367" height="8.928" fill="#f08428" stroke="#cacaca" stroke-width="0.75"/>
<rect x="25.58" y="523.85" width="8.966" height="8.928" fill="#f08428" stroke="#cacaca" stroke-width="0.75"/>
<rect x="34.54" y="523.85" width="8.966" height="8.928" fill="#f08428" stroke="#cacaca" stroke-width="0.75"/>
<rect x="43.51" y="523.85" width="8.966" height="8.928" fill="#f08428" stroke="#cacaca" stroke-width="0.75"/>
<rect x="52.48" y="523.85" width="8.966" height="8.928" fill="#f08428" stroke="#cacaca" stroke-width="0.75"/>
<rect x="61.44" y="523.85" width="8.966" height="8.928" fill="#f08428" stroke="#cacaca" stroke-width="0.75"/>
<rect x="70.41" y="523.85" width="8.966" height="8.928" fill="#f08428" stroke="#cacaca" stroke-width="0.75"/>
<rect x="79.38" y="523.85" width="8.966" height="8.928" fill="#f08428" stroke="#cacaca" stroke-width="0.75"/>
<rect x="88.34" y="523.85" width="8.966" height="8.928" fill="#f04880" stroke="#cacaca" stroke-width="0.75"/>
<rect x="97.31" y="523.85" width="8.966" height="8.928" fill="#ffffff" stroke="#cacaca" stroke-width="0.75"/>
<rect x="106.27" y="523.85" width="8.966" height="8.928" fill="#ffffff" stroke="#cacaca" stroke-width="0.75"/>
<rect x="115.24" y="523.85" width="8.966" height="8.928" fill="#e6e6e6" stroke="#cacaca" stroke-width="0.75"/>
<rect x="124.21" y="523.85" width="8.966" height="8.928" fill="#e6e6e6" stroke="#cacaca" stroke-width="0.75"/>
<rect x="133.17" y="523.85" width="8.966" height="8.928" fill="#e6e6e6" stroke="#cacaca" stroke-width="0.75"/>
<rect x="142.14" y="523.85" width="8.966" height="8.928" fill="#e6e6e6" stroke="#cacaca" stroke-width="0.75"/>
<rect x="151.11" y="523.85" width="8.966" height="8.928" fill="#e6e6e6" stroke="#cacaca" stroke-width="0.75"/>
<rect x="160.07" y="523.85" width="8.966" height="8.928" fill="#e6e6e6" stroke="#cacaca" stroke-width="0.75"/>
<rect x="169.04" y="523.85" width="8.966" height="8.928" fill="#e6e6e6" stroke="#cacaca" stroke-width="0.75"/>
<rect x="178.01" y="523.85" width="8.966" height="8.928" fill="#e6e6e6" stroke="#cacaca" stroke-width="0.75"/>
<rect x="186.97" y="523.85" width="8.966" height="8.928" fill="#e6e6e6" stroke="#cacaca" stroke-width="0.75"/>
<rect x="195.94" y="523.85" width="8.966" height="8.928" fill="#e6e6e6" stroke="#cacaca" stroke-width="0.75"/>
<rect x="204.91" y="523.85" width="8.966" height="8.928" fill="#e6e6e6" stroke="#cacaca" stroke-width="0.75"/>
<rect x="213.87" y="523.85" width="8.966" height="8.928" fill="#e6e6e6" stroke="#cacaca" stroke-width="0.75"/>
<rect x="222.84" y="523.85" width="8.966" height="8.928" fill="#e6e6e6" stroke="#cacaca" stroke-width="0.75"/>
<rect x="231.81" y="523.85" width="8.966" height="8.928" fill="#e6e6e6" stroke="#cacaca" stroke-width="0.75"/>
<rect x="240.77" y="523.85" width="8.966" height="8.928" fill="#e6e6e6" stroke="#cacaca" stroke-width="0.75"/>
<rect x="249.74" y="523.85" width="8.966" height="8.928" fill="#e6e6e6" stroke="#cacaca" stroke-width="0.75"/>
<rect x="258.71" y="523.85" width="8.966" height="8.928" fill="#e6e6e6" stroke="#cacaca" stroke-width="0.75"/>
<rect x="267.67" y="523.85" width="8.966" height="8.928" fill="#e6e6e6" stroke="#cacaca" stroke-width="0.75"/>
<rect x="276.64" y="523.85" width="8.966" height="8.928" fill="#e6e6e6" stroke="#cacaca" stroke-width="0.75"/>
<rect x="285.61" y="523.85" width="8.966" height="8.928" fill="#e6e6e6" stroke="#cacaca" stroke-width="0.75"/>
<rect x="294.57" y="523.85" width="8.966" height="8.928" fill="#e6e6e6" stroke="#cacaca" stroke-width="0.75"/>
<rect x="303.54" y="523.85" width="8.966" height="8.928" fill="#e6e6e6" stroke="#cacaca" stroke-width="0.75"/>
<rect x="312.50" y="523.85" width="8.966" height="8.928" fill="#e6e6e6" stroke="#cacaca" stroke-width="0.75"/>
<rect x="321.47" y="523.85" width="8.966" height="8.928" fill="#e6e6e6" stroke="#cacaca" stroke-width="0.75"/>
<rect x="330.44" y="523.85" width="8.966" height="8.928" fill="#e6e6e6" stroke="#cacaca" stroke-width="0.75"/>
<rect x="339.40" y="523.85" width="8.966" height="8.928" fill="#e6e6e6" stroke="#cacaca" stroke-width="0.75"/>
<rect x="348.37" y="523.85" width="8.966" height="8.928" fill="#e6e6e6" stroke="#cacaca" stroke-width="0.75"/>
<rect x="357.34" y="523.85" width="8.966" height="8.928" fill="#e6e6e6" stroke="#cacaca" stroke-width="0.75"/>
<rect x="366.30" y="523.85" width="8.966" height="8.928" fill="#e6e6e6" stroke="#cacaca" stroke-width="0.75"/>
<rect x="375.27" y="523.85" width="8.966" height="8.928" fill="#e6e6e6" stroke="#cacaca" stroke-width="0.75"/>
<rect x="384.24" y="523.85" width="9.966" height="8.928" fill="#e6e6e6" stroke="#cacaca" stroke-width="0.75"/>
<rect x="16.21" y="532.78" width="9.367" height="9.428" fill="#f08428" stroke="#cacaca" stroke-width="0.75"/>
<rect x="25.58" y="532.78" width="8.966" height="9.428" fill="#ff08f4" stroke="#cacaca" stroke-width="0.75"/>
<rect x="34.54" y="532.78" width="8.966" height="9.428" fill="#c8a048" stroke="#cacaca" stroke-width="0.75"/>
<rect x="43.51" y="532.78" width="8.966" height="9.428" fill="#8058f8" stroke="#cacaca" stroke-width="0.75"/>
<rect x="52.48" y="532.78" width="8.966" height="9.428" fill="#e6e6e6" stroke="#cacaca" stroke-width="0.75"/>
<rect x="61.44" y="532.78" width="8.966" height="9.428" fill="#e6e6e6" stroke="#cacaca" stroke-width="0.75"/>
<rect x="70.41" y="532.78" width="8.966" height="9.428" fill="#e6e6e6" stroke="#cacaca" stroke-width="0.75"/>
<rect x="79.38" y="532.78" width="8.966" height="9.428" fill="#e6e6e6" stroke="#cacaca" stroke-width="0.75"/>
<rect x="88.34" y="532.78" width="8.966" height="9.428" fill="#e6e6e6" stroke="#cacaca" stroke-width="0.75"/>
<rect x="97.31" y="532.78" width="8.966" height="9.428" fill="#e6e6e6" stroke="#cacaca" stroke-width="0.75"/>
<rect x="106.27" y="532.78" width="8.966" height="9.428" fill="#e6e6e6" stroke="#cacaca" stroke-width="0.75"/>
<rect x="115.24" y="532.78" width="8.966" height="9.428" fill="#e6e6e6" stroke="#cacaca" stroke-width="0.75"/>
<rect x="124.21" y="532.78" width="8.966" height="9.428" fill="#e6e6e6" stroke="#cacaca" stroke-width="0.75"/>
<rect x="133.17" y="532.78" width="8.966" height="9.428" fill="#e6e6e6" stroke="#cacaca" stroke-width="0.75"/>
<rect x="142.14" y="532.78" width="8.966" height="9.428" fill="#e6e6e6" stroke="#cacaca" stroke-width="0.75"/>
<rect x="151.11" y="532.78" width="8.966" height="9.428" fill="#e6e6e6" stroke="#cacaca" stroke-width="0.75"/>
<rect x="160.07" y="532.78" width="8.966" height="9.428" fill="#e6e6e6" stroke="#cacaca" stroke-width="0.75"/>
<rect x="169.04" y="532.78" width="8.966" height="9.428" fill="#e6e6e6" stroke="#cacaca" stroke-width="0.75"/>
<rect x="178.01" y="532.78" width="8.966" height="9.428" fill="#e6e6e6" stroke="#cacaca" stroke-width="0.75"/>
<rect x="186.97" y="532.78" width="8.966" height="9.428" fill="#e6e6e6" stroke="#cacaca" stroke-width="0.75"/>
<rect x="195.94" y="532.78" width="8.966" height="9.428" fill="#e6e6e6" stroke="#cacaca" stroke-width="0.75"/>
<rect x="204.91" y="532.78" width="8.966" height="9.428" fill="#e6e6e6" stroke="#cacaca" stroke-width="0.75"/>
<rect x="213.87" y="532.78" width="8.966" height="9.428" fill="#e6e6e6" stroke="#cacaca" stroke-width="0.75"/>
<rect x="222.84" y="532.78" width="8.966" height="9.428" fill="#e6e6e6" stroke="#cacaca" stroke-width="0.75"/>
<rect x="231.81" y="532.78" width="8.966" height="9.428" fill="#e6e6e6" stroke="#cacaca" stroke-width="0.75"/>
<rect x="240.77" y="532.78" width="8.966" height="9.428" fill="#e6e6e6" stroke="#cacaca" stroke-width="0.75"/>
<rect x="249.74" y="532.78" width="8.966" height="9.428" fill="#e6e6e6" stroke="#cacaca" stroke-width="0.75"/>
<rect x="258.71" y="532.78" width="8.966" height="9.428" fill="#e6e6e6" stroke="#cacaca" stroke-width="0.75"/>
<rect x="267.67" y="532.78" width="8.966" height="9.428" fill="#e6e6e6" stroke="#cacaca" stroke-width="0.75"/>
<rect x="276.64" y="532.78" width="8.966" height="9.428" fill="#e6e6e6" stroke="#cacaca" stroke-width="0.75"/>
<rect x="285.61" y="532.78" width="8.966" height="9.428" fill="#e6e6e6" stroke="#cacaca" stroke-width="0.75"/>
<rect x="294.57" y="532.78" width="8.966" height="9.428" fill="#e6e6e6" stroke="#cacaca" stroke-width="0.75"/>
<rect x="303.54" y="532.78" width="8.966" height="9.428" fill="#e6e6e6" stroke="#cacaca" stroke-width="0.75"/>
<rect x="312.50" y="532.78" width="8.966" height="9.428" fill="#e6e6e6" stroke="#cacaca" stroke-width="0.75"/>
<rect x="321.47" y="532.78" width="8.966" height="9.428" fill="#e6e6e6" stroke="#cacaca" stroke-width="0.75"/>
<rect x="330.44" y="532.78" width="8.966" height="9.428" fill="#e6e6e6" stroke="#cacaca" stroke-width="0.75"/>
<rect x="339.40" y="532.78" width="8.966" height="9.428" fill="#e6e6e6" stroke="#cacaca" stroke-width="0.75"/>
<rect x="348.37" y="532.78" width="8.966" height="9.428" fill="#e6e6e6" stroke="#cacaca" stroke-width="0.75"/>
<rect x="357.34" y="532.78" width="8.966" height="9.428" fill="#e6e6e6" stroke="#cacaca" stroke-width="0.75"/>
<rect x="366.30" y="532.78" width="8.966" height="9.428" fill="#e6e6e6" stroke="#cacaca" stroke-width="0.75"/>
<rect x="375.27" y="532.78" width="8.966" height="9.428" fill="#e6e6e6" stroke="#cacaca" stroke-width="0.75"/>
<rect x="384.24" y="532.78" width="9.966" height="9.428" fill="#e6e6e6" stroke="#cacaca" stroke-width="0.75"/>
<rect x="16.3" y="300.3" width="378.20" height="242.00" fill="none" stroke="#333333" stroke-width="1.1"/>
<line x1="14.30" y1="305.13" x2="15.7" y2="305.13" stroke="#bbb" stroke-width="0.4"/>
<text x="13.0" y="307.48" font-size="6.6" text-anchor="end" fill="#1a1a1a">A1</text>
<line x1="14.30" y1="314.06" x2="15.7" y2="314.06" stroke="#bbb" stroke-width="0.4"/>
<text x="13.0" y="316.41" font-size="6.6" text-anchor="end" fill="#1a1a1a">A2</text>
<line x1="14.30" y1="322.98" x2="15.7" y2="322.98" stroke="#bbb" stroke-width="0.4"/>
<text x="13.0" y="325.33" font-size="6.6" text-anchor="end" fill="#1a1a1a">A3</text>
<line x1="14.30" y1="331.91" x2="15.7" y2="331.91" stroke="#bbb" stroke-width="0.4"/>
<text x="13.0" y="334.26" font-size="6.6" text-anchor="end" fill="#1a1a1a">A4</text>
<line x1="14.30" y1="340.84" x2="15.7" y2="340.84" stroke="#bbb" stroke-width="0.4"/>
<text x="13.0" y="343.19" font-size="6.6" text-anchor="end" fill="#1a1a1a">A5</text>
<line x1="14.30" y1="349.77" x2="15.7" y2="349.77" stroke="#bbb" stroke-width="0.4"/>
<text x="13.0" y="352.12" font-size="6.6" text-anchor="end" fill="#1a1a1a">A6</text>
<line x1="14.30" y1="358.69" x2="15.7" y2="358.69" stroke="#bbb" stroke-width="0.4"/>
<text x="13.0" y="361.04" font-size="6.6" text-anchor="end" fill="#1a1a1a">A7</text>
<line x1="14.30" y1="367.62" x2="15.7" y2="367.62" stroke="#bbb" stroke-width="0.4"/>
<text x="13.0" y="369.97" font-size="6.6" text-anchor="end" fill="#1a1a1a">A8</text>
<line x1="14.30" y1="376.55" x2="15.7" y2="376.55" stroke="#bbb" stroke-width="0.4"/>
<text x="13.0" y="378.90" font-size="6.6" text-anchor="end" fill="#1a1a1a">A15</text>
<line x1="14.30" y1="385.48" x2="15.7" y2="385.48" stroke="#bbb" stroke-width="0.4"/>
<text x="13.0" y="387.83" font-size="6.6" text-anchor="end" fill="#1a1a1a">A16</text>
<line x1="14.30" y1="394.40" x2="15.7" y2="394.40" stroke="#bbb" stroke-width="0.4"/>
<text x="13.0" y="396.75" font-size="6.6" text-anchor="end" fill="#1a1a1a">A17</text>
<line x1="14.30" y1="403.33" x2="15.7" y2="403.33" stroke="#bbb" stroke-width="0.4"/>
<text x="13.0" y="405.68" font-size="6.6" text-anchor="end" fill="#1a1a1a">A18</text>
<line x1="14.30" y1="412.26" x2="15.7" y2="412.26" stroke="#bbb" stroke-width="0.4"/>
<text x="13.0" y="414.61" font-size="6.6" text-anchor="end" fill="#1a1a1a">A24</text>
<line x1="14.30" y1="421.19" x2="15.7" y2="421.19" stroke="#bbb" stroke-width="0.4"/>
<text x="13.0" y="423.54" font-size="6.6" text-anchor="end" fill="#1a1a1a">A25</text>
<line x1="14.30" y1="430.11" x2="15.7" y2="430.11" stroke="#bbb" stroke-width="0.4"/>
<text x="13.0" y="432.46" font-size="6.6" text-anchor="end" fill="#1a1a1a">A26</text>
<line x1="14.30" y1="439.04" x2="15.7" y2="439.04" stroke="#bbb" stroke-width="0.4"/>
<text x="13.0" y="441.39" font-size="6.6" text-anchor="end" fill="#1a1a1a">A27</text>
<line x1="14.30" y1="447.97" x2="15.7" y2="447.97" stroke="#bbb" stroke-width="0.4"/>
<text x="13.0" y="450.32" font-size="6.6" text-anchor="end" fill="#1a1a1a">A28</text>
<line x1="14.30" y1="456.90" x2="15.7" y2="456.90" stroke="#bbb" stroke-width="0.4"/>
<text x="13.0" y="459.25" font-size="6.6" text-anchor="end" fill="#1a1a1a">A29</text>
<line x1="14.30" y1="465.82" x2="15.7" y2="465.82" stroke="#bbb" stroke-width="0.4"/>
<text x="13.0" y="468.17" font-size="6.6" text-anchor="end" fill="#1a1a1a">A30</text>
<line x1="14.30" y1="474.75" x2="15.7" y2="474.75" stroke="#bbb" stroke-width="0.4"/>
<text x="13.0" y="477.10" font-size="6.6" text-anchor="end" fill="#1a1a1a">A31</text>
<line x1="14.30" y1="483.68" x2="15.7" y2="483.68" stroke="#bbb" stroke-width="0.4"/>
<text x="13.0" y="486.03" font-size="6.6" text-anchor="end" fill="#1a1a1a">A32</text>
<line x1="14.30" y1="492.61" x2="15.7" y2="492.61" stroke="#bbb" stroke-width="0.4"/>
<text x="13.0" y="494.96" font-size="6.6" text-anchor="end" fill="#1a1a1a">A33</text>
<line x1="14.30" y1="501.53" x2="15.7" y2="501.53" stroke="#bbb" stroke-width="0.4"/>
<text x="13.0" y="503.88" font-size="6.6" text-anchor="end" fill="#1a1a1a">A34</text>
<line x1="14.30" y1="510.46" x2="15.7" y2="510.46" stroke="#bbb" stroke-width="0.4"/>
<text x="13.0" y="512.81" font-size="6.6" text-anchor="end" fill="#1a1a1a">A35</text>
<line x1="14.30" y1="519.39" x2="15.7" y2="519.39" stroke="#bbb" stroke-width="0.4"/>
<text x="13.0" y="521.74" font-size="6.6" text-anchor="end" fill="#1a1a1a">A36</text>
<line x1="14.30" y1="528.32" x2="15.7" y2="528.32" stroke="#bbb" stroke-width="0.4"/>
<text x="13.0" y="530.67" font-size="6.6" text-anchor="end" fill="#1a1a1a">A37</text>
<line x1="14.30" y1="537.24" x2="15.7" y2="537.24" stroke="#bbb" stroke-width="0.4"/>
<text x="13.0" y="539.59" font-size="6.6" text-anchor="end" fill="#1a1a1a">A38</text>
<line x1="21.09" y1="542.9" x2="21.09" y2="544.3" stroke="#bbb" stroke-width="0.4"/>
<text x="21.09" y="551.2" font-size="7" text-anchor="middle" fill="#1a1a1a">1</text>
<line x1="30.06" y1="542.9" x2="30.06" y2="544.3" stroke="#bbb" stroke-width="0.4"/>
<text x="30.06" y="551.2" font-size="7" text-anchor="middle" fill="#1a1a1a">2</text>
<line x1="39.03" y1="542.9" x2="39.03" y2="544.3" stroke="#bbb" stroke-width="0.4"/>
<text x="39.03" y="551.2" font-size="7" text-anchor="middle" fill="#1a1a1a">3</text>
<line x1="47.99" y1="542.9" x2="47.99" y2="544.3" stroke="#bbb" stroke-width="0.4"/>
<text x="47.99" y="551.2" font-size="7" text-anchor="middle" fill="#1a1a1a">4</text>
<line x1="56.96" y1="542.9" x2="56.96" y2="544.3" stroke="#bbb" stroke-width="0.4"/>
<text x="56.96" y="551.2" font-size="7" text-anchor="middle" fill="#1a1a1a">5</text>
<line x1="65.93" y1="542.9" x2="65.93" y2="544.3" stroke="#bbb" stroke-width="0.4"/>
<text x="65.93" y="551.2" font-size="7" text-anchor="middle" fill="#1a1a1a">6</text>
<line x1="74.89" y1="542.9" x2="74.89" y2="544.3" stroke="#bbb" stroke-width="0.4"/>
<text x="74.89" y="551.2" font-size="7" text-anchor="middle" fill="#1a1a1a">7</text>
<line x1="83.86" y1="542.9" x2="83.86" y2="544.3" stroke="#bbb" stroke-width="0.4"/>
<text x="83.86" y="551.2" font-size="7" text-anchor="middle" fill="#1a1a1a">8</text>
<line x1="92.83" y1="542.9" x2="92.83" y2="544.3" stroke="#bbb" stroke-width="0.4"/>
<text x="92.83" y="551.2" font-size="7" text-anchor="middle" fill="#1a1a1a">9</text>
<line x1="101.79" y1="542.9" x2="101.79" y2="544.3" stroke="#bbb" stroke-width="0.4"/>
<text x="101.79" y="551.2" font-size="7" text-anchor="middle" fill="#1a1a1a">10</text>
<line x1="110.76" y1="542.9" x2="110.76" y2="544.3" stroke="#bbb" stroke-width="0.4"/>
<text x="110.76" y="551.2" font-size="7" text-anchor="middle" fill="#1a1a1a">11</text>
<line x1="119.72" y1="542.9" x2="119.72" y2="544.3" stroke="#bbb" stroke-width="0.4"/>
<text x="119.72" y="551.2" font-size="7" text-anchor="middle" fill="#1a1a1a">12</text>
<line x1="128.69" y1="542.9" x2="128.69" y2="544.3" stroke="#bbb" stroke-width="0.4"/>
<text x="128.69" y="551.2" font-size="7" text-anchor="middle" fill="#1a1a1a">13</text>
<line x1="137.66" y1="542.9" x2="137.66" y2="544.3" stroke="#bbb" stroke-width="0.4"/>
<text x="137.66" y="551.2" font-size="7" text-anchor="middle" fill="#1a1a1a">14</text>
<line x1="146.62" y1="542.9" x2="146.62" y2="544.3" stroke="#bbb" stroke-width="0.4"/>
<text x="146.62" y="551.2" font-size="7" text-anchor="middle" fill="#1a1a1a">15</text>
<line x1="155.59" y1="542.9" x2="155.59" y2="544.3" stroke="#bbb" stroke-width="0.4"/>
<text x="155.59" y="551.2" font-size="7" text-anchor="middle" fill="#1a1a1a">16</text>
<line x1="164.56" y1="542.9" x2="164.56" y2="544.3" stroke="#bbb" stroke-width="0.4"/>
<text x="164.56" y="551.2" font-size="7" text-anchor="middle" fill="#1a1a1a">17</text>
<line x1="173.52" y1="542.9" x2="173.52" y2="544.3" stroke="#bbb" stroke-width="0.4"/>
<text x="173.52" y="551.2" font-size="7" text-anchor="middle" fill="#1a1a1a">18</text>
<line x1="182.49" y1="542.9" x2="182.49" y2="544.3" stroke="#bbb" stroke-width="0.4"/>
<text x="182.49" y="551.2" font-size="7" text-anchor="middle" fill="#1a1a1a">19</text>
<line x1="191.46" y1="542.9" x2="191.46" y2="544.3" stroke="#bbb" stroke-width="0.4"/>
<text x="191.46" y="551.2" font-size="7" text-anchor="middle" fill="#1a1a1a">20</text>
<line x1="200.42" y1="542.9" x2="200.42" y2="544.3" stroke="#bbb" stroke-width="0.4"/>
<text x="200.42" y="551.2" font-size="7" text-anchor="middle" fill="#1a1a1a">21</text>
<line x1="209.39" y1="542.9" x2="209.39" y2="544.3" stroke="#bbb" stroke-width="0.4"/>
<text x="209.39" y="551.2" font-size="7" text-anchor="middle" fill="#1a1a1a">22</text>
<line x1="218.36" y1="542.9" x2="218.36" y2="544.3" stroke="#bbb" stroke-width="0.4"/>
<text x="218.36" y="551.2" font-size="7" text-anchor="middle" fill="#1a1a1a">23</text>
<line x1="227.32" y1="542.9" x2="227.32" y2="544.3" stroke="#bbb" stroke-width="0.4"/>
<text x="227.32" y="551.2" font-size="7" text-anchor="middle" fill="#1a1a1a">24</text>
<line x1="236.29" y1="542.9" x2="236.29" y2="544.3" stroke="#bbb" stroke-width="0.4"/>
<text x="236.29" y="551.2" font-size="7" text-anchor="middle" fill="#1a1a1a">25</text>
<line x1="245.26" y1="542.9" x2="245.26" y2="544.3" stroke="#bbb" stroke-width="0.4"/>
<text x="245.26" y="551.2" font-size="7" text-anchor="middle" fill="#1a1a1a">26</text>
<line x1="254.22" y1="542.9" x2="254.22" y2="544.3" stroke="#bbb" stroke-width="0.4"/>
<text x="254.22" y="551.2" font-size="7" text-anchor="middle" fill="#1a1a1a">27</text>
<line x1="263.19" y1="542.9" x2="263.19" y2="544.3" stroke="#bbb" stroke-width="0.4"/>
<text x="263.19" y="551.2" font-size="7" text-anchor="middle" fill="#1a1a1a">28</text>
<line x1="272.16" y1="542.9" x2="272.16" y2="544.3" stroke="#bbb" stroke-width="0.4"/>
<text x="272.16" y="551.2" font-size="7" text-anchor="middle" fill="#1a1a1a">29</text>
<line x1="281.12" y1="542.9" x2="281.12" y2="544.3" stroke="#bbb" stroke-width="0.4"/>
<text x="281.12" y="551.2" font-size="7" text-anchor="middle" fill="#1a1a1a">30</text>
<line x1="290.09" y1="542.9" x2="290.09" y2="544.3" stroke="#bbb" stroke-width="0.4"/>
<text x="290.09" y="551.2" font-size="7" text-anchor="middle" fill="#1a1a1a">31</text>
<line x1="299.05" y1="542.9" x2="299.05" y2="544.3" stroke="#bbb" stroke-width="0.4"/>
<text x="299.05" y="551.2" font-size="7" text-anchor="middle" fill="#1a1a1a">32</text>
<line x1="308.02" y1="542.9" x2="308.02" y2="544.3" stroke="#bbb" stroke-width="0.4"/>
<text x="308.02" y="551.2" font-size="7" text-anchor="middle" fill="#1a1a1a">33</text>
<line x1="316.99" y1="542.9" x2="316.99" y2="544.3" stroke="#bbb" stroke-width="0.4"/>
<text x="316.99" y="551.2" font-size="7" text-anchor="middle" fill="#1a1a1a">34</text>
<line x1="325.95" y1="542.9" x2="325.95" y2="544.3" stroke="#bbb" stroke-width="0.4"/>
<text x="325.95" y="551.2" font-size="7" text-anchor="middle" fill="#1a1a1a">35</text>
<line x1="334.92" y1="542.9" x2="334.92" y2="544.3" stroke="#bbb" stroke-width="0.4"/>
<text x="334.92" y="551.2" font-size="7" text-anchor="middle" fill="#1a1a1a">36</text>
<line x1="343.89" y1="542.9" x2="343.89" y2="544.3" stroke="#bbb" stroke-width="0.4"/>
<text x="343.89" y="551.2" font-size="7" text-anchor="middle" fill="#1a1a1a">37</text>
<line x1="352.85" y1="542.9" x2="352.85" y2="544.3" stroke="#bbb" stroke-width="0.4"/>
<text x="352.85" y="551.2" font-size="7" text-anchor="middle" fill="#1a1a1a">38</text>
<line x1="361.82" y1="542.9" x2="361.82" y2="544.3" stroke="#bbb" stroke-width="0.4"/>
<text x="361.82" y="551.2" font-size="7" text-anchor="middle" fill="#1a1a1a">39</text>
<line x1="370.79" y1="542.9" x2="370.79" y2="544.3" stroke="#bbb" stroke-width="0.4"/>
<text x="370.79" y="551.2" font-size="7" text-anchor="middle" fill="#1a1a1a">40</text>
<line x1="379.75" y1="542.9" x2="379.75" y2="544.3" stroke="#bbb" stroke-width="0.4"/>
<text x="379.75" y="551.2" font-size="7" text-anchor="middle" fill="#1a1a1a">41</text>
<line x1="388.72" y1="542.9" x2="388.72" y2="544.3" stroke="#bbb" stroke-width="0.4"/>
<text x="388.72" y="551.2" font-size="7" text-anchor="middle" fill="#1a1a1a">42</text>
<rect x="405.8" y="297.20" width="7.2" height="6.8" fill="#4de51e" stroke="#d8d8d8" stroke-width="0.3"/>
<text x="416.8" y="303.45" font-size="7" fill="#1a1a1a">Antigen presentation</text>
<rect x="405.8" y="304.84" width="7.2" height="6.8" fill="#ffe70a" stroke="#d8d8d8" stroke-width="0.3"/>
<text x="416.8" y="311.09" font-size="7" fill="#1a1a1a">B cells</text>
<rect x="405.8" y="312.48" width="7.2" height="6.8" fill="#4a8a12" stroke="#d8d8d8" stroke-width="0.3"/>
<text x="416.8" y="318.73" font-size="7" fill="#1a1a1a">Cell adhesion</text>
<rect x="405.8" y="320.12" width="7.2" height="6.8" fill="#9cc890" stroke="#d8d8d8" stroke-width="0.3"/>
<text x="416.8" y="326.37" font-size="7" fill="#1a1a1a">Cell cycle</text>
<rect x="405.8" y="327.76" width="7.2" height="6.8" fill="#000000" stroke="#d8d8d8" stroke-width="0.3"/>
<text x="416.8" y="334.01" font-size="7" fill="#1a1a1a">Cell death</text>
<rect x="405.8" y="335.40" width="7.2" height="6.8" fill="#d0e24e" stroke="#d8d8d8" stroke-width="0.3"/>
<text x="416.8" y="341.65" font-size="7" fill="#1a1a1a">Cellular respiration</text>
<rect x="405.8" y="343.04" width="7.2" height="6.8" fill="#484c4c" stroke="#d8d8d8" stroke-width="0.3"/>
<text x="416.8" y="349.29" font-size="7" fill="#1a1a1a">Complement</text>
<rect x="405.8" y="350.68" width="7.2" height="6.8" fill="#f5c845" stroke="#d8d8d8" stroke-width="0.3"/>
<text x="416.8" y="356.93" font-size="7" fill="#1a1a1a">Cytokines/chemokines</text>
<rect x="405.8" y="358.32" width="7.2" height="6.8" fill="#f25850" stroke="#d8d8d8" stroke-width="0.3"/>
<text x="416.8" y="364.57" font-size="7" fill="#1a1a1a">Cytotoxic lymphocytes</text>
<rect x="405.8" y="365.96" width="7.2" height="6.8" fill="#f08428" stroke="#d8d8d8" stroke-width="0.3"/>
<text x="416.8" y="372.21" font-size="7" fill="#1a1a1a">Erythrocytes</text>
<rect x="405.8" y="373.60" width="7.2" height="6.8" fill="#e8c6a0" stroke="#d8d8d8" stroke-width="0.3"/>
<text x="416.8" y="379.85" font-size="7" fill="#1a1a1a">Gene transcription</text>
<rect x="405.8" y="381.24" width="7.2" height="6.8" fill="#b00c28" stroke="#d8d8d8" stroke-width="0.3"/>
<text x="416.8" y="387.49" font-size="7" fill="#1a1a1a">Inflammation</text>
<rect x="405.8" y="388.88" width="7.2" height="6.8" fill="#14f0f0" stroke="#d8d8d8" stroke-width="0.3"/>
<text x="416.8" y="395.13" font-size="7" fill="#1a1a1a">Interferon</text>
<rect x="405.8" y="396.52" width="7.2" height="6.8" fill="#1cc8c8" stroke="#d8d8d8" stroke-width="0.3"/>
<text x="416.8" y="402.77" font-size="7" fill="#1a1a1a">Interferon (Type 1)</text>
<rect x="405.8" y="404.16" width="7.2" height="6.8" fill="#62c0f6" stroke="#d8d8d8" stroke-width="0.3"/>
<text x="416.8" y="410.41" font-size="7" fill="#1a1a1a">Leukocyte activation</text>
<rect x="405.8" y="411.80" width="7.2" height="6.8" fill="#8c1898" stroke="#d8d8d8" stroke-width="0.3"/>
<text x="416.8" y="418.05" font-size="7" fill="#1a1a1a">Lipid metabolism</text>
<rect x="405.8" y="419.44" width="7.2" height="6.8" fill="#fcc8a0" stroke="#d8d8d8" stroke-width="0.3"/>
<text x="416.8" y="425.69" font-size="7" fill="#1a1a1a">Mitochondrial Stress/Proteasome</text>
<rect x="405.8" y="427.08" width="7.2" height="6.8" fill="#083c80" stroke="#d8d8d8" stroke-width="0.3"/>
<text x="416.8" y="433.33" font-size="7" fill="#1a1a1a">Monocytes</text>
<rect x="405.8" y="434.72" width="7.2" height="6.8" fill="#ff08f4" stroke="#d8d8d8" stroke-width="0.3"/>
<text x="416.8" y="440.97" font-size="7" fill="#1a1a1a">Neutrophil activation</text>
<rect x="405.8" y="442.36" width="7.2" height="6.8" fill="#f8a0d0" stroke="#d8d8d8" stroke-width="0.3"/>
<text x="416.8" y="448.61" font-size="7" fill="#1a1a1a">Neutrophils</text>
<rect x="405.8" y="450.00" width="7.2" height="6.8" fill="#a4127a" stroke="#d8d8d8" stroke-width="0.3"/>
<text x="416.8" y="456.25" font-size="7" fill="#1a1a1a">Oxidative phosphorylation</text>
<rect x="405.8" y="457.64" width="7.2" height="6.8" fill="#f04880" stroke="#d8d8d8" stroke-width="0.3"/>
<text x="416.8" y="463.89" font-size="7" fill="#1a1a1a">Oxidative stress</text>
<rect x="405.8" y="465.28" width="7.2" height="6.8" fill="#6ca0d8" stroke="#d8d8d8" stroke-width="0.3"/>
<text x="416.8" y="471.53" font-size="7" fill="#1a1a1a">Platelet</text>
<rect x="405.8" y="472.92" width="7.2" height="6.8" fill="#c8d4f8" stroke="#d8d8d8" stroke-width="0.3"/>
<text x="416.8" y="479.17" font-size="7" fill="#1a1a1a">Platelet/Prostaglandin</text>
<rect x="405.8" y="480.56" width="7.2" height="6.8" fill="#a424c8" stroke="#d8d8d8" stroke-width="0.3"/>
<text x="416.8" y="486.81" font-size="7" fill="#1a1a1a">Prostanoids</text>
<rect x="405.8" y="488.20" width="7.2" height="6.8" fill="#f8a8a0" stroke="#d8d8d8" stroke-width="0.3"/>
<text x="416.8" y="494.45" font-size="7" fill="#1a1a1a">Protein modification</text>
<rect x="405.8" y="495.84" width="7.2" height="6.8" fill="#c8a048" stroke="#d8d8d8" stroke-width="0.3"/>
<text x="416.8" y="502.09" font-size="7" fill="#1a1a1a">Protein phosphorylation</text>
<rect x="405.8" y="503.48" width="7.2" height="6.8" fill="#8058f8" stroke="#d8d8d8" stroke-width="0.3"/>
<text x="416.8" y="509.73" font-size="7" fill="#1a1a1a">Protein synthesis</text>
<rect x="405.8" y="511.12" width="7.2" height="6.8" fill="#b8a0e0" stroke="#d8d8d8" stroke-width="0.3"/>
<text x="416.8" y="517.37" font-size="7" fill="#1a1a1a">Proteolysis</text>
<rect x="405.8" y="518.76" width="7.2" height="6.8" fill="#1070c8" stroke="#d8d8d8" stroke-width="0.3"/>
<text x="416.8" y="525.01" font-size="7" fill="#1a1a1a">T cells</text>
<rect x="405.8" y="526.40" width="7.2" height="6.8" fill="#ffffff" stroke="#d8d8d8" stroke-width="0.3"/>
<text x="416.8" y="532.65" font-size="7" fill="#1a1a1a">TBD</text>
<rect x="405.8" y="534.04" width="7.2" height="6.8" fill="#108848" stroke="#d8d8d8" stroke-width="0.3"/>
<text x="416.8" y="540.29" font-size="7" fill="#1a1a1a">TGF-beta</text>
<rect x="405.8" y="541.68" width="7.2" height="6.8" fill="#a0f8d0" stroke="#d8d8d8" stroke-width="0.3"/>
<text x="416.8" y="547.93" font-size="7" fill="#1a1a1a">TNF</text>
<rect x="405.8" y="549.32" width="7.2" height="6.8" fill="#e6e6e6" stroke="#d8d8d8" stroke-width="0.3"/>
<text x="416.8" y="555.57" font-size="7" fill="#1a1a1a">NA</text>
</svg>
</body></html>
